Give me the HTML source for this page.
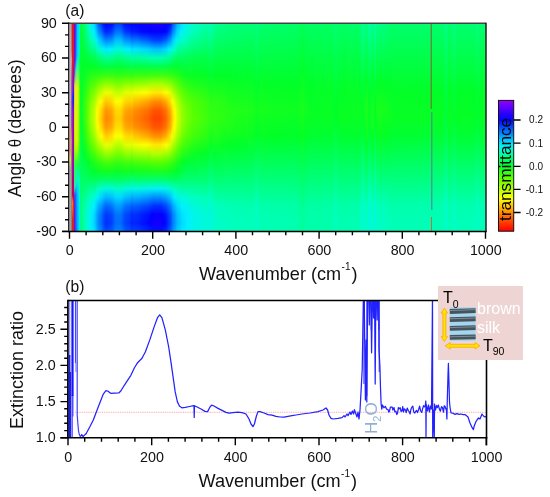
<!DOCTYPE html><html><head><meta charset="utf-8"><title>fig</title><style>
html,body{margin:0;padding:0;background:#fff}
body{width:550px;height:497px;position:relative;overflow:hidden;font-family:"Liberation Sans",sans-serif;color:#111}
.t{position:absolute;white-space:nowrap;line-height:1}
#L{position:absolute;left:0;top:0;width:550px;height:497px;will-change:transform}
.tk{font-size:14.3px}
.r{text-align:right}
.c{text-align:center}
.ax{font-size:18.1px}
.rot{transform-origin:0 0;transform:rotate(-90deg)}
sup,sub{line-height:0}
</style></head><body>
<svg width="550" height="497" viewBox="0 0 550 497" style="position:absolute;left:0;top:0"><defs><linearGradient id="g0" x1="0" y1="0" x2="0" y2="1"><stop offset="0" stop-color="#0eff22"/><stop offset="0.333" stop-color="#00ff30"/><stop offset="0.792" stop-color="#00ff64"/><stop offset="1" stop-color="#00ff69"/></linearGradient><linearGradient id="g1" x1="0" y1="0" x2="0" y2="1"><stop offset="0" stop-color="#0eff22"/><stop offset="0.333" stop-color="#00ff30"/><stop offset="0.792" stop-color="#00ff64"/><stop offset="1" stop-color="#00ff69"/></linearGradient><linearGradient id="g2" x1="0" y1="0" x2="0" y2="1"><stop offset="0" stop-color="#0eff22"/><stop offset="0.333" stop-color="#00ff30"/><stop offset="0.792" stop-color="#00ff64"/><stop offset="1" stop-color="#00ff69"/></linearGradient><linearGradient id="g3" x1="0" y1="0" x2="0" y2="1"><stop offset="0" stop-color="#0eff22"/><stop offset="0.333" stop-color="#00ff30"/><stop offset="0.792" stop-color="#00ff64"/><stop offset="1" stop-color="#00ff69"/></linearGradient><linearGradient id="g4" x1="0" y1="0" x2="0" y2="1"><stop offset="0" stop-color="#0eff22"/><stop offset="0.333" stop-color="#00ff30"/><stop offset="0.792" stop-color="#00ff64"/><stop offset="1" stop-color="#00ff69"/></linearGradient><linearGradient id="g5" x1="0" y1="0" x2="0" y2="1"><stop offset="0" stop-color="#0eff22"/><stop offset="0.333" stop-color="#00ff30"/><stop offset="0.792" stop-color="#00ff64"/><stop offset="1" stop-color="#00ff69"/></linearGradient><linearGradient id="g6" x1="0" y1="0" x2="0" y2="1"><stop offset="0" stop-color="#0eff22"/><stop offset="0.333" stop-color="#00ff30"/><stop offset="0.792" stop-color="#00ff64"/><stop offset="1" stop-color="#00ff69"/></linearGradient><linearGradient id="g7" x1="0" y1="0" x2="0" y2="1"><stop offset="0" stop-color="#0eff22"/><stop offset="0.333" stop-color="#00ff30"/><stop offset="0.792" stop-color="#00ff64"/><stop offset="1" stop-color="#00ff69"/></linearGradient><linearGradient id="g8" x1="0" y1="0" x2="0" y2="1"><stop offset="0" stop-color="#0eff22"/><stop offset="0.333" stop-color="#00ff30"/><stop offset="0.792" stop-color="#00ff64"/><stop offset="1" stop-color="#00ff69"/></linearGradient><linearGradient id="g9" x1="0" y1="0" x2="0" y2="1"><stop offset="0" stop-color="#0eff22"/><stop offset="0.333" stop-color="#00ff30"/><stop offset="0.792" stop-color="#00ff64"/><stop offset="1" stop-color="#00ff69"/></linearGradient><linearGradient id="g10" x1="0" y1="0" x2="0" y2="1"><stop offset="0" stop-color="#06ff25"/><stop offset="0.375" stop-color="#00ff2e"/><stop offset="0.875" stop-color="#00ff6f"/><stop offset="1" stop-color="#00ff70"/></linearGradient><linearGradient id="g11" x1="0" y1="0" x2="0" y2="1"><stop offset="0" stop-color="#00ff3c"/><stop offset="0.208" stop-color="#01ff27"/><stop offset="0.458" stop-color="#07ff25"/><stop offset="0.583" stop-color="#00ff3a"/><stop offset="0.875" stop-color="#00ff81"/><stop offset="1" stop-color="#00ff84"/></linearGradient><linearGradient id="g12" x1="0" y1="0" x2="0" y2="1"><stop offset="0" stop-color="#00ff57"/><stop offset="0.208" stop-color="#00ff29"/><stop offset="0.417" stop-color="#1cff1b"/><stop offset="0.542" stop-color="#0bff23"/><stop offset="0.583" stop-color="#00ff29"/><stop offset="0.875" stop-color="#00ff94"/><stop offset="0.958" stop-color="#00ff9d"/><stop offset="1" stop-color="#00ff98"/></linearGradient><linearGradient id="g13" x1="0" y1="0" x2="0" y2="1"><stop offset="0" stop-color="#0f6"/><stop offset="0.208" stop-color="#00ff29"/><stop offset="0.417" stop-color="#28ff16"/><stop offset="0.542" stop-color="#16ff1e"/><stop offset="0.625" stop-color="#00ff32"/><stop offset="0.875" stop-color="#00ff9d"/><stop offset="0.958" stop-color="#00ffa8"/><stop offset="1" stop-color="#00ffa2"/></linearGradient><linearGradient id="g14" x1="0" y1="0" x2="0" y2="1"><stop offset="0" stop-color="#00ff72"/><stop offset="0.208" stop-color="#00ff29"/><stop offset="0.375" stop-color="#2dff14"/><stop offset="0.458" stop-color="#31ff12"/><stop offset="0.583" stop-color="#0fff21"/><stop offset="0.625" stop-color="#00ff2b"/><stop offset="0.792" stop-color="#00ff7b"/><stop offset="0.875" stop-color="#00ffa4"/><stop offset="0.958" stop-color="#00ffb1"/><stop offset="1" stop-color="#0fa"/></linearGradient><linearGradient id="g15" x1="0" y1="0" x2="0" y2="1"><stop offset="0" stop-color="#00ff84"/><stop offset="0.167" stop-color="#00ff36"/><stop offset="0.208" stop-color="#00ff29"/><stop offset="0.375" stop-color="#38ff0f"/><stop offset="0.458" stop-color="#3eff0c"/><stop offset="0.542" stop-color="#2aff15"/><stop offset="0.625" stop-color="#04ff26"/><stop offset="0.75" stop-color="#00ff62"/><stop offset="0.875" stop-color="#00ffae"/><stop offset="0.958" stop-color="#00ffbd"/><stop offset="1" stop-color="#00ffb5"/></linearGradient><linearGradient id="g16" x1="0" y1="0" x2="0" y2="1"><stop offset="0" stop-color="#0f9"/><stop offset="0.083" stop-color="#00ff6d"/><stop offset="0.167" stop-color="#00ff39"/><stop offset="0.208" stop-color="#00ff29"/><stop offset="0.375" stop-color="#45ff09"/><stop offset="0.458" stop-color="#4eff05"/><stop offset="0.542" stop-color="#38ff0f"/><stop offset="0.625" stop-color="#0cff23"/><stop offset="0.667" stop-color="#00ff35"/><stop offset="0.75" stop-color="#00ff61"/><stop offset="0.875" stop-color="#00ffb9"/><stop offset="0.917" stop-color="#00fdc6"/><stop offset="1" stop-color="#00fec1"/></linearGradient><linearGradient id="g17" x1="0" y1="0" x2="0" y2="1"><stop offset="0" stop-color="#00ffb0"/><stop offset="0.083" stop-color="#00ff7c"/><stop offset="0.167" stop-color="#00ff3c"/><stop offset="0.208" stop-color="#00ff29"/><stop offset="0.375" stop-color="#53ff03"/><stop offset="0.458" stop-color="#5fff00"/><stop offset="0.542" stop-color="#46ff09"/><stop offset="0.667" stop-color="#00ff2e"/><stop offset="0.75" stop-color="#00ff60"/><stop offset="0.833" stop-color="#00ffa9"/><stop offset="0.875" stop-color="#00fec4"/><stop offset="0.917" stop-color="#00fad2"/><stop offset="0.958" stop-color="#00fad5"/><stop offset="1" stop-color="#00fccc"/></linearGradient><linearGradient id="g18" x1="0" y1="0" x2="0" y2="1"><stop offset="0" stop-color="#00fdc6"/><stop offset="0.042" stop-color="#00ffaf"/><stop offset="0.167" stop-color="#00ff40"/><stop offset="0.208" stop-color="#00ff29"/><stop offset="0.375" stop-color="#62ff00"/><stop offset="0.458" stop-color="#70ff00"/><stop offset="0.5" stop-color="#68ff00"/><stop offset="0.583" stop-color="#3bff0e"/><stop offset="0.667" stop-color="#01ff27"/><stop offset="0.75" stop-color="#00ff5f"/><stop offset="0.833" stop-color="#00ffb2"/><stop offset="0.875" stop-color="#00fbcf"/><stop offset="0.917" stop-color="#00f7df"/><stop offset="0.958" stop-color="#00f7e2"/><stop offset="1" stop-color="#00f9d8"/></linearGradient><linearGradient id="g19" x1="0" y1="0" x2="0" y2="1"><stop offset="0" stop-color="#00f9d9"/><stop offset="0.042" stop-color="#00fec2"/><stop offset="0.167" stop-color="#00ff43"/><stop offset="0.208" stop-color="#00ff29"/><stop offset="0.333" stop-color="#58ff01"/><stop offset="0.417" stop-color="#7fff00"/><stop offset="0.458" stop-color="#82ff00"/><stop offset="0.5" stop-color="#79ff00"/><stop offset="0.583" stop-color="#48ff08"/><stop offset="0.667" stop-color="#07ff25"/><stop offset="0.708" stop-color="#00ff3a"/><stop offset="0.75" stop-color="#00ff5e"/><stop offset="0.833" stop-color="#0fb"/><stop offset="0.875" stop-color="#00f9d9"/><stop offset="0.917" stop-color="#00f5eb"/><stop offset="0.958" stop-color="#00f4ee"/><stop offset="1" stop-color="#00f6e3"/></linearGradient><linearGradient id="g20" x1="0" y1="0" x2="0" y2="1"><stop offset="0" stop-color="#00f5eb"/><stop offset="0.042" stop-color="#00fad2"/><stop offset="0.083" stop-color="#00ffa9"/><stop offset="0.167" stop-color="#00ff47"/><stop offset="0.208" stop-color="#00ff29"/><stop offset="0.333" stop-color="#63ff00"/><stop offset="0.375" stop-color="#7eff00"/><stop offset="0.417" stop-color="#8eff00"/><stop offset="0.458" stop-color="#92ff00"/><stop offset="0.5" stop-color="#8f0"/><stop offset="0.583" stop-color="#53ff03"/><stop offset="0.667" stop-color="#0cff23"/><stop offset="0.708" stop-color="#00ff36"/><stop offset="0.75" stop-color="#00ff5d"/><stop offset="0.833" stop-color="#00fec2"/><stop offset="0.875" stop-color="#00f6e3"/><stop offset="0.917" stop-color="#00f2f6"/><stop offset="0.958" stop-color="#00f1fa"/><stop offset="1" stop-color="#00f4ee"/></linearGradient><linearGradient id="g21" x1="0" y1="0" x2="0" y2="1"><stop offset="0" stop-color="#00f1fb"/><stop offset="0.042" stop-color="#00f7df"/><stop offset="0.083" stop-color="#00ffb5"/><stop offset="0.167" stop-color="#00ff49"/><stop offset="0.208" stop-color="#00ff29"/><stop offset="0.333" stop-color="#6cff00"/><stop offset="0.375" stop-color="#8aff00"/><stop offset="0.417" stop-color="#9cff00"/><stop offset="0.458" stop-color="#a1ff00"/><stop offset="0.5" stop-color="#96ff00"/><stop offset="0.542" stop-color="#7fff00"/><stop offset="0.583" stop-color="#5dff00"/><stop offset="0.667" stop-color="#11ff20"/><stop offset="0.708" stop-color="#00ff32"/><stop offset="0.75" stop-color="#00ff5c"/><stop offset="0.833" stop-color="#00fdc8"/><stop offset="0.875" stop-color="#00f5eb"/><stop offset="0.917" stop-color="#00efff"/><stop offset="0.958" stop-color="#00ebff"/><stop offset="1" stop-color="#00f2f7"/></linearGradient><linearGradient id="g22" x1="0" y1="0" x2="0" y2="1"><stop offset="0" stop-color="#00e9ff"/><stop offset="0.042" stop-color="#00f5ea"/><stop offset="0.083" stop-color="#00ffbf"/><stop offset="0.167" stop-color="#00ff4b"/><stop offset="0.208" stop-color="#00ff28"/><stop offset="0.292" stop-color="#4cff06"/><stop offset="0.375" stop-color="#94ff00"/><stop offset="0.417" stop-color="#a7ff00"/><stop offset="0.458" stop-color="#acff00"/><stop offset="0.5" stop-color="#a2ff00"/><stop offset="0.583" stop-color="#6f0"/><stop offset="0.667" stop-color="#15ff1f"/><stop offset="0.708" stop-color="#00ff2e"/><stop offset="0.75" stop-color="#00ff5b"/><stop offset="0.833" stop-color="#00fccd"/><stop offset="0.875" stop-color="#00f3f2"/><stop offset="0.917" stop-color="#00e7ff"/><stop offset="0.958" stop-color="#00e3ff"/><stop offset="1" stop-color="#00f0ff"/></linearGradient><linearGradient id="g23" x1="0" y1="0" x2="0" y2="1"><stop offset="0" stop-color="#00dfff"/><stop offset="0.042" stop-color="#00f3f2"/><stop offset="0.083" stop-color="#00fdc5"/><stop offset="0.167" stop-color="#00ff4d"/><stop offset="0.208" stop-color="#00ff28"/><stop offset="0.292" stop-color="#50ff04"/><stop offset="0.375" stop-color="#9cff00"/><stop offset="0.417" stop-color="#b0ff00"/><stop offset="0.458" stop-color="#b6ff00"/><stop offset="0.5" stop-color="#abff00"/><stop offset="0.542" stop-color="#91ff00"/><stop offset="0.583" stop-color="#6cff00"/><stop offset="0.667" stop-color="#18ff1d"/><stop offset="0.708" stop-color="#00ff2c"/><stop offset="0.75" stop-color="#00ff5b"/><stop offset="0.833" stop-color="#00fbd0"/><stop offset="0.875" stop-color="#00f2f7"/><stop offset="0.917" stop-color="#00e1ff"/><stop offset="0.958" stop-color="#0df"/><stop offset="1" stop-color="#00ebff"/></linearGradient><linearGradient id="g24" x1="0" y1="0" x2="0" y2="1"><stop offset="0" stop-color="#00ceff"/><stop offset="0.042" stop-color="#00edff"/><stop offset="0.083" stop-color="#00fad2"/><stop offset="0.167" stop-color="#00ff51"/><stop offset="0.208" stop-color="#00ff29"/><stop offset="0.292" stop-color="#56ff02"/><stop offset="0.375" stop-color="#a8ff00"/><stop offset="0.417" stop-color="#bfff00"/><stop offset="0.458" stop-color="#c6ff00"/><stop offset="0.5" stop-color="#baff00"/><stop offset="0.542" stop-color="#9eff00"/><stop offset="0.625" stop-color="#49ff08"/><stop offset="0.667" stop-color="#1dff1b"/><stop offset="0.708" stop-color="#00ff28"/><stop offset="0.75" stop-color="#00ff5b"/><stop offset="0.833" stop-color="#00f9d8"/><stop offset="0.875" stop-color="#00edff"/><stop offset="0.917" stop-color="#00d6ff"/><stop offset="0.958" stop-color="#00d1ff"/><stop offset="1" stop-color="#00e0ff"/></linearGradient><linearGradient id="g25" x1="0" y1="0" x2="0" y2="1"><stop offset="0" stop-color="#00b6ff"/><stop offset="0.042" stop-color="#00d8ff"/><stop offset="0.083" stop-color="#00f6e4"/><stop offset="0.167" stop-color="#00ff58"/><stop offset="0.208" stop-color="#00ff2c"/><stop offset="0.25" stop-color="#28ff16"/><stop offset="0.292" stop-color="#5dff00"/><stop offset="0.375" stop-color="#b8ff00"/><stop offset="0.417" stop-color="#d2ff00"/><stop offset="0.458" stop-color="#daff00"/><stop offset="0.5" stop-color="#cdff00"/><stop offset="0.542" stop-color="#aeff00"/><stop offset="0.625" stop-color="#52ff04"/><stop offset="0.667" stop-color="#21ff19"/><stop offset="0.708" stop-color="#02ff27"/><stop offset="0.75" stop-color="#00ff5c"/><stop offset="0.833" stop-color="#00f6e4"/><stop offset="0.875" stop-color="#00dfff"/><stop offset="0.917" stop-color="#00c6ff"/><stop offset="0.958" stop-color="#00c1ff"/><stop offset="1" stop-color="#00d1ff"/></linearGradient><linearGradient id="g26" x1="0" y1="0" x2="0" y2="1"><stop offset="0" stop-color="#0098ff"/><stop offset="0.083" stop-color="#00f2f8"/><stop offset="0.125" stop-color="#00ffb1"/><stop offset="0.167" stop-color="#00ff60"/><stop offset="0.208" stop-color="#00ff2f"/><stop offset="0.25" stop-color="#2aff15"/><stop offset="0.292" stop-color="#64ff00"/><stop offset="0.375" stop-color="#caff00"/><stop offset="0.417" stop-color="#e8ff00"/><stop offset="0.458" stop-color="#f0ff00"/><stop offset="0.5" stop-color="#e2ff00"/><stop offset="0.542" stop-color="#c1ff00"/><stop offset="0.625" stop-color="#5bff00"/><stop offset="0.667" stop-color="#27ff17"/><stop offset="0.708" stop-color="#05ff26"/><stop offset="0.75" stop-color="#00ff5e"/><stop offset="0.792" stop-color="#00ffae"/><stop offset="0.833" stop-color="#00f3f0"/><stop offset="0.875" stop-color="#00cfff"/><stop offset="0.917" stop-color="#00b3ff"/><stop offset="0.958" stop-color="#00adff"/><stop offset="1" stop-color="#00bfff"/></linearGradient><linearGradient id="g27" x1="0" y1="0" x2="0" y2="1"><stop offset="0" stop-color="#007aff"/><stop offset="0.042" stop-color="#00a8ff"/><stop offset="0.083" stop-color="#00e4ff"/><stop offset="0.125" stop-color="#00fec1"/><stop offset="0.167" stop-color="#00ff68"/><stop offset="0.208" stop-color="#0f3"/><stop offset="0.25" stop-color="#2cff14"/><stop offset="0.292" stop-color="#6cff00"/><stop offset="0.375" stop-color="#dcff00"/><stop offset="0.417" stop-color="#fcff00"/><stop offset="0.458" stop-color="#fff900"/><stop offset="0.5" stop-color="#f8ff00"/><stop offset="0.542" stop-color="#d4ff00"/><stop offset="0.625" stop-color="#65ff00"/><stop offset="0.667" stop-color="#2cff14"/><stop offset="0.708" stop-color="#07ff25"/><stop offset="0.75" stop-color="#00ff60"/><stop offset="0.792" stop-color="#00ffb7"/><stop offset="0.833" stop-color="#00f0fd"/><stop offset="0.875" stop-color="#00bfff"/><stop offset="0.917" stop-color="#009fff"/><stop offset="0.958" stop-color="#0098ff"/><stop offset="1" stop-color="#00adff"/></linearGradient><linearGradient id="g28" x1="0" y1="0" x2="0" y2="1"><stop offset="0" stop-color="#0061ff"/><stop offset="0.042" stop-color="#0092ff"/><stop offset="0.083" stop-color="#00d5ff"/><stop offset="0.125" stop-color="#00fccc"/><stop offset="0.167" stop-color="#00ff6f"/><stop offset="0.208" stop-color="#00ff35"/><stop offset="0.25" stop-color="#2eff14"/><stop offset="0.292" stop-color="#72ff00"/><stop offset="0.333" stop-color="#b4ff00"/><stop offset="0.375" stop-color="#ebff00"/><stop offset="0.417" stop-color="#fff100"/><stop offset="0.458" stop-color="#ffe700"/><stop offset="0.5" stop-color="#fff500"/><stop offset="0.542" stop-color="#e3ff00"/><stop offset="0.625" stop-color="#6dff00"/><stop offset="0.667" stop-color="#30ff13"/><stop offset="0.708" stop-color="#09ff24"/><stop offset="0.75" stop-color="#00ff61"/><stop offset="0.792" stop-color="#00ffbe"/><stop offset="0.833" stop-color="#00e8ff"/><stop offset="0.875" stop-color="#00b2ff"/><stop offset="0.917" stop-color="#008dff"/><stop offset="0.958" stop-color="#0086ff"/><stop offset="1" stop-color="#009dff"/></linearGradient><linearGradient id="g29" x1="0" y1="0" x2="0" y2="1"><stop offset="0" stop-color="#0050ff"/><stop offset="0.042" stop-color="#0083ff"/><stop offset="0.083" stop-color="#00caff"/><stop offset="0.125" stop-color="#00fad4"/><stop offset="0.167" stop-color="#00ff74"/><stop offset="0.208" stop-color="#00ff37"/><stop offset="0.25" stop-color="#2fff13"/><stop offset="0.292" stop-color="#76ff00"/><stop offset="0.333" stop-color="#bf0"/><stop offset="0.375" stop-color="#f5ff00"/><stop offset="0.417" stop-color="#ffe600"/><stop offset="0.458" stop-color="#ffdc00"/><stop offset="0.5" stop-color="#ffea00"/><stop offset="0.542" stop-color="#ef0"/><stop offset="0.625" stop-color="#72ff00"/><stop offset="0.667" stop-color="#3f1"/><stop offset="0.708" stop-color="#0bff23"/><stop offset="0.75" stop-color="#00ff62"/><stop offset="0.792" stop-color="#00fec3"/><stop offset="0.833" stop-color="#00e1ff"/><stop offset="0.875" stop-color="#00a8ff"/><stop offset="0.917" stop-color="#0082ff"/><stop offset="0.958" stop-color="#007aff"/><stop offset="1" stop-color="#0092ff"/></linearGradient><linearGradient id="g30" x1="0" y1="0" x2="0" y2="1"><stop offset="0" stop-color="#04f"/><stop offset="0.042" stop-color="#0079ff"/><stop offset="0.083" stop-color="#00c3ff"/><stop offset="0.125" stop-color="#00f9d9"/><stop offset="0.167" stop-color="#00ff78"/><stop offset="0.208" stop-color="#00ff38"/><stop offset="0.25" stop-color="#30ff13"/><stop offset="0.292" stop-color="#79ff00"/><stop offset="0.333" stop-color="#c1ff00"/><stop offset="0.375" stop-color="#fcff00"/><stop offset="0.417" stop-color="#ffde00"/><stop offset="0.458" stop-color="#ffd200"/><stop offset="0.5" stop-color="#ffe200"/><stop offset="0.542" stop-color="#f5ff00"/><stop offset="0.625" stop-color="#76ff00"/><stop offset="0.667" stop-color="#35ff10"/><stop offset="0.708" stop-color="#0cff23"/><stop offset="0.75" stop-color="#00ff63"/><stop offset="0.792" stop-color="#00fdc6"/><stop offset="0.833" stop-color="#00dcff"/><stop offset="0.875" stop-color="#00a1ff"/><stop offset="0.917" stop-color="#007aff"/><stop offset="0.958" stop-color="#0072ff"/><stop offset="1" stop-color="#008bff"/></linearGradient><linearGradient id="g31" x1="0" y1="0" x2="0" y2="1"><stop offset="0" stop-color="#03f"/><stop offset="0.042" stop-color="#006aff"/><stop offset="0.083" stop-color="#00b9ff"/><stop offset="0.125" stop-color="#00f7e1"/><stop offset="0.167" stop-color="#00ff7d"/><stop offset="0.208" stop-color="#00ff3a"/><stop offset="0.25" stop-color="#31ff12"/><stop offset="0.292" stop-color="#7eff00"/><stop offset="0.333" stop-color="#c8ff00"/><stop offset="0.375" stop-color="#fff800"/><stop offset="0.417" stop-color="#ffd200"/><stop offset="0.458" stop-color="#ffc500"/><stop offset="0.5" stop-color="#ffd600"/><stop offset="0.542" stop-color="#fffe00"/><stop offset="0.625" stop-color="#7cff00"/><stop offset="0.667" stop-color="#38ff0f"/><stop offset="0.708" stop-color="#0dff22"/><stop offset="0.75" stop-color="#00ff64"/><stop offset="0.792" stop-color="#00fcca"/><stop offset="0.833" stop-color="#00d6ff"/><stop offset="0.875" stop-color="#0096ff"/><stop offset="0.917" stop-color="#006eff"/><stop offset="0.958" stop-color="#06f"/><stop offset="1" stop-color="#0080ff"/></linearGradient><linearGradient id="g32" x1="0" y1="0" x2="0" y2="1"><stop offset="0" stop-color="#001fff"/><stop offset="0.042" stop-color="#0058ff"/><stop offset="0.083" stop-color="#00acff"/><stop offset="0.125" stop-color="#00f5ea"/><stop offset="0.167" stop-color="#00ff83"/><stop offset="0.208" stop-color="#00ff3c"/><stop offset="0.25" stop-color="#33ff12"/><stop offset="0.292" stop-color="#83ff00"/><stop offset="0.333" stop-color="#d1ff00"/><stop offset="0.375" stop-color="#ffed00"/><stop offset="0.417" stop-color="#ffc300"/><stop offset="0.458" stop-color="#ffb500"/><stop offset="0.5" stop-color="#ffc700"/><stop offset="0.542" stop-color="#fff300"/><stop offset="0.583" stop-color="#cf0"/><stop offset="0.625" stop-color="#82ff00"/><stop offset="0.667" stop-color="#3cff0d"/><stop offset="0.708" stop-color="#0fff21"/><stop offset="0.75" stop-color="#00ff65"/><stop offset="0.792" stop-color="#00fbcf"/><stop offset="0.833" stop-color="#00ceff"/><stop offset="0.875" stop-color="#008bff"/><stop offset="0.917" stop-color="#0060ff"/><stop offset="0.958" stop-color="#0058ff"/><stop offset="1" stop-color="#0073ff"/></linearGradient><linearGradient id="g33" x1="0" y1="0" x2="0" y2="1"><stop offset="0" stop-color="#000bff"/><stop offset="0.042" stop-color="#0047ff"/><stop offset="0.083" stop-color="#009eff"/><stop offset="0.125" stop-color="#00f3f3"/><stop offset="0.167" stop-color="#00ff89"/><stop offset="0.208" stop-color="#00ff3f"/><stop offset="0.25" stop-color="#34ff11"/><stop offset="0.292" stop-color="#8f0"/><stop offset="0.333" stop-color="#daff00"/><stop offset="0.375" stop-color="#ffe200"/><stop offset="0.417" stop-color="#ffb400"/><stop offset="0.458" stop-color="#ffa500"/><stop offset="0.5" stop-color="#ffb800"/><stop offset="0.542" stop-color="#ffe700"/><stop offset="0.583" stop-color="#d6ff00"/><stop offset="0.625" stop-color="#89ff00"/><stop offset="0.667" stop-color="#3fff0c"/><stop offset="0.708" stop-color="#10ff21"/><stop offset="0.75" stop-color="#0f6"/><stop offset="0.792" stop-color="#00fad4"/><stop offset="0.833" stop-color="#00c6ff"/><stop offset="0.875" stop-color="#007fff"/><stop offset="0.917" stop-color="#0052ff"/><stop offset="0.958" stop-color="#004aff"/><stop offset="1" stop-color="#06f"/></linearGradient><linearGradient id="g34" x1="0" y1="0" x2="0" y2="1"><stop offset="0" stop-color="#0005ff"/><stop offset="0.042" stop-color="#0036ff"/><stop offset="0.125" stop-color="#00f1fc"/><stop offset="0.167" stop-color="#00ff8f"/><stop offset="0.208" stop-color="#00ff41"/><stop offset="0.25" stop-color="#35ff10"/><stop offset="0.292" stop-color="#8dff00"/><stop offset="0.333" stop-color="#e3ff00"/><stop offset="0.375" stop-color="#ffd600"/><stop offset="0.417" stop-color="#ffa600"/><stop offset="0.458" stop-color="#ff9600"/><stop offset="0.5" stop-color="#ffa900"/><stop offset="0.542" stop-color="#ffdc00"/><stop offset="0.583" stop-color="#dfff00"/><stop offset="0.667" stop-color="#43ff0a"/><stop offset="0.708" stop-color="#12ff20"/><stop offset="0.75" stop-color="#00ff67"/><stop offset="0.792" stop-color="#00f9d8"/><stop offset="0.833" stop-color="#00beff"/><stop offset="0.875" stop-color="#0073ff"/><stop offset="0.917" stop-color="#0046ff"/><stop offset="0.958" stop-color="#003cff"/><stop offset="1" stop-color="#0059ff"/></linearGradient><linearGradient id="g35" x1="0" y1="0" x2="0" y2="1"><stop offset="0" stop-color="#0001ff"/><stop offset="0.042" stop-color="#0029ff"/><stop offset="0.125" stop-color="#00ecff"/><stop offset="0.167" stop-color="#00ff93"/><stop offset="0.208" stop-color="#00ff42"/><stop offset="0.25" stop-color="#36ff10"/><stop offset="0.292" stop-color="#90ff00"/><stop offset="0.333" stop-color="#e9ff00"/><stop offset="0.375" stop-color="#ffcd00"/><stop offset="0.417" stop-color="#ff9b00"/><stop offset="0.458" stop-color="#ff8b00"/><stop offset="0.5" stop-color="#ff9e00"/><stop offset="0.542" stop-color="#ffd200"/><stop offset="0.583" stop-color="#e6ff00"/><stop offset="0.667" stop-color="#45ff09"/><stop offset="0.708" stop-color="#13ff1f"/><stop offset="0.75" stop-color="#00ff68"/><stop offset="0.792" stop-color="#00f8dc"/><stop offset="0.833" stop-color="#00b8ff"/><stop offset="0.875" stop-color="#006aff"/><stop offset="0.917" stop-color="#003bff"/><stop offset="0.958" stop-color="#0032ff"/><stop offset="1" stop-color="#0050ff"/></linearGradient><linearGradient id="g36" x1="0" y1="0" x2="0" y2="1"><stop offset="0" stop-color="#0100ff"/><stop offset="0.042" stop-color="#0024ff"/><stop offset="0.125" stop-color="#00eaff"/><stop offset="0.167" stop-color="#00ff95"/><stop offset="0.208" stop-color="#00ff43"/><stop offset="0.25" stop-color="#37ff10"/><stop offset="0.292" stop-color="#92ff00"/><stop offset="0.333" stop-color="#ecff00"/><stop offset="0.375" stop-color="#ffc900"/><stop offset="0.417" stop-color="#ff9700"/><stop offset="0.458" stop-color="#ff8700"/><stop offset="0.5" stop-color="#ff9a00"/><stop offset="0.542" stop-color="#ffce00"/><stop offset="0.583" stop-color="#e9ff00"/><stop offset="0.667" stop-color="#46ff09"/><stop offset="0.708" stop-color="#14ff1f"/><stop offset="0.75" stop-color="#00ff69"/><stop offset="0.792" stop-color="#00f8dd"/><stop offset="0.833" stop-color="#00b6ff"/><stop offset="0.875" stop-color="#0067ff"/><stop offset="0.917" stop-color="#0038ff"/><stop offset="0.958" stop-color="#002eff"/><stop offset="1" stop-color="#004cff"/></linearGradient><linearGradient id="g37" x1="0" y1="0" x2="0" y2="1"><stop offset="0" stop-color="#00f"/><stop offset="0.042" stop-color="#0028ff"/><stop offset="0.125" stop-color="#00ecff"/><stop offset="0.167" stop-color="#00ff94"/><stop offset="0.208" stop-color="#00ff42"/><stop offset="0.25" stop-color="#36ff10"/><stop offset="0.292" stop-color="#91ff00"/><stop offset="0.333" stop-color="#eaff00"/><stop offset="0.375" stop-color="#fc0"/><stop offset="0.417" stop-color="#f90"/><stop offset="0.458" stop-color="#ff8a00"/><stop offset="0.5" stop-color="#ff9d00"/><stop offset="0.542" stop-color="#ffd100"/><stop offset="0.583" stop-color="#e7ff00"/><stop offset="0.667" stop-color="#46ff09"/><stop offset="0.708" stop-color="#13ff1f"/><stop offset="0.75" stop-color="#00ff68"/><stop offset="0.792" stop-color="#00f8dc"/><stop offset="0.833" stop-color="#00b8ff"/><stop offset="0.875" stop-color="#0069ff"/><stop offset="0.917" stop-color="#003aff"/><stop offset="0.958" stop-color="#0031ff"/><stop offset="1" stop-color="#004fff"/></linearGradient><linearGradient id="g38" x1="0" y1="0" x2="0" y2="1"><stop offset="0" stop-color="#0002ff"/><stop offset="0.042" stop-color="#002cff"/><stop offset="0.125" stop-color="#0ef"/><stop offset="0.167" stop-color="#00ff92"/><stop offset="0.208" stop-color="#00ff42"/><stop offset="0.25" stop-color="#36ff10"/><stop offset="0.292" stop-color="#90ff00"/><stop offset="0.333" stop-color="#e8ff00"/><stop offset="0.375" stop-color="#ffcf00"/><stop offset="0.417" stop-color="#ff9d00"/><stop offset="0.458" stop-color="#ff8d00"/><stop offset="0.5" stop-color="#ffa100"/><stop offset="0.542" stop-color="#ffd400"/><stop offset="0.583" stop-color="#e5ff00"/><stop offset="0.667" stop-color="#45ff09"/><stop offset="0.708" stop-color="#13ff20"/><stop offset="0.75" stop-color="#00ff68"/><stop offset="0.792" stop-color="#00f8db"/><stop offset="0.833" stop-color="#00baff"/><stop offset="0.875" stop-color="#006cff"/><stop offset="0.917" stop-color="#003eff"/><stop offset="0.958" stop-color="#0034ff"/><stop offset="1" stop-color="#0052ff"/></linearGradient><linearGradient id="g39" x1="0" y1="0" x2="0" y2="1"><stop offset="0" stop-color="#0003ff"/><stop offset="0.042" stop-color="#0030ff"/><stop offset="0.125" stop-color="#00f0ff"/><stop offset="0.167" stop-color="#00ff91"/><stop offset="0.208" stop-color="#00ff41"/><stop offset="0.25" stop-color="#36ff10"/><stop offset="0.292" stop-color="#8eff00"/><stop offset="0.333" stop-color="#e6ff00"/><stop offset="0.375" stop-color="#ffd200"/><stop offset="0.417" stop-color="#ffa100"/><stop offset="0.458" stop-color="#ff9100"/><stop offset="0.5" stop-color="#ffa400"/><stop offset="0.542" stop-color="#ffd700"/><stop offset="0.583" stop-color="#e2ff00"/><stop offset="0.667" stop-color="#44ff0a"/><stop offset="0.708" stop-color="#12ff20"/><stop offset="0.75" stop-color="#00ff68"/><stop offset="0.792" stop-color="#00f9da"/><stop offset="0.833" stop-color="#00bcff"/><stop offset="0.875" stop-color="#006fff"/><stop offset="0.917" stop-color="#0041ff"/><stop offset="0.958" stop-color="#0038ff"/><stop offset="1" stop-color="#05f"/></linearGradient><linearGradient id="g40" x1="0" y1="0" x2="0" y2="1"><stop offset="0" stop-color="#0005ff"/><stop offset="0.042" stop-color="#0034ff"/><stop offset="0.125" stop-color="#00f0fd"/><stop offset="0.167" stop-color="#00ff8f"/><stop offset="0.208" stop-color="#00ff41"/><stop offset="0.25" stop-color="#35ff10"/><stop offset="0.292" stop-color="#8dff00"/><stop offset="0.333" stop-color="#e4ff00"/><stop offset="0.375" stop-color="#ffd500"/><stop offset="0.417" stop-color="#ffa400"/><stop offset="0.458" stop-color="#ff9400"/><stop offset="0.5" stop-color="#ffa700"/><stop offset="0.542" stop-color="#ffda00"/><stop offset="0.583" stop-color="#e0ff00"/><stop offset="0.667" stop-color="#43ff0a"/><stop offset="0.708" stop-color="#12ff20"/><stop offset="0.75" stop-color="#00ff68"/><stop offset="0.792" stop-color="#00f9d9"/><stop offset="0.833" stop-color="#00bdff"/><stop offset="0.875" stop-color="#0072ff"/><stop offset="0.917" stop-color="#04f"/><stop offset="0.958" stop-color="#003bff"/><stop offset="1" stop-color="#0058ff"/></linearGradient><linearGradient id="g41" x1="0" y1="0" x2="0" y2="1"><stop offset="0" stop-color="#0006ff"/><stop offset="0.042" stop-color="#0038ff"/><stop offset="0.125" stop-color="#00f1fb"/><stop offset="0.167" stop-color="#00ff8e"/><stop offset="0.208" stop-color="#00ff40"/><stop offset="0.25" stop-color="#35ff10"/><stop offset="0.292" stop-color="#8cff00"/><stop offset="0.333" stop-color="#e1ff00"/><stop offset="0.375" stop-color="#ffd800"/><stop offset="0.417" stop-color="#ffa800"/><stop offset="0.458" stop-color="#ff9800"/><stop offset="0.5" stop-color="#ffab00"/><stop offset="0.542" stop-color="#fd0"/><stop offset="0.583" stop-color="#deff00"/><stop offset="0.625" stop-color="#8eff00"/><stop offset="0.667" stop-color="#42ff0b"/><stop offset="0.708" stop-color="#12ff20"/><stop offset="0.75" stop-color="#00ff67"/><stop offset="0.792" stop-color="#00f9d8"/><stop offset="0.833" stop-color="#00bfff"/><stop offset="0.875" stop-color="#0075ff"/><stop offset="0.917" stop-color="#0047ff"/><stop offset="0.958" stop-color="#003eff"/><stop offset="1" stop-color="#005bff"/></linearGradient><linearGradient id="g42" x1="0" y1="0" x2="0" y2="1"><stop offset="0" stop-color="#000aff"/><stop offset="0.042" stop-color="#04f"/><stop offset="0.125" stop-color="#00f2f5"/><stop offset="0.167" stop-color="#00ff8a"/><stop offset="0.208" stop-color="#00ff3f"/><stop offset="0.25" stop-color="#34ff11"/><stop offset="0.292" stop-color="#89ff00"/><stop offset="0.333" stop-color="#dcff00"/><stop offset="0.375" stop-color="#ffe000"/><stop offset="0.417" stop-color="#ffb100"/><stop offset="0.458" stop-color="#ffa200"/><stop offset="0.5" stop-color="#ffb500"/><stop offset="0.542" stop-color="#ffe500"/><stop offset="0.583" stop-color="#d7ff00"/><stop offset="0.625" stop-color="#8aff00"/><stop offset="0.667" stop-color="#40ff0c"/><stop offset="0.708" stop-color="#11ff21"/><stop offset="0.75" stop-color="#00ff67"/><stop offset="0.792" stop-color="#00fad4"/><stop offset="0.833" stop-color="#00c4ff"/><stop offset="0.875" stop-color="#007cff"/><stop offset="0.917" stop-color="#0050ff"/><stop offset="0.958" stop-color="#0047ff"/><stop offset="1" stop-color="#0063ff"/></linearGradient><linearGradient id="g43" x1="0" y1="0" x2="0" y2="1"><stop offset="0" stop-color="#0018ff"/><stop offset="0.042" stop-color="#0052ff"/><stop offset="0.083" stop-color="#00a7ff"/><stop offset="0.125" stop-color="#00f4ee"/><stop offset="0.167" stop-color="#00ff85"/><stop offset="0.208" stop-color="#00ff3d"/><stop offset="0.25" stop-color="#3f1"/><stop offset="0.292" stop-color="#85ff00"/><stop offset="0.333" stop-color="#d4ff00"/><stop offset="0.375" stop-color="#ffe900"/><stop offset="0.417" stop-color="#ffbe00"/><stop offset="0.458" stop-color="#ffaf00"/><stop offset="0.5" stop-color="#ffc200"/><stop offset="0.542" stop-color="#fe0"/><stop offset="0.583" stop-color="#cfff00"/><stop offset="0.625" stop-color="#85ff00"/><stop offset="0.667" stop-color="#3dff0d"/><stop offset="0.708" stop-color="#0fff21"/><stop offset="0.75" stop-color="#0f6"/><stop offset="0.792" stop-color="#00fbd0"/><stop offset="0.833" stop-color="#00cbff"/><stop offset="0.875" stop-color="#0086ff"/><stop offset="0.917" stop-color="#005bff"/><stop offset="0.958" stop-color="#0053ff"/><stop offset="1" stop-color="#006eff"/></linearGradient><linearGradient id="g44" x1="0" y1="0" x2="0" y2="1"><stop offset="0" stop-color="#0029ff"/><stop offset="0.042" stop-color="#0061ff"/><stop offset="0.083" stop-color="#00b2ff"/><stop offset="0.125" stop-color="#00f6e6"/><stop offset="0.167" stop-color="#00ff80"/><stop offset="0.208" stop-color="#00ff3b"/><stop offset="0.25" stop-color="#32ff12"/><stop offset="0.292" stop-color="#80ff00"/><stop offset="0.333" stop-color="#cdff00"/><stop offset="0.375" stop-color="#fff200"/><stop offset="0.417" stop-color="#ffca00"/><stop offset="0.458" stop-color="#ffbd00"/><stop offset="0.5" stop-color="#ffce00"/><stop offset="0.542" stop-color="#fff800"/><stop offset="0.583" stop-color="#c7ff00"/><stop offset="0.625" stop-color="#7fff00"/><stop offset="0.667" stop-color="#3aff0e"/><stop offset="0.708" stop-color="#0eff22"/><stop offset="0.75" stop-color="#00ff65"/><stop offset="0.792" stop-color="#00fccc"/><stop offset="0.833" stop-color="#00d2ff"/><stop offset="0.875" stop-color="#0090ff"/><stop offset="0.917" stop-color="#0067ff"/><stop offset="0.958" stop-color="#005fff"/><stop offset="1" stop-color="#0079ff"/></linearGradient><linearGradient id="g45" x1="0" y1="0" x2="0" y2="1"><stop offset="0" stop-color="#0036ff"/><stop offset="0.042" stop-color="#006dff"/><stop offset="0.083" stop-color="#0bf"/><stop offset="0.125" stop-color="#00f7e0"/><stop offset="0.167" stop-color="#00ff7c"/><stop offset="0.208" stop-color="#00ff3a"/><stop offset="0.25" stop-color="#31ff12"/><stop offset="0.292" stop-color="#7dff00"/><stop offset="0.333" stop-color="#c7ff00"/><stop offset="0.375" stop-color="#fffa00"/><stop offset="0.417" stop-color="#ffd400"/><stop offset="0.458" stop-color="#ffc800"/><stop offset="0.5" stop-color="#ffd900"/><stop offset="0.542" stop-color="#feff00"/><stop offset="0.625" stop-color="#7bff00"/><stop offset="0.667" stop-color="#38ff0f"/><stop offset="0.708" stop-color="#0dff22"/><stop offset="0.75" stop-color="#00ff64"/><stop offset="0.792" stop-color="#00fcc9"/><stop offset="0.833" stop-color="#00d7ff"/><stop offset="0.875" stop-color="#0098ff"/><stop offset="0.917" stop-color="#0070ff"/><stop offset="0.958" stop-color="#0068ff"/><stop offset="1" stop-color="#0082ff"/></linearGradient><linearGradient id="g46" x1="0" y1="0" x2="0" y2="1"><stop offset="0" stop-color="#003cff"/><stop offset="0.042" stop-color="#0072ff"/><stop offset="0.083" stop-color="#00beff"/><stop offset="0.125" stop-color="#00f8dd"/><stop offset="0.167" stop-color="#00ff7a"/><stop offset="0.208" stop-color="#00ff39"/><stop offset="0.25" stop-color="#31ff12"/><stop offset="0.292" stop-color="#7cff00"/><stop offset="0.333" stop-color="#c4ff00"/><stop offset="0.375" stop-color="#fffd00"/><stop offset="0.417" stop-color="#ffd900"/><stop offset="0.458" stop-color="#fc0"/><stop offset="0.5" stop-color="#fd0"/><stop offset="0.542" stop-color="#faff00"/><stop offset="0.625" stop-color="#79ff00"/><stop offset="0.667" stop-color="#37ff10"/><stop offset="0.708" stop-color="#0cff23"/><stop offset="0.75" stop-color="#00ff63"/><stop offset="0.792" stop-color="#00fdc8"/><stop offset="0.833" stop-color="#00d9ff"/><stop offset="0.875" stop-color="#009cff"/><stop offset="0.917" stop-color="#0074ff"/><stop offset="0.958" stop-color="#006cff"/><stop offset="1" stop-color="#0085ff"/></linearGradient><linearGradient id="g47" x1="0" y1="0" x2="0" y2="1"><stop offset="0" stop-color="#003cff"/><stop offset="0.042" stop-color="#0072ff"/><stop offset="0.083" stop-color="#00beff"/><stop offset="0.125" stop-color="#00f8dd"/><stop offset="0.167" stop-color="#00ff7a"/><stop offset="0.208" stop-color="#00ff39"/><stop offset="0.25" stop-color="#31ff12"/><stop offset="0.292" stop-color="#7cff00"/><stop offset="0.333" stop-color="#c4ff00"/><stop offset="0.375" stop-color="#fffd00"/><stop offset="0.417" stop-color="#ffd900"/><stop offset="0.458" stop-color="#fc0"/><stop offset="0.5" stop-color="#fd0"/><stop offset="0.542" stop-color="#faff00"/><stop offset="0.625" stop-color="#79ff00"/><stop offset="0.667" stop-color="#37ff10"/><stop offset="0.708" stop-color="#0cff23"/><stop offset="0.75" stop-color="#00ff63"/><stop offset="0.792" stop-color="#00fdc8"/><stop offset="0.833" stop-color="#00d9ff"/><stop offset="0.875" stop-color="#009cff"/><stop offset="0.917" stop-color="#0074ff"/><stop offset="0.958" stop-color="#006cff"/><stop offset="1" stop-color="#0085ff"/></linearGradient><linearGradient id="g48" x1="0" y1="0" x2="0" y2="1"><stop offset="0" stop-color="#003cff"/><stop offset="0.042" stop-color="#0072ff"/><stop offset="0.083" stop-color="#00beff"/><stop offset="0.125" stop-color="#00f8dd"/><stop offset="0.167" stop-color="#00ff7a"/><stop offset="0.208" stop-color="#00ff39"/><stop offset="0.25" stop-color="#31ff12"/><stop offset="0.292" stop-color="#7cff00"/><stop offset="0.333" stop-color="#c4ff00"/><stop offset="0.375" stop-color="#fffd00"/><stop offset="0.417" stop-color="#ffd900"/><stop offset="0.458" stop-color="#fc0"/><stop offset="0.5" stop-color="#fd0"/><stop offset="0.542" stop-color="#faff00"/><stop offset="0.625" stop-color="#79ff00"/><stop offset="0.667" stop-color="#37ff10"/><stop offset="0.708" stop-color="#0cff23"/><stop offset="0.75" stop-color="#00ff63"/><stop offset="0.792" stop-color="#00fdc8"/><stop offset="0.833" stop-color="#00d9ff"/><stop offset="0.875" stop-color="#009cff"/><stop offset="0.917" stop-color="#0074ff"/><stop offset="0.958" stop-color="#006cff"/><stop offset="1" stop-color="#0085ff"/></linearGradient><linearGradient id="g49" x1="0" y1="0" x2="0" y2="1"><stop offset="0" stop-color="#003cff"/><stop offset="0.042" stop-color="#0072ff"/><stop offset="0.083" stop-color="#00beff"/><stop offset="0.125" stop-color="#00f8dd"/><stop offset="0.167" stop-color="#00ff7a"/><stop offset="0.208" stop-color="#00ff39"/><stop offset="0.25" stop-color="#31ff12"/><stop offset="0.292" stop-color="#7cff00"/><stop offset="0.333" stop-color="#c4ff00"/><stop offset="0.375" stop-color="#fffd00"/><stop offset="0.417" stop-color="#ffd900"/><stop offset="0.458" stop-color="#fc0"/><stop offset="0.5" stop-color="#fd0"/><stop offset="0.542" stop-color="#faff00"/><stop offset="0.625" stop-color="#79ff00"/><stop offset="0.667" stop-color="#37ff10"/><stop offset="0.708" stop-color="#0cff23"/><stop offset="0.75" stop-color="#00ff63"/><stop offset="0.792" stop-color="#00fdc8"/><stop offset="0.833" stop-color="#00d9ff"/><stop offset="0.875" stop-color="#009cff"/><stop offset="0.917" stop-color="#0074ff"/><stop offset="0.958" stop-color="#006cff"/><stop offset="1" stop-color="#0085ff"/></linearGradient><linearGradient id="g50" x1="0" y1="0" x2="0" y2="1"><stop offset="0" stop-color="#003aff"/><stop offset="0.042" stop-color="#0070ff"/><stop offset="0.083" stop-color="#00bdff"/><stop offset="0.125" stop-color="#00f8de"/><stop offset="0.167" stop-color="#00ff7b"/><stop offset="0.208" stop-color="#00ff3a"/><stop offset="0.25" stop-color="#31ff12"/><stop offset="0.292" stop-color="#7cff00"/><stop offset="0.333" stop-color="#c5ff00"/><stop offset="0.375" stop-color="#fffc00"/><stop offset="0.417" stop-color="#ffd700"/><stop offset="0.458" stop-color="#ffcb00"/><stop offset="0.5" stop-color="#ffdc00"/><stop offset="0.542" stop-color="#fbff00"/><stop offset="0.625" stop-color="#79ff00"/><stop offset="0.667" stop-color="#37ff0f"/><stop offset="0.708" stop-color="#0cff22"/><stop offset="0.75" stop-color="#00ff64"/><stop offset="0.792" stop-color="#00fdc8"/><stop offset="0.833" stop-color="#00d9ff"/><stop offset="0.875" stop-color="#009bff"/><stop offset="0.917" stop-color="#0073ff"/><stop offset="0.958" stop-color="#006bff"/><stop offset="1" stop-color="#0084ff"/></linearGradient><linearGradient id="g51" x1="0" y1="0" x2="0" y2="1"><stop offset="0" stop-color="#0030ff"/><stop offset="0.042" stop-color="#0068ff"/><stop offset="0.083" stop-color="#00b7ff"/><stop offset="0.125" stop-color="#00f7e2"/><stop offset="0.167" stop-color="#00ff7e"/><stop offset="0.208" stop-color="#00ff3b"/><stop offset="0.25" stop-color="#31ff12"/><stop offset="0.292" stop-color="#7eff00"/><stop offset="0.333" stop-color="#c9ff00"/><stop offset="0.375" stop-color="#fff700"/><stop offset="0.417" stop-color="#ffd000"/><stop offset="0.458" stop-color="#ffc300"/><stop offset="0.5" stop-color="#ffd400"/><stop offset="0.542" stop-color="#fffd00"/><stop offset="0.625" stop-color="#7dff00"/><stop offset="0.667" stop-color="#39ff0f"/><stop offset="0.708" stop-color="#0dff22"/><stop offset="0.75" stop-color="#00ff64"/><stop offset="0.792" stop-color="#00fcca"/><stop offset="0.833" stop-color="#00d5ff"/><stop offset="0.875" stop-color="#0095ff"/><stop offset="0.917" stop-color="#006cff"/><stop offset="0.958" stop-color="#0064ff"/><stop offset="1" stop-color="#007eff"/></linearGradient><linearGradient id="g52" x1="0" y1="0" x2="0" y2="1"><stop offset="0" stop-color="#0023ff"/><stop offset="0.042" stop-color="#005cff"/><stop offset="0.083" stop-color="#00aeff"/><stop offset="0.125" stop-color="#00f5e8"/><stop offset="0.167" stop-color="#00ff82"/><stop offset="0.208" stop-color="#00ff3c"/><stop offset="0.25" stop-color="#32ff12"/><stop offset="0.292" stop-color="#82ff00"/><stop offset="0.333" stop-color="#cfff00"/><stop offset="0.375" stop-color="#ffef00"/><stop offset="0.417" stop-color="#ffc600"/><stop offset="0.458" stop-color="#ffb800"/><stop offset="0.5" stop-color="#ffca00"/><stop offset="0.542" stop-color="#fff500"/><stop offset="0.583" stop-color="#caff00"/><stop offset="0.625" stop-color="#81ff00"/><stop offset="0.667" stop-color="#3bff0e"/><stop offset="0.708" stop-color="#0eff22"/><stop offset="0.75" stop-color="#00ff65"/><stop offset="0.792" stop-color="#00fbce"/><stop offset="0.833" stop-color="#00cfff"/><stop offset="0.875" stop-color="#008dff"/><stop offset="0.917" stop-color="#0063ff"/><stop offset="0.958" stop-color="#005bff"/><stop offset="1" stop-color="#0075ff"/></linearGradient><linearGradient id="g53" x1="0" y1="0" x2="0" y2="1"><stop offset="0" stop-color="#0014ff"/><stop offset="0.042" stop-color="#004fff"/><stop offset="0.083" stop-color="#00a4ff"/><stop offset="0.125" stop-color="#00f4ef"/><stop offset="0.167" stop-color="#00ff86"/><stop offset="0.208" stop-color="#00ff3e"/><stop offset="0.25" stop-color="#3f1"/><stop offset="0.292" stop-color="#85ff00"/><stop offset="0.333" stop-color="#d6ff00"/><stop offset="0.375" stop-color="#ffe700"/><stop offset="0.417" stop-color="#fb0"/><stop offset="0.458" stop-color="#ffad00"/><stop offset="0.5" stop-color="#ffbf00"/><stop offset="0.542" stop-color="#ffec00"/><stop offset="0.583" stop-color="#d1ff00"/><stop offset="0.625" stop-color="#86ff00"/><stop offset="0.667" stop-color="#3eff0d"/><stop offset="0.708" stop-color="#10ff21"/><stop offset="0.75" stop-color="#0f6"/><stop offset="0.792" stop-color="#00fbd1"/><stop offset="0.833" stop-color="#00caff"/><stop offset="0.875" stop-color="#0084ff"/><stop offset="0.917" stop-color="#0059ff"/><stop offset="0.958" stop-color="#0051ff"/><stop offset="1" stop-color="#006cff"/></linearGradient><linearGradient id="g54" x1="0" y1="0" x2="0" y2="1"><stop offset="0" stop-color="#000aff"/><stop offset="0.042" stop-color="#0043ff"/><stop offset="0.125" stop-color="#00f2f5"/><stop offset="0.167" stop-color="#00ff8a"/><stop offset="0.208" stop-color="#00ff3f"/><stop offset="0.25" stop-color="#34ff11"/><stop offset="0.292" stop-color="#89ff00"/><stop offset="0.333" stop-color="#dcff00"/><stop offset="0.375" stop-color="#ffdf00"/><stop offset="0.417" stop-color="#ffb100"/><stop offset="0.458" stop-color="#ffa200"/><stop offset="0.5" stop-color="#ffb400"/><stop offset="0.542" stop-color="#ffe400"/><stop offset="0.583" stop-color="#d8ff00"/><stop offset="0.625" stop-color="#8aff00"/><stop offset="0.667" stop-color="#40ff0b"/><stop offset="0.708" stop-color="#11ff21"/><stop offset="0.75" stop-color="#00ff67"/><stop offset="0.792" stop-color="#00fad5"/><stop offset="0.833" stop-color="#00c4ff"/><stop offset="0.875" stop-color="#007cff"/><stop offset="0.917" stop-color="#0050ff"/><stop offset="0.958" stop-color="#0047ff"/><stop offset="1" stop-color="#0063ff"/></linearGradient><linearGradient id="g55" x1="0" y1="0" x2="0" y2="1"><stop offset="0" stop-color="#0006ff"/><stop offset="0.042" stop-color="#0039ff"/><stop offset="0.125" stop-color="#00f1fa"/><stop offset="0.167" stop-color="#00ff8e"/><stop offset="0.208" stop-color="#00ff40"/><stop offset="0.25" stop-color="#35ff10"/><stop offset="0.292" stop-color="#8cff00"/><stop offset="0.333" stop-color="#e1ff00"/><stop offset="0.375" stop-color="#ffd900"/><stop offset="0.417" stop-color="#ffa800"/><stop offset="0.458" stop-color="#f90"/><stop offset="0.5" stop-color="#ffac00"/><stop offset="0.542" stop-color="#ffde00"/><stop offset="0.583" stop-color="#df0"/><stop offset="0.625" stop-color="#8eff00"/><stop offset="0.667" stop-color="#42ff0b"/><stop offset="0.708" stop-color="#12ff20"/><stop offset="0.75" stop-color="#00ff67"/><stop offset="0.792" stop-color="#00f9d7"/><stop offset="0.833" stop-color="#00c0ff"/><stop offset="0.875" stop-color="#0075ff"/><stop offset="0.917" stop-color="#0048ff"/><stop offset="0.958" stop-color="#003fff"/><stop offset="1" stop-color="#005cff"/></linearGradient><linearGradient id="g56" x1="0" y1="0" x2="0" y2="1"><stop offset="0" stop-color="#0005ff"/><stop offset="0.042" stop-color="#0035ff"/><stop offset="0.125" stop-color="#00f1fd"/><stop offset="0.167" stop-color="#00ff8f"/><stop offset="0.208" stop-color="#00ff41"/><stop offset="0.25" stop-color="#35ff10"/><stop offset="0.292" stop-color="#8dff00"/><stop offset="0.333" stop-color="#e3ff00"/><stop offset="0.375" stop-color="#ffd500"/><stop offset="0.417" stop-color="#ffa500"/><stop offset="0.458" stop-color="#ff9500"/><stop offset="0.5" stop-color="#ffa800"/><stop offset="0.542" stop-color="#ffdb00"/><stop offset="0.583" stop-color="#e0ff00"/><stop offset="0.667" stop-color="#43ff0a"/><stop offset="0.708" stop-color="#12ff20"/><stop offset="0.75" stop-color="#00ff68"/><stop offset="0.792" stop-color="#00f9d9"/><stop offset="0.833" stop-color="#00beff"/><stop offset="0.875" stop-color="#0072ff"/><stop offset="0.917" stop-color="#04f"/><stop offset="0.958" stop-color="#003bff"/><stop offset="1" stop-color="#0058ff"/></linearGradient><linearGradient id="g57" x1="0" y1="0" x2="0" y2="1"><stop offset="0" stop-color="#0004ff"/><stop offset="0.042" stop-color="#0032ff"/><stop offset="0.125" stop-color="#00f0fe"/><stop offset="0.167" stop-color="#00ff90"/><stop offset="0.208" stop-color="#00ff41"/><stop offset="0.25" stop-color="#36ff10"/><stop offset="0.292" stop-color="#8eff00"/><stop offset="0.333" stop-color="#e4ff00"/><stop offset="0.375" stop-color="#ffd400"/><stop offset="0.417" stop-color="#ffa300"/><stop offset="0.458" stop-color="#ff9300"/><stop offset="0.5" stop-color="#ffa600"/><stop offset="0.542" stop-color="#ffd900"/><stop offset="0.583" stop-color="#e1ff00"/><stop offset="0.667" stop-color="#44ff0a"/><stop offset="0.708" stop-color="#12ff20"/><stop offset="0.75" stop-color="#00ff68"/><stop offset="0.792" stop-color="#00f9d9"/><stop offset="0.833" stop-color="#00bdff"/><stop offset="0.875" stop-color="#0071ff"/><stop offset="0.917" stop-color="#0043ff"/><stop offset="0.958" stop-color="#003aff"/><stop offset="1" stop-color="#0057ff"/></linearGradient><linearGradient id="g58" x1="0" y1="0" x2="0" y2="1"><stop offset="0" stop-color="#0003ff"/><stop offset="0.042" stop-color="#0030ff"/><stop offset="0.125" stop-color="#00f0ff"/><stop offset="0.167" stop-color="#00ff91"/><stop offset="0.208" stop-color="#00ff41"/><stop offset="0.25" stop-color="#36ff10"/><stop offset="0.292" stop-color="#8fff00"/><stop offset="0.333" stop-color="#e6ff00"/><stop offset="0.375" stop-color="#ffd200"/><stop offset="0.417" stop-color="#ffa000"/><stop offset="0.458" stop-color="#ff9100"/><stop offset="0.5" stop-color="#ffa400"/><stop offset="0.542" stop-color="#ffd700"/><stop offset="0.583" stop-color="#e3ff00"/><stop offset="0.667" stop-color="#44ff0a"/><stop offset="0.708" stop-color="#13ff20"/><stop offset="0.75" stop-color="#00ff68"/><stop offset="0.792" stop-color="#00f9da"/><stop offset="0.833" stop-color="#0bf"/><stop offset="0.875" stop-color="#006fff"/><stop offset="0.917" stop-color="#0040ff"/><stop offset="0.958" stop-color="#0037ff"/><stop offset="1" stop-color="#05f"/></linearGradient><linearGradient id="g59" x1="0" y1="0" x2="0" y2="1"><stop offset="0" stop-color="#0002ff"/><stop offset="0.042" stop-color="#002cff"/><stop offset="0.125" stop-color="#0ef"/><stop offset="0.167" stop-color="#00ff92"/><stop offset="0.208" stop-color="#00ff42"/><stop offset="0.25" stop-color="#36ff10"/><stop offset="0.292" stop-color="#8fff00"/><stop offset="0.333" stop-color="#e7ff00"/><stop offset="0.375" stop-color="#ffd000"/><stop offset="0.417" stop-color="#ff9e00"/><stop offset="0.458" stop-color="#ff8e00"/><stop offset="0.5" stop-color="#ffa100"/><stop offset="0.542" stop-color="#ffd500"/><stop offset="0.583" stop-color="#e4ff00"/><stop offset="0.667" stop-color="#44ff0a"/><stop offset="0.708" stop-color="#13ff20"/><stop offset="0.75" stop-color="#00ff68"/><stop offset="0.792" stop-color="#00f8db"/><stop offset="0.833" stop-color="#00baff"/><stop offset="0.875" stop-color="#006cff"/><stop offset="0.917" stop-color="#003eff"/><stop offset="0.958" stop-color="#0034ff"/><stop offset="1" stop-color="#0052ff"/></linearGradient><linearGradient id="g60" x1="0" y1="0" x2="0" y2="1"><stop offset="0" stop-color="#00f"/><stop offset="0.042" stop-color="#0025ff"/><stop offset="0.125" stop-color="#00e9ff"/><stop offset="0.167" stop-color="#00ff98"/><stop offset="0.208" stop-color="#00ff46"/><stop offset="0.25" stop-color="#3f1"/><stop offset="0.292" stop-color="#8dff00"/><stop offset="0.333" stop-color="#e6ff00"/><stop offset="0.375" stop-color="#ffd000"/><stop offset="0.417" stop-color="#ff9e00"/><stop offset="0.458" stop-color="#ff8e00"/><stop offset="0.5" stop-color="#ffa100"/><stop offset="0.542" stop-color="#ffd500"/><stop offset="0.583" stop-color="#e3ff00"/><stop offset="0.667" stop-color="#42ff0a"/><stop offset="0.708" stop-color="#10ff21"/><stop offset="0.75" stop-color="#00ff6c"/><stop offset="0.792" stop-color="#00f7e0"/><stop offset="0.833" stop-color="#00b5ff"/><stop offset="0.875" stop-color="#06f"/><stop offset="0.917" stop-color="#0037ff"/><stop offset="0.958" stop-color="#002eff"/><stop offset="1" stop-color="#004cff"/></linearGradient><linearGradient id="g61" x1="0" y1="0" x2="0" y2="1"><stop offset="0" stop-color="#0300ff"/><stop offset="0.042" stop-color="#0019ff"/><stop offset="0.083" stop-color="#07f"/><stop offset="0.125" stop-color="#00e0ff"/><stop offset="0.167" stop-color="#00ffa3"/><stop offset="0.208" stop-color="#00ff4f"/><stop offset="0.25" stop-color="#2dff14"/><stop offset="0.292" stop-color="#8f0"/><stop offset="0.333" stop-color="#e1ff00"/><stop offset="0.375" stop-color="#ffd500"/><stop offset="0.417" stop-color="#ffa200"/><stop offset="0.458" stop-color="#ff9200"/><stop offset="0.5" stop-color="#ffa600"/><stop offset="0.542" stop-color="#ffda00"/><stop offset="0.583" stop-color="#deff00"/><stop offset="0.625" stop-color="#8bff00"/><stop offset="0.667" stop-color="#3cff0d"/><stop offset="0.708" stop-color="#0aff24"/><stop offset="0.75" stop-color="#00ff76"/><stop offset="0.792" stop-color="#00f5e9"/><stop offset="0.833" stop-color="#00abff"/><stop offset="0.875" stop-color="#005cff"/><stop offset="0.917" stop-color="#002cff"/><stop offset="0.958" stop-color="#0023ff"/><stop offset="1" stop-color="#0041ff"/></linearGradient><linearGradient id="g62" x1="0" y1="0" x2="0" y2="1"><stop offset="0" stop-color="#0400ff"/><stop offset="0.042" stop-color="#0017ff"/><stop offset="0.125" stop-color="#00dfff"/><stop offset="0.167" stop-color="#00ffa2"/><stop offset="0.208" stop-color="#00ff4e"/><stop offset="0.25" stop-color="#2eff13"/><stop offset="0.292" stop-color="#8aff00"/><stop offset="0.333" stop-color="#e4ff00"/><stop offset="0.375" stop-color="#ffd100"/><stop offset="0.417" stop-color="#ff9e00"/><stop offset="0.458" stop-color="#ff8d00"/><stop offset="0.5" stop-color="#ffa100"/><stop offset="0.542" stop-color="#ffd600"/><stop offset="0.583" stop-color="#e1ff00"/><stop offset="0.625" stop-color="#8eff00"/><stop offset="0.667" stop-color="#3eff0c"/><stop offset="0.708" stop-color="#0bff23"/><stop offset="0.75" stop-color="#00ff75"/><stop offset="0.792" stop-color="#00f5e8"/><stop offset="0.833" stop-color="#00abff"/><stop offset="0.875" stop-color="#005bff"/><stop offset="0.917" stop-color="#002bff"/><stop offset="0.958" stop-color="#0021ff"/><stop offset="1" stop-color="#0040ff"/></linearGradient><linearGradient id="g63" x1="0" y1="0" x2="0" y2="1"><stop offset="0" stop-color="#0300ff"/><stop offset="0.042" stop-color="#001cff"/><stop offset="0.083" stop-color="#007bff"/><stop offset="0.125" stop-color="#00e5ff"/><stop offset="0.167" stop-color="#00ff9a"/><stop offset="0.208" stop-color="#00ff46"/><stop offset="0.25" stop-color="#35ff10"/><stop offset="0.292" stop-color="#91ff00"/><stop offset="0.333" stop-color="#ecff00"/><stop offset="0.375" stop-color="#ffc700"/><stop offset="0.417" stop-color="#ff9400"/><stop offset="0.458" stop-color="#ff8400"/><stop offset="0.5" stop-color="#ff9700"/><stop offset="0.542" stop-color="#fc0"/><stop offset="0.583" stop-color="#eaff00"/><stop offset="0.667" stop-color="#45ff09"/><stop offset="0.708" stop-color="#12ff20"/><stop offset="0.75" stop-color="#00ff6c"/><stop offset="0.792" stop-color="#00f7e1"/><stop offset="0.833" stop-color="#00b1ff"/><stop offset="0.875" stop-color="#0061ff"/><stop offset="0.917" stop-color="#0030ff"/><stop offset="0.958" stop-color="#0027ff"/><stop offset="1" stop-color="#0045ff"/></linearGradient><linearGradient id="g64" x1="0" y1="0" x2="0" y2="1"><stop offset="0" stop-color="#0300ff"/><stop offset="0.042" stop-color="#001bff"/><stop offset="0.083" stop-color="#007bff"/><stop offset="0.125" stop-color="#00e6ff"/><stop offset="0.167" stop-color="#00ff98"/><stop offset="0.208" stop-color="#0f4"/><stop offset="0.25" stop-color="#37ff0f"/><stop offset="0.292" stop-color="#94ff00"/><stop offset="0.333" stop-color="#f0ff00"/><stop offset="0.375" stop-color="#ffc300"/><stop offset="0.417" stop-color="#ff8f00"/><stop offset="0.458" stop-color="#ff8000"/><stop offset="0.5" stop-color="#ff9200"/><stop offset="0.542" stop-color="#ffc800"/><stop offset="0.583" stop-color="#ef0"/><stop offset="0.667" stop-color="#48ff08"/><stop offset="0.708" stop-color="#14ff1f"/><stop offset="0.75" stop-color="#00ff69"/><stop offset="0.792" stop-color="#00f7e0"/><stop offset="0.833" stop-color="#00b2ff"/><stop offset="0.875" stop-color="#0061ff"/><stop offset="0.917" stop-color="#0031ff"/><stop offset="0.958" stop-color="#0027ff"/><stop offset="1" stop-color="#0046ff"/></linearGradient><linearGradient id="g65" x1="0" y1="0" x2="0" y2="1"><stop offset="0" stop-color="#0400ff"/><stop offset="0.042" stop-color="#0019ff"/><stop offset="0.125" stop-color="#00e5ff"/><stop offset="0.167" stop-color="#0f9"/><stop offset="0.208" stop-color="#0f4"/><stop offset="0.25" stop-color="#38ff0f"/><stop offset="0.292" stop-color="#95ff00"/><stop offset="0.333" stop-color="#f1ff00"/><stop offset="0.375" stop-color="#ffc100"/><stop offset="0.417" stop-color="#ff8d00"/><stop offset="0.458" stop-color="#ff7d00"/><stop offset="0.5" stop-color="#ff9000"/><stop offset="0.542" stop-color="#ffc600"/><stop offset="0.583" stop-color="#efff00"/><stop offset="0.667" stop-color="#49ff08"/><stop offset="0.708" stop-color="#15ff1f"/><stop offset="0.75" stop-color="#00ff69"/><stop offset="0.792" stop-color="#00f7e0"/><stop offset="0.833" stop-color="#00b1ff"/><stop offset="0.875" stop-color="#0060ff"/><stop offset="0.917" stop-color="#002fff"/><stop offset="0.958" stop-color="#0025ff"/><stop offset="1" stop-color="#04f"/></linearGradient><linearGradient id="g66" x1="0" y1="0" x2="0" y2="1"><stop offset="0" stop-color="#0400ff"/><stop offset="0.042" stop-color="#0017ff"/><stop offset="0.125" stop-color="#00e4ff"/><stop offset="0.167" stop-color="#0f9"/><stop offset="0.208" stop-color="#0f4"/><stop offset="0.25" stop-color="#38ff0f"/><stop offset="0.292" stop-color="#95ff00"/><stop offset="0.333" stop-color="#f2ff00"/><stop offset="0.375" stop-color="#ffc000"/><stop offset="0.417" stop-color="#ff8c00"/><stop offset="0.458" stop-color="#ff7c00"/><stop offset="0.5" stop-color="#ff8f00"/><stop offset="0.542" stop-color="#ffc500"/><stop offset="0.583" stop-color="#f0ff00"/><stop offset="0.667" stop-color="#49ff08"/><stop offset="0.708" stop-color="#15ff1f"/><stop offset="0.75" stop-color="#00ff6a"/><stop offset="0.792" stop-color="#00f7e1"/><stop offset="0.833" stop-color="#00b0ff"/><stop offset="0.875" stop-color="#005fff"/><stop offset="0.917" stop-color="#002eff"/><stop offset="0.958" stop-color="#0024ff"/><stop offset="1" stop-color="#0043ff"/></linearGradient><linearGradient id="g67" x1="0" y1="0" x2="0" y2="1"><stop offset="0" stop-color="#0500ff"/><stop offset="0.042" stop-color="#0015ff"/><stop offset="0.125" stop-color="#00e3ff"/><stop offset="0.167" stop-color="#00ff9a"/><stop offset="0.208" stop-color="#00ff45"/><stop offset="0.25" stop-color="#38ff0f"/><stop offset="0.292" stop-color="#96ff00"/><stop offset="0.333" stop-color="#f3ff00"/><stop offset="0.375" stop-color="#ffbf00"/><stop offset="0.417" stop-color="#ff8a00"/><stop offset="0.458" stop-color="#ff7a00"/><stop offset="0.5" stop-color="#ff8d00"/><stop offset="0.542" stop-color="#ffc300"/><stop offset="0.583" stop-color="#f1ff00"/><stop offset="0.667" stop-color="#49ff07"/><stop offset="0.708" stop-color="#15ff1f"/><stop offset="0.75" stop-color="#00ff6a"/><stop offset="0.792" stop-color="#00f7e1"/><stop offset="0.833" stop-color="#00afff"/><stop offset="0.875" stop-color="#005dff"/><stop offset="0.917" stop-color="#002cff"/><stop offset="0.958" stop-color="#02f"/><stop offset="1" stop-color="#0041ff"/></linearGradient><linearGradient id="g68" x1="0" y1="0" x2="0" y2="1"><stop offset="0" stop-color="#0500ff"/><stop offset="0.042" stop-color="#0012ff"/><stop offset="0.125" stop-color="#00e2ff"/><stop offset="0.167" stop-color="#00ff9b"/><stop offset="0.208" stop-color="#00ff45"/><stop offset="0.25" stop-color="#38ff0f"/><stop offset="0.292" stop-color="#97ff00"/><stop offset="0.333" stop-color="#f5ff00"/><stop offset="0.375" stop-color="#ffbc00"/><stop offset="0.417" stop-color="#f80"/><stop offset="0.458" stop-color="#ff7800"/><stop offset="0.5" stop-color="#ff8b00"/><stop offset="0.542" stop-color="#ffc100"/><stop offset="0.583" stop-color="#f3ff00"/><stop offset="0.667" stop-color="#4aff07"/><stop offset="0.708" stop-color="#15ff1f"/><stop offset="0.75" stop-color="#00ff6a"/><stop offset="0.792" stop-color="#00f7e2"/><stop offset="0.833" stop-color="#00aeff"/><stop offset="0.875" stop-color="#005bff"/><stop offset="0.917" stop-color="#002aff"/><stop offset="0.958" stop-color="#0020ff"/><stop offset="1" stop-color="#003fff"/></linearGradient><linearGradient id="g69" x1="0" y1="0" x2="0" y2="1"><stop offset="0" stop-color="#0600ff"/><stop offset="0.042" stop-color="#000fff"/><stop offset="0.083" stop-color="#0072ff"/><stop offset="0.125" stop-color="#00e0ff"/><stop offset="0.167" stop-color="#00ff9c"/><stop offset="0.208" stop-color="#00ff45"/><stop offset="0.25" stop-color="#38ff0f"/><stop offset="0.292" stop-color="#98ff00"/><stop offset="0.333" stop-color="#f6ff00"/><stop offset="0.375" stop-color="#ffba00"/><stop offset="0.417" stop-color="#ff8500"/><stop offset="0.458" stop-color="#ff7500"/><stop offset="0.5" stop-color="#f80"/><stop offset="0.542" stop-color="#ffbe00"/><stop offset="0.583" stop-color="#f5ff00"/><stop offset="0.667" stop-color="#4bff07"/><stop offset="0.708" stop-color="#16ff1e"/><stop offset="0.75" stop-color="#00ff6a"/><stop offset="0.792" stop-color="#00f6e3"/><stop offset="0.833" stop-color="#00acff"/><stop offset="0.875" stop-color="#0059ff"/><stop offset="0.917" stop-color="#0027ff"/><stop offset="0.958" stop-color="#001dff"/><stop offset="1" stop-color="#003dff"/></linearGradient><linearGradient id="g70" x1="0" y1="0" x2="0" y2="1"><stop offset="0" stop-color="#0700ff"/><stop offset="0.042" stop-color="#000bff"/><stop offset="0.083" stop-color="#006fff"/><stop offset="0.125" stop-color="#00deff"/><stop offset="0.167" stop-color="#00ff9d"/><stop offset="0.208" stop-color="#00ff46"/><stop offset="0.25" stop-color="#39ff0f"/><stop offset="0.292" stop-color="#9f0"/><stop offset="0.333" stop-color="#f8ff00"/><stop offset="0.375" stop-color="#ffb700"/><stop offset="0.417" stop-color="#ff8200"/><stop offset="0.458" stop-color="#ff7200"/><stop offset="0.5" stop-color="#ff8500"/><stop offset="0.542" stop-color="#fb0"/><stop offset="0.583" stop-color="#f7ff00"/><stop offset="0.667" stop-color="#4bff07"/><stop offset="0.708" stop-color="#16ff1e"/><stop offset="0.75" stop-color="#00ff6a"/><stop offset="0.792" stop-color="#00f6e4"/><stop offset="0.833" stop-color="#0af"/><stop offset="0.875" stop-color="#0056ff"/><stop offset="0.917" stop-color="#0024ff"/><stop offset="0.958" stop-color="#001aff"/><stop offset="1" stop-color="#003aff"/></linearGradient><linearGradient id="g71" x1="0" y1="0" x2="0" y2="1"><stop offset="0" stop-color="#0800ff"/><stop offset="0.042" stop-color="#000aff"/><stop offset="0.083" stop-color="#006cff"/><stop offset="0.125" stop-color="#0df"/><stop offset="0.167" stop-color="#00ff9f"/><stop offset="0.208" stop-color="#00ff46"/><stop offset="0.25" stop-color="#39ff0f"/><stop offset="0.292" stop-color="#9aff00"/><stop offset="0.333" stop-color="#faff00"/><stop offset="0.375" stop-color="#ffb500"/><stop offset="0.417" stop-color="#ff7f00"/><stop offset="0.458" stop-color="#ff6f00"/><stop offset="0.5" stop-color="#ff8200"/><stop offset="0.542" stop-color="#ffb900"/><stop offset="0.583" stop-color="#f9ff00"/><stop offset="0.667" stop-color="#4cff06"/><stop offset="0.708" stop-color="#16ff1e"/><stop offset="0.75" stop-color="#00ff6b"/><stop offset="0.792" stop-color="#00f6e5"/><stop offset="0.833" stop-color="#00a8ff"/><stop offset="0.875" stop-color="#0054ff"/><stop offset="0.917" stop-color="#0021ff"/><stop offset="0.958" stop-color="#0017ff"/><stop offset="1" stop-color="#0037ff"/></linearGradient><linearGradient id="g72" x1="0" y1="0" x2="0" y2="1"><stop offset="0" stop-color="#0900ff"/><stop offset="0.042" stop-color="#0009ff"/><stop offset="0.083" stop-color="#0069ff"/><stop offset="0.125" stop-color="#00dbff"/><stop offset="0.167" stop-color="#00ffa0"/><stop offset="0.208" stop-color="#00ff47"/><stop offset="0.25" stop-color="#39ff0f"/><stop offset="0.292" stop-color="#9bff00"/><stop offset="0.333" stop-color="#fcff00"/><stop offset="0.375" stop-color="#ffb200"/><stop offset="0.417" stop-color="#ff7c00"/><stop offset="0.458" stop-color="#ff6c00"/><stop offset="0.5" stop-color="#ff7f00"/><stop offset="0.542" stop-color="#ffb600"/><stop offset="0.583" stop-color="#fbff00"/><stop offset="0.667" stop-color="#4dff06"/><stop offset="0.708" stop-color="#17ff1e"/><stop offset="0.75" stop-color="#00ff6b"/><stop offset="0.792" stop-color="#00f6e6"/><stop offset="0.833" stop-color="#00a6ff"/><stop offset="0.875" stop-color="#0051ff"/><stop offset="0.917" stop-color="#001eff"/><stop offset="0.958" stop-color="#0014ff"/><stop offset="1" stop-color="#0034ff"/></linearGradient><linearGradient id="g73" x1="0" y1="0" x2="0" y2="1"><stop offset="0" stop-color="#0a00ff"/><stop offset="0.042" stop-color="#0008ff"/><stop offset="0.083" stop-color="#06f"/><stop offset="0.125" stop-color="#00d9ff"/><stop offset="0.167" stop-color="#00ffa1"/><stop offset="0.208" stop-color="#00ff47"/><stop offset="0.25" stop-color="#39ff0e"/><stop offset="0.292" stop-color="#9cff00"/><stop offset="0.333" stop-color="#feff00"/><stop offset="0.375" stop-color="#ffaf00"/><stop offset="0.417" stop-color="#ff7a00"/><stop offset="0.458" stop-color="#ff6900"/><stop offset="0.5" stop-color="#ff7c00"/><stop offset="0.542" stop-color="#ffb300"/><stop offset="0.583" stop-color="#fdff00"/><stop offset="0.667" stop-color="#4eff06"/><stop offset="0.708" stop-color="#17ff1e"/><stop offset="0.75" stop-color="#00ff6b"/><stop offset="0.792" stop-color="#00f5e7"/><stop offset="0.833" stop-color="#00a4ff"/><stop offset="0.875" stop-color="#004fff"/><stop offset="0.917" stop-color="#001cff"/><stop offset="0.958" stop-color="#01f"/><stop offset="1" stop-color="#0032ff"/></linearGradient><linearGradient id="g74" x1="0" y1="0" x2="0" y2="1"><stop offset="0" stop-color="#0b00ff"/><stop offset="0.042" stop-color="#0007ff"/><stop offset="0.083" stop-color="#0064ff"/><stop offset="0.125" stop-color="#00d8ff"/><stop offset="0.167" stop-color="#00ffa2"/><stop offset="0.208" stop-color="#00ff48"/><stop offset="0.25" stop-color="#3aff0e"/><stop offset="0.292" stop-color="#9dff00"/><stop offset="0.333" stop-color="#ff0"/><stop offset="0.375" stop-color="#ffad00"/><stop offset="0.417" stop-color="#f70"/><stop offset="0.458" stop-color="#f60"/><stop offset="0.5" stop-color="#ff7a00"/><stop offset="0.542" stop-color="#ffb100"/><stop offset="0.583" stop-color="#ff0"/><stop offset="0.667" stop-color="#4eff05"/><stop offset="0.708" stop-color="#17ff1e"/><stop offset="0.75" stop-color="#00ff6b"/><stop offset="0.792" stop-color="#00f5e8"/><stop offset="0.833" stop-color="#00a3ff"/><stop offset="0.875" stop-color="#004dff"/><stop offset="0.917" stop-color="#0019ff"/><stop offset="0.958" stop-color="#000fff"/><stop offset="1" stop-color="#0030ff"/></linearGradient><linearGradient id="g75" x1="0" y1="0" x2="0" y2="1"><stop offset="0" stop-color="#0c00ff"/><stop offset="0.042" stop-color="#0006ff"/><stop offset="0.083" stop-color="#0062ff"/><stop offset="0.125" stop-color="#00d6ff"/><stop offset="0.167" stop-color="#00ffa3"/><stop offset="0.208" stop-color="#00ff48"/><stop offset="0.25" stop-color="#3aff0e"/><stop offset="0.292" stop-color="#9eff00"/><stop offset="0.333" stop-color="#fffd00"/><stop offset="0.375" stop-color="#ffab00"/><stop offset="0.417" stop-color="#ff7500"/><stop offset="0.458" stop-color="#ff6400"/><stop offset="0.5" stop-color="#ff7800"/><stop offset="0.542" stop-color="#ffaf00"/><stop offset="0.583" stop-color="#fffe00"/><stop offset="0.667" stop-color="#4fff05"/><stop offset="0.708" stop-color="#18ff1e"/><stop offset="0.75" stop-color="#00ff6b"/><stop offset="0.792" stop-color="#00f5e9"/><stop offset="0.833" stop-color="#00a2ff"/><stop offset="0.875" stop-color="#004bff"/><stop offset="0.917" stop-color="#0017ff"/><stop offset="0.958" stop-color="#000dff"/><stop offset="1" stop-color="#002eff"/></linearGradient><linearGradient id="g76" x1="0" y1="0" x2="0" y2="1"><stop offset="0" stop-color="#0c00ff"/><stop offset="0.042" stop-color="#0006ff"/><stop offset="0.083" stop-color="#0060ff"/><stop offset="0.125" stop-color="#00d6ff"/><stop offset="0.167" stop-color="#00ffa4"/><stop offset="0.208" stop-color="#00ff48"/><stop offset="0.25" stop-color="#3aff0e"/><stop offset="0.292" stop-color="#9eff00"/><stop offset="0.333" stop-color="#fffc00"/><stop offset="0.375" stop-color="#fa0"/><stop offset="0.417" stop-color="#ff7400"/><stop offset="0.458" stop-color="#ff6300"/><stop offset="0.5" stop-color="#ff7600"/><stop offset="0.542" stop-color="#ffad00"/><stop offset="0.583" stop-color="#fffd00"/><stop offset="0.667" stop-color="#4fff05"/><stop offset="0.708" stop-color="#18ff1d"/><stop offset="0.75" stop-color="#00ff6c"/><stop offset="0.792" stop-color="#00f5e9"/><stop offset="0.833" stop-color="#00a1ff"/><stop offset="0.875" stop-color="#004aff"/><stop offset="0.917" stop-color="#0016ff"/><stop offset="0.958" stop-color="#000bff"/><stop offset="1" stop-color="#002cff"/></linearGradient><linearGradient id="g77" x1="0" y1="0" x2="0" y2="1"><stop offset="0" stop-color="#0d00ff"/><stop offset="0.042" stop-color="#0005ff"/><stop offset="0.083" stop-color="#005eff"/><stop offset="0.125" stop-color="#00d4ff"/><stop offset="0.167" stop-color="#00ffa5"/><stop offset="0.208" stop-color="#00ff49"/><stop offset="0.25" stop-color="#3aff0e"/><stop offset="0.292" stop-color="#9fff00"/><stop offset="0.333" stop-color="#fffb00"/><stop offset="0.375" stop-color="#ffa700"/><stop offset="0.417" stop-color="#ff7100"/><stop offset="0.458" stop-color="#ff6000"/><stop offset="0.5" stop-color="#ff7300"/><stop offset="0.542" stop-color="#ffab00"/><stop offset="0.583" stop-color="#fffb00"/><stop offset="0.667" stop-color="#50ff05"/><stop offset="0.708" stop-color="#18ff1d"/><stop offset="0.75" stop-color="#00ff6c"/><stop offset="0.792" stop-color="#00f5ea"/><stop offset="0.833" stop-color="#009fff"/><stop offset="0.875" stop-color="#0048ff"/><stop offset="0.917" stop-color="#0013ff"/><stop offset="0.958" stop-color="#0009ff"/><stop offset="1" stop-color="#002aff"/></linearGradient><linearGradient id="g78" x1="0" y1="0" x2="0" y2="1"><stop offset="0" stop-color="#0e00ff"/><stop offset="0.042" stop-color="#0003ff"/><stop offset="0.083" stop-color="#005aff"/><stop offset="0.125" stop-color="#00d2ff"/><stop offset="0.167" stop-color="#00ffa7"/><stop offset="0.208" stop-color="#00ff49"/><stop offset="0.25" stop-color="#3bff0e"/><stop offset="0.292" stop-color="#a1ff00"/><stop offset="0.333" stop-color="#fff900"/><stop offset="0.375" stop-color="#ffa400"/><stop offset="0.417" stop-color="#ff6d00"/><stop offset="0.458" stop-color="#ff5c00"/><stop offset="0.5" stop-color="#ff7000"/><stop offset="0.542" stop-color="#ffa700"/><stop offset="0.583" stop-color="#fff900"/><stop offset="0.667" stop-color="#51ff04"/><stop offset="0.708" stop-color="#19ff1d"/><stop offset="0.75" stop-color="#00ff6c"/><stop offset="0.792" stop-color="#00f4ec"/><stop offset="0.833" stop-color="#009dff"/><stop offset="0.875" stop-color="#04f"/><stop offset="0.917" stop-color="#000fff"/><stop offset="0.958" stop-color="#0005ff"/><stop offset="1" stop-color="#0026ff"/></linearGradient><linearGradient id="g79" x1="0" y1="0" x2="0" y2="1"><stop offset="0" stop-color="#1000ff"/><stop offset="0.042" stop-color="#0002ff"/><stop offset="0.083" stop-color="#0056ff"/><stop offset="0.125" stop-color="#00cfff"/><stop offset="0.167" stop-color="#00ffa8"/><stop offset="0.208" stop-color="#00ff4a"/><stop offset="0.25" stop-color="#3bff0e"/><stop offset="0.292" stop-color="#a2ff00"/><stop offset="0.333" stop-color="#fff600"/><stop offset="0.375" stop-color="#ffa000"/><stop offset="0.417" stop-color="#ff6900"/><stop offset="0.458" stop-color="#ff5700"/><stop offset="0.5" stop-color="#ff6b00"/><stop offset="0.542" stop-color="#ffa300"/><stop offset="0.583" stop-color="#fff600"/><stop offset="0.667" stop-color="#52ff04"/><stop offset="0.708" stop-color="#19ff1d"/><stop offset="0.75" stop-color="#00ff6d"/><stop offset="0.792" stop-color="#00f4ed"/><stop offset="0.833" stop-color="#009aff"/><stop offset="0.875" stop-color="#0041ff"/><stop offset="0.917" stop-color="#000bff"/><stop offset="0.958" stop-color="#0001ff"/><stop offset="1" stop-color="#02f"/></linearGradient><linearGradient id="g80" x1="0" y1="0" x2="0" y2="1"><stop offset="0" stop-color="#10f"/><stop offset="0.042" stop-color="#00f"/><stop offset="0.083" stop-color="#0051ff"/><stop offset="0.125" stop-color="#0cf"/><stop offset="0.167" stop-color="#0fa"/><stop offset="0.208" stop-color="#00ff4b"/><stop offset="0.25" stop-color="#3cff0e"/><stop offset="0.292" stop-color="#a4ff00"/><stop offset="0.333" stop-color="#fff300"/><stop offset="0.375" stop-color="#ff9c00"/><stop offset="0.417" stop-color="#ff6400"/><stop offset="0.458" stop-color="#ff5200"/><stop offset="0.5" stop-color="#ff6700"/><stop offset="0.542" stop-color="#ff9f00"/><stop offset="0.583" stop-color="#fff300"/><stop offset="0.625" stop-color="#acff00"/><stop offset="0.667" stop-color="#53ff03"/><stop offset="0.708" stop-color="#1aff1d"/><stop offset="0.75" stop-color="#00ff6d"/><stop offset="0.792" stop-color="#00f4ef"/><stop offset="0.833" stop-color="#0097ff"/><stop offset="0.875" stop-color="#003dff"/><stop offset="0.917" stop-color="#0007ff"/><stop offset="0.958" stop-color="#0300ff"/><stop offset="1" stop-color="#001eff"/></linearGradient><linearGradient id="g81" x1="0" y1="0" x2="0" y2="1"><stop offset="0" stop-color="#1300ff"/><stop offset="0.042" stop-color="#0100ff"/><stop offset="0.083" stop-color="#004cff"/><stop offset="0.125" stop-color="#00c9ff"/><stop offset="0.167" stop-color="#00ffad"/><stop offset="0.208" stop-color="#00ff4b"/><stop offset="0.25" stop-color="#3cff0d"/><stop offset="0.292" stop-color="#a6ff00"/><stop offset="0.333" stop-color="#fff000"/><stop offset="0.375" stop-color="#ff9700"/><stop offset="0.417" stop-color="#ff6000"/><stop offset="0.458" stop-color="#ff4d00"/><stop offset="0.5" stop-color="#ff6200"/><stop offset="0.542" stop-color="#ff9a00"/><stop offset="0.583" stop-color="#fff000"/><stop offset="0.625" stop-color="#afff00"/><stop offset="0.667" stop-color="#54ff03"/><stop offset="0.708" stop-color="#1aff1c"/><stop offset="0.75" stop-color="#00ff6d"/><stop offset="0.792" stop-color="#00f3f0"/><stop offset="0.833" stop-color="#0094ff"/><stop offset="0.875" stop-color="#0039ff"/><stop offset="0.917" stop-color="#0002ff"/><stop offset="0.958" stop-color="#0700ff"/><stop offset="1" stop-color="#001aff"/></linearGradient><linearGradient id="g82" x1="0" y1="0" x2="0" y2="1"><stop offset="0" stop-color="#1400ff"/><stop offset="0.042" stop-color="#0300ff"/><stop offset="0.083" stop-color="#0048ff"/><stop offset="0.125" stop-color="#00c7ff"/><stop offset="0.167" stop-color="#00ffae"/><stop offset="0.208" stop-color="#00ff4c"/><stop offset="0.25" stop-color="#3cff0d"/><stop offset="0.292" stop-color="#a7ff00"/><stop offset="0.333" stop-color="#fe0"/><stop offset="0.375" stop-color="#ff9300"/><stop offset="0.417" stop-color="#ff5b00"/><stop offset="0.458" stop-color="#ff4900"/><stop offset="0.5" stop-color="#ff5d00"/><stop offset="0.542" stop-color="#ff9600"/><stop offset="0.583" stop-color="#ffed00"/><stop offset="0.625" stop-color="#b1ff00"/><stop offset="0.667" stop-color="#55ff02"/><stop offset="0.708" stop-color="#1bff1c"/><stop offset="0.75" stop-color="#00ff6e"/><stop offset="0.792" stop-color="#00f3f2"/><stop offset="0.833" stop-color="#0091ff"/><stop offset="0.875" stop-color="#0035ff"/><stop offset="0.917" stop-color="#0200ff"/><stop offset="0.958" stop-color="#0a00ff"/><stop offset="1" stop-color="#0015ff"/></linearGradient><linearGradient id="g83" x1="0" y1="0" x2="0" y2="1"><stop offset="0" stop-color="#1600ff"/><stop offset="0.042" stop-color="#0400ff"/><stop offset="0.083" stop-color="#04f"/><stop offset="0.125" stop-color="#00c4ff"/><stop offset="0.167" stop-color="#00ffb0"/><stop offset="0.208" stop-color="#00ff4d"/><stop offset="0.25" stop-color="#3dff0d"/><stop offset="0.292" stop-color="#a9ff00"/><stop offset="0.333" stop-color="#ffeb00"/><stop offset="0.375" stop-color="#ff9000"/><stop offset="0.417" stop-color="#ff5700"/><stop offset="0.458" stop-color="#ff4500"/><stop offset="0.5" stop-color="#ff5900"/><stop offset="0.542" stop-color="#ff9200"/><stop offset="0.583" stop-color="#ffea00"/><stop offset="0.625" stop-color="#b2ff00"/><stop offset="0.667" stop-color="#56ff02"/><stop offset="0.708" stop-color="#1bff1c"/><stop offset="0.75" stop-color="#00ff6e"/><stop offset="0.792" stop-color="#00f3f3"/><stop offset="0.833" stop-color="#008eff"/><stop offset="0.875" stop-color="#0031ff"/><stop offset="0.917" stop-color="#0500ff"/><stop offset="0.958" stop-color="#0d00ff"/><stop offset="1" stop-color="#0012ff"/></linearGradient><linearGradient id="g84" x1="0" y1="0" x2="0" y2="1"><stop offset="0" stop-color="#1700ff"/><stop offset="0.042" stop-color="#0500ff"/><stop offset="0.083" stop-color="#0041ff"/><stop offset="0.125" stop-color="#00c3ff"/><stop offset="0.167" stop-color="#00ffb1"/><stop offset="0.208" stop-color="#00ff4d"/><stop offset="0.25" stop-color="#3dff0d"/><stop offset="0.292" stop-color="#af0"/><stop offset="0.333" stop-color="#ffea00"/><stop offset="0.375" stop-color="#ff8d00"/><stop offset="0.417" stop-color="#ff5400"/><stop offset="0.458" stop-color="#ff4300"/><stop offset="0.5" stop-color="#ff5600"/><stop offset="0.542" stop-color="#ff8f00"/><stop offset="0.583" stop-color="#ffe800"/><stop offset="0.625" stop-color="#b4ff00"/><stop offset="0.667" stop-color="#57ff01"/><stop offset="0.708" stop-color="#1cff1c"/><stop offset="0.75" stop-color="#00ff6e"/><stop offset="0.792" stop-color="#00f2f4"/><stop offset="0.833" stop-color="#008dff"/><stop offset="0.875" stop-color="#002fff"/><stop offset="0.917" stop-color="#0700ff"/><stop offset="0.958" stop-color="#1000ff"/><stop offset="1" stop-color="#000fff"/></linearGradient><linearGradient id="g85" x1="0" y1="0" x2="0" y2="1"><stop offset="0" stop-color="#1700ff"/><stop offset="0.042" stop-color="#0500ff"/><stop offset="0.083" stop-color="#0041ff"/><stop offset="0.125" stop-color="#00c2ff"/><stop offset="0.167" stop-color="#00ffb2"/><stop offset="0.208" stop-color="#00ff4d"/><stop offset="0.25" stop-color="#3dff0d"/><stop offset="0.292" stop-color="#af0"/><stop offset="0.333" stop-color="#ffe900"/><stop offset="0.375" stop-color="#ff8d00"/><stop offset="0.417" stop-color="#ff5400"/><stop offset="0.458" stop-color="#ff4200"/><stop offset="0.5" stop-color="#ff5600"/><stop offset="0.542" stop-color="#ff8f00"/><stop offset="0.583" stop-color="#ffe800"/><stop offset="0.625" stop-color="#b4ff00"/><stop offset="0.667" stop-color="#57ff01"/><stop offset="0.708" stop-color="#1cff1c"/><stop offset="0.75" stop-color="#00ff6e"/><stop offset="0.792" stop-color="#00f2f5"/><stop offset="0.875" stop-color="#002fff"/><stop offset="0.917" stop-color="#0800ff"/><stop offset="0.958" stop-color="#1000ff"/><stop offset="1" stop-color="#000fff"/></linearGradient><linearGradient id="g86" x1="0" y1="0" x2="0" y2="1"><stop offset="0" stop-color="#1700ff"/><stop offset="0.042" stop-color="#0500ff"/><stop offset="0.083" stop-color="#0041ff"/><stop offset="0.125" stop-color="#00c2ff"/><stop offset="0.167" stop-color="#00ffb2"/><stop offset="0.208" stop-color="#00ff4d"/><stop offset="0.25" stop-color="#3dff0d"/><stop offset="0.292" stop-color="#af0"/><stop offset="0.333" stop-color="#ffe900"/><stop offset="0.375" stop-color="#ff8d00"/><stop offset="0.417" stop-color="#ff5400"/><stop offset="0.458" stop-color="#ff4200"/><stop offset="0.5" stop-color="#ff5600"/><stop offset="0.542" stop-color="#ff8f00"/><stop offset="0.583" stop-color="#ffe800"/><stop offset="0.625" stop-color="#b4ff00"/><stop offset="0.667" stop-color="#57ff01"/><stop offset="0.708" stop-color="#1cff1c"/><stop offset="0.75" stop-color="#00ff6e"/><stop offset="0.792" stop-color="#00f2f5"/><stop offset="0.875" stop-color="#002fff"/><stop offset="0.917" stop-color="#0800ff"/><stop offset="0.958" stop-color="#1000ff"/><stop offset="1" stop-color="#000fff"/></linearGradient><linearGradient id="g87" x1="0" y1="0" x2="0" y2="1"><stop offset="0" stop-color="#1700ff"/><stop offset="0.042" stop-color="#0500ff"/><stop offset="0.083" stop-color="#0041ff"/><stop offset="0.125" stop-color="#00c2ff"/><stop offset="0.167" stop-color="#00ffb2"/><stop offset="0.208" stop-color="#00ff4d"/><stop offset="0.25" stop-color="#3dff0d"/><stop offset="0.292" stop-color="#af0"/><stop offset="0.333" stop-color="#ffe900"/><stop offset="0.375" stop-color="#ff8d00"/><stop offset="0.417" stop-color="#ff5400"/><stop offset="0.458" stop-color="#ff4200"/><stop offset="0.5" stop-color="#ff5600"/><stop offset="0.542" stop-color="#ff8f00"/><stop offset="0.583" stop-color="#ffe800"/><stop offset="0.625" stop-color="#b4ff00"/><stop offset="0.667" stop-color="#57ff01"/><stop offset="0.708" stop-color="#1cff1c"/><stop offset="0.75" stop-color="#00ff6e"/><stop offset="0.792" stop-color="#00f2f5"/><stop offset="0.875" stop-color="#002fff"/><stop offset="0.917" stop-color="#0800ff"/><stop offset="0.958" stop-color="#1000ff"/><stop offset="1" stop-color="#000fff"/></linearGradient><linearGradient id="g88" x1="0" y1="0" x2="0" y2="1"><stop offset="0" stop-color="#1700ff"/><stop offset="0.042" stop-color="#0500ff"/><stop offset="0.083" stop-color="#0041ff"/><stop offset="0.125" stop-color="#00c2ff"/><stop offset="0.167" stop-color="#00ffb2"/><stop offset="0.208" stop-color="#00ff4d"/><stop offset="0.25" stop-color="#3dff0d"/><stop offset="0.292" stop-color="#af0"/><stop offset="0.333" stop-color="#ffe900"/><stop offset="0.375" stop-color="#ff8d00"/><stop offset="0.417" stop-color="#ff5400"/><stop offset="0.458" stop-color="#ff4200"/><stop offset="0.5" stop-color="#ff5600"/><stop offset="0.542" stop-color="#ff8f00"/><stop offset="0.583" stop-color="#ffe800"/><stop offset="0.625" stop-color="#b4ff00"/><stop offset="0.667" stop-color="#57ff01"/><stop offset="0.708" stop-color="#1cff1c"/><stop offset="0.75" stop-color="#00ff6e"/><stop offset="0.792" stop-color="#00f2f5"/><stop offset="0.875" stop-color="#002fff"/><stop offset="0.917" stop-color="#0800ff"/><stop offset="0.958" stop-color="#1000ff"/><stop offset="1" stop-color="#000fff"/></linearGradient><linearGradient id="g89" x1="0" y1="0" x2="0" y2="1"><stop offset="0" stop-color="#1700ff"/><stop offset="0.042" stop-color="#0500ff"/><stop offset="0.083" stop-color="#0041ff"/><stop offset="0.125" stop-color="#00c2ff"/><stop offset="0.167" stop-color="#00ffb2"/><stop offset="0.208" stop-color="#00ff4d"/><stop offset="0.25" stop-color="#3dff0d"/><stop offset="0.292" stop-color="#af0"/><stop offset="0.333" stop-color="#ffe900"/><stop offset="0.375" stop-color="#ff8d00"/><stop offset="0.417" stop-color="#ff5400"/><stop offset="0.458" stop-color="#ff4200"/><stop offset="0.5" stop-color="#ff5600"/><stop offset="0.542" stop-color="#ff8f00"/><stop offset="0.583" stop-color="#ffe800"/><stop offset="0.625" stop-color="#b4ff00"/><stop offset="0.667" stop-color="#57ff01"/><stop offset="0.708" stop-color="#1cff1c"/><stop offset="0.75" stop-color="#00ff6e"/><stop offset="0.792" stop-color="#00f2f5"/><stop offset="0.875" stop-color="#002fff"/><stop offset="0.917" stop-color="#0800ff"/><stop offset="0.958" stop-color="#1000ff"/><stop offset="1" stop-color="#000fff"/></linearGradient><linearGradient id="g90" x1="0" y1="0" x2="0" y2="1"><stop offset="0" stop-color="#1700ff"/><stop offset="0.042" stop-color="#0500ff"/><stop offset="0.083" stop-color="#0042ff"/><stop offset="0.125" stop-color="#00c3ff"/><stop offset="0.167" stop-color="#00ffb1"/><stop offset="0.208" stop-color="#00ff4d"/><stop offset="0.25" stop-color="#3dff0d"/><stop offset="0.292" stop-color="#a9ff00"/><stop offset="0.333" stop-color="#ffea00"/><stop offset="0.375" stop-color="#ff8d00"/><stop offset="0.417" stop-color="#f50"/><stop offset="0.458" stop-color="#ff4300"/><stop offset="0.5" stop-color="#ff5700"/><stop offset="0.542" stop-color="#ff9000"/><stop offset="0.583" stop-color="#ffe800"/><stop offset="0.625" stop-color="#b4ff00"/><stop offset="0.667" stop-color="#57ff01"/><stop offset="0.708" stop-color="#1bff1c"/><stop offset="0.75" stop-color="#00ff6e"/><stop offset="0.792" stop-color="#00f2f4"/><stop offset="0.833" stop-color="#008dff"/><stop offset="0.875" stop-color="#002fff"/><stop offset="0.917" stop-color="#0700ff"/><stop offset="0.958" stop-color="#0f00ff"/><stop offset="1" stop-color="#0010ff"/></linearGradient><linearGradient id="g91" x1="0" y1="0" x2="0" y2="1"><stop offset="0" stop-color="#1500ff"/><stop offset="0.042" stop-color="#0300ff"/><stop offset="0.083" stop-color="#0047ff"/><stop offset="0.125" stop-color="#00c6ff"/><stop offset="0.167" stop-color="#00ffaf"/><stop offset="0.208" stop-color="#00ff4c"/><stop offset="0.25" stop-color="#3dff0d"/><stop offset="0.292" stop-color="#a8ff00"/><stop offset="0.333" stop-color="#ffed00"/><stop offset="0.375" stop-color="#ff9200"/><stop offset="0.417" stop-color="#ff5a00"/><stop offset="0.458" stop-color="#ff4800"/><stop offset="0.5" stop-color="#ff5c00"/><stop offset="0.542" stop-color="#ff9400"/><stop offset="0.583" stop-color="#ffec00"/><stop offset="0.625" stop-color="#b1ff00"/><stop offset="0.667" stop-color="#56ff02"/><stop offset="0.708" stop-color="#1bff1c"/><stop offset="0.75" stop-color="#00ff6e"/><stop offset="0.792" stop-color="#00f3f3"/><stop offset="0.833" stop-color="#0090ff"/><stop offset="0.875" stop-color="#03f"/><stop offset="0.917" stop-color="#0300ff"/><stop offset="0.958" stop-color="#0c00ff"/><stop offset="1" stop-color="#0014ff"/></linearGradient><linearGradient id="g92" x1="0" y1="0" x2="0" y2="1"><stop offset="0" stop-color="#1300ff"/><stop offset="0.042" stop-color="#0100ff"/><stop offset="0.083" stop-color="#004dff"/><stop offset="0.125" stop-color="#00caff"/><stop offset="0.167" stop-color="#00ffac"/><stop offset="0.208" stop-color="#00ff4b"/><stop offset="0.25" stop-color="#3cff0d"/><stop offset="0.292" stop-color="#a5ff00"/><stop offset="0.333" stop-color="#fff100"/><stop offset="0.375" stop-color="#ff9800"/><stop offset="0.417" stop-color="#ff6000"/><stop offset="0.458" stop-color="#ff4e00"/><stop offset="0.5" stop-color="#ff6200"/><stop offset="0.542" stop-color="#ff9a00"/><stop offset="0.583" stop-color="#fff000"/><stop offset="0.625" stop-color="#aeff00"/><stop offset="0.667" stop-color="#54ff03"/><stop offset="0.708" stop-color="#1aff1c"/><stop offset="0.75" stop-color="#00ff6d"/><stop offset="0.792" stop-color="#00f3f0"/><stop offset="0.833" stop-color="#0094ff"/><stop offset="0.875" stop-color="#0039ff"/><stop offset="0.917" stop-color="#0002ff"/><stop offset="0.958" stop-color="#0700ff"/><stop offset="1" stop-color="#001aff"/></linearGradient><linearGradient id="g93" x1="0" y1="0" x2="0" y2="1"><stop offset="0" stop-color="#10f"/><stop offset="0.042" stop-color="#0001ff"/><stop offset="0.083" stop-color="#0053ff"/><stop offset="0.125" stop-color="#00ceff"/><stop offset="0.167" stop-color="#0fa"/><stop offset="0.208" stop-color="#00ff4a"/><stop offset="0.25" stop-color="#3bff0e"/><stop offset="0.292" stop-color="#a3ff00"/><stop offset="0.333" stop-color="#fff400"/><stop offset="0.375" stop-color="#ff9e00"/><stop offset="0.417" stop-color="#f60"/><stop offset="0.458" stop-color="#f50"/><stop offset="0.5" stop-color="#ff6900"/><stop offset="0.542" stop-color="#ffa100"/><stop offset="0.583" stop-color="#fff400"/><stop offset="0.625" stop-color="#abff00"/><stop offset="0.667" stop-color="#52ff03"/><stop offset="0.708" stop-color="#19ff1d"/><stop offset="0.75" stop-color="#00ff6d"/><stop offset="0.792" stop-color="#00f4ee"/><stop offset="0.833" stop-color="#0098ff"/><stop offset="0.875" stop-color="#003eff"/><stop offset="0.917" stop-color="#0009ff"/><stop offset="0.958" stop-color="#0200ff"/><stop offset="1" stop-color="#0020ff"/></linearGradient><linearGradient id="g94" x1="0" y1="0" x2="0" y2="1"><stop offset="0" stop-color="#0f00ff"/><stop offset="0.042" stop-color="#0003ff"/><stop offset="0.083" stop-color="#0059ff"/><stop offset="0.125" stop-color="#00d1ff"/><stop offset="0.167" stop-color="#00ffa7"/><stop offset="0.208" stop-color="#00ff49"/><stop offset="0.25" stop-color="#3bff0e"/><stop offset="0.292" stop-color="#a1ff00"/><stop offset="0.333" stop-color="#fff800"/><stop offset="0.375" stop-color="#ffa300"/><stop offset="0.417" stop-color="#ff6c00"/><stop offset="0.458" stop-color="#ff5a00"/><stop offset="0.5" stop-color="#ff6e00"/><stop offset="0.542" stop-color="#ffa600"/><stop offset="0.583" stop-color="#fff800"/><stop offset="0.667" stop-color="#51ff04"/><stop offset="0.708" stop-color="#19ff1d"/><stop offset="0.75" stop-color="#00ff6c"/><stop offset="0.792" stop-color="#00f4ec"/><stop offset="0.833" stop-color="#009cff"/><stop offset="0.875" stop-color="#0043ff"/><stop offset="0.917" stop-color="#000eff"/><stop offset="0.958" stop-color="#0004ff"/><stop offset="1" stop-color="#0025ff"/></linearGradient><linearGradient id="g95" x1="0" y1="0" x2="0" y2="1"><stop offset="0" stop-color="#0d00ff"/><stop offset="0.042" stop-color="#0005ff"/><stop offset="0.083" stop-color="#005dff"/><stop offset="0.125" stop-color="#00d4ff"/><stop offset="0.167" stop-color="#00ffa5"/><stop offset="0.208" stop-color="#00ff49"/><stop offset="0.25" stop-color="#3aff0e"/><stop offset="0.292" stop-color="#9fff00"/><stop offset="0.333" stop-color="#fffb00"/><stop offset="0.375" stop-color="#ffa700"/><stop offset="0.417" stop-color="#ff7100"/><stop offset="0.458" stop-color="#ff5f00"/><stop offset="0.5" stop-color="#ff7300"/><stop offset="0.542" stop-color="#fa0"/><stop offset="0.583" stop-color="#fffb00"/><stop offset="0.667" stop-color="#50ff05"/><stop offset="0.708" stop-color="#18ff1d"/><stop offset="0.75" stop-color="#00ff6c"/><stop offset="0.792" stop-color="#00f5ea"/><stop offset="0.833" stop-color="#009fff"/><stop offset="0.875" stop-color="#0047ff"/><stop offset="0.917" stop-color="#0013ff"/><stop offset="0.958" stop-color="#0008ff"/><stop offset="1" stop-color="#0029ff"/></linearGradient><linearGradient id="g96" x1="0" y1="0" x2="0" y2="1"><stop offset="0" stop-color="#0a00ff"/><stop offset="0.042" stop-color="#0009ff"/><stop offset="0.083" stop-color="#0068ff"/><stop offset="0.125" stop-color="#00daff"/><stop offset="0.167" stop-color="#00ffa0"/><stop offset="0.208" stop-color="#00ff47"/><stop offset="0.25" stop-color="#39ff0f"/><stop offset="0.292" stop-color="#9bff00"/><stop offset="0.333" stop-color="#fdff00"/><stop offset="0.375" stop-color="#ffb100"/><stop offset="0.417" stop-color="#ff7b00"/><stop offset="0.458" stop-color="#ff6b00"/><stop offset="0.5" stop-color="#ff7e00"/><stop offset="0.542" stop-color="#ffb500"/><stop offset="0.583" stop-color="#fcff00"/><stop offset="0.667" stop-color="#4dff06"/><stop offset="0.708" stop-color="#17ff1e"/><stop offset="0.75" stop-color="#00ff6b"/><stop offset="0.792" stop-color="#00f6e7"/><stop offset="0.833" stop-color="#00a6ff"/><stop offset="0.875" stop-color="#0050ff"/><stop offset="0.917" stop-color="#001dff"/><stop offset="0.958" stop-color="#0013ff"/><stop offset="1" stop-color="#03f"/></linearGradient><linearGradient id="g97" x1="0" y1="0" x2="0" y2="1"><stop offset="0" stop-color="#0500ff"/><stop offset="0.042" stop-color="#0014ff"/><stop offset="0.083" stop-color="#0076ff"/><stop offset="0.125" stop-color="#00e3ff"/><stop offset="0.167" stop-color="#00ff9a"/><stop offset="0.208" stop-color="#00ff45"/><stop offset="0.25" stop-color="#38ff0f"/><stop offset="0.292" stop-color="#96ff00"/><stop offset="0.333" stop-color="#f4ff00"/><stop offset="0.375" stop-color="#ffbe00"/><stop offset="0.417" stop-color="#ff8900"/><stop offset="0.458" stop-color="#ff7900"/><stop offset="0.5" stop-color="#ff8c00"/><stop offset="0.542" stop-color="#ffc200"/><stop offset="0.583" stop-color="#f2ff00"/><stop offset="0.667" stop-color="#4aff07"/><stop offset="0.708" stop-color="#15ff1f"/><stop offset="0.75" stop-color="#00ff6a"/><stop offset="0.792" stop-color="#00f7e2"/><stop offset="0.833" stop-color="#00afff"/><stop offset="0.875" stop-color="#005cff"/><stop offset="0.917" stop-color="#002bff"/><stop offset="0.958" stop-color="#0021ff"/><stop offset="1" stop-color="#0041ff"/></linearGradient><linearGradient id="g98" x1="0" y1="0" x2="0" y2="1"><stop offset="0" stop-color="#00f"/><stop offset="0.042" stop-color="#0026ff"/><stop offset="0.125" stop-color="#00ebff"/><stop offset="0.167" stop-color="#00ff94"/><stop offset="0.208" stop-color="#00ff43"/><stop offset="0.25" stop-color="#37ff10"/><stop offset="0.292" stop-color="#91ff00"/><stop offset="0.333" stop-color="#ebff00"/><stop offset="0.375" stop-color="#ffcb00"/><stop offset="0.417" stop-color="#ff9800"/><stop offset="0.458" stop-color="#f80"/><stop offset="0.5" stop-color="#ff9b00"/><stop offset="0.542" stop-color="#ffcf00"/><stop offset="0.583" stop-color="#e8ff00"/><stop offset="0.667" stop-color="#46ff09"/><stop offset="0.708" stop-color="#13ff1f"/><stop offset="0.75" stop-color="#00ff69"/><stop offset="0.792" stop-color="#00f8dd"/><stop offset="0.833" stop-color="#00b7ff"/><stop offset="0.875" stop-color="#0068ff"/><stop offset="0.917" stop-color="#0039ff"/><stop offset="0.958" stop-color="#002fff"/><stop offset="1" stop-color="#004dff"/></linearGradient><linearGradient id="g99" x1="0" y1="0" x2="0" y2="1"><stop offset="0" stop-color="#0004ff"/><stop offset="0.042" stop-color="#03f"/><stop offset="0.125" stop-color="#00f0fe"/><stop offset="0.167" stop-color="#00ff90"/><stop offset="0.208" stop-color="#00ff41"/><stop offset="0.25" stop-color="#35ff10"/><stop offset="0.292" stop-color="#8eff00"/><stop offset="0.333" stop-color="#e4ff00"/><stop offset="0.375" stop-color="#ffd400"/><stop offset="0.417" stop-color="#ffa300"/><stop offset="0.458" stop-color="#ff9400"/><stop offset="0.5" stop-color="#ffa700"/><stop offset="0.542" stop-color="#ffda00"/><stop offset="0.583" stop-color="#e1ff00"/><stop offset="0.667" stop-color="#43ff0a"/><stop offset="0.708" stop-color="#12ff20"/><stop offset="0.75" stop-color="#00ff68"/><stop offset="0.792" stop-color="#00f9d9"/><stop offset="0.833" stop-color="#00bdff"/><stop offset="0.875" stop-color="#0071ff"/><stop offset="0.917" stop-color="#0043ff"/><stop offset="0.958" stop-color="#003aff"/><stop offset="1" stop-color="#0057ff"/></linearGradient><linearGradient id="g100" x1="0" y1="0" x2="0" y2="1"><stop offset="0" stop-color="#0009ff"/><stop offset="0.042" stop-color="#0042ff"/><stop offset="0.125" stop-color="#00f2f6"/><stop offset="0.167" stop-color="#00ff8b"/><stop offset="0.208" stop-color="#00ff3f"/><stop offset="0.25" stop-color="#34ff11"/><stop offset="0.292" stop-color="#89ff00"/><stop offset="0.333" stop-color="#dcff00"/><stop offset="0.375" stop-color="#ffdf00"/><stop offset="0.417" stop-color="#ffb000"/><stop offset="0.458" stop-color="#ffa100"/><stop offset="0.5" stop-color="#ffb400"/><stop offset="0.542" stop-color="#ffe400"/><stop offset="0.583" stop-color="#d8ff00"/><stop offset="0.625" stop-color="#8aff00"/><stop offset="0.667" stop-color="#40ff0b"/><stop offset="0.708" stop-color="#11ff21"/><stop offset="0.75" stop-color="#00ff67"/><stop offset="0.792" stop-color="#00fad5"/><stop offset="0.833" stop-color="#00c4ff"/><stop offset="0.875" stop-color="#007bff"/><stop offset="0.917" stop-color="#004fff"/><stop offset="0.958" stop-color="#0046ff"/><stop offset="1" stop-color="#0062ff"/></linearGradient><linearGradient id="g101" x1="0" y1="0" x2="0" y2="1"><stop offset="0" stop-color="#0023ff"/><stop offset="0.042" stop-color="#005cff"/><stop offset="0.083" stop-color="#00aeff"/><stop offset="0.125" stop-color="#00f5e9"/><stop offset="0.167" stop-color="#00ff82"/><stop offset="0.208" stop-color="#00ff3c"/><stop offset="0.25" stop-color="#32ff12"/><stop offset="0.292" stop-color="#82ff00"/><stop offset="0.333" stop-color="#cfff00"/><stop offset="0.375" stop-color="#ffef00"/><stop offset="0.417" stop-color="#ffc600"/><stop offset="0.458" stop-color="#ffb800"/><stop offset="0.5" stop-color="#ffca00"/><stop offset="0.542" stop-color="#fff500"/><stop offset="0.583" stop-color="#caff00"/><stop offset="0.625" stop-color="#81ff00"/><stop offset="0.667" stop-color="#3bff0e"/><stop offset="0.708" stop-color="#0eff22"/><stop offset="0.75" stop-color="#00ff65"/><stop offset="0.792" stop-color="#00fbce"/><stop offset="0.833" stop-color="#00cfff"/><stop offset="0.875" stop-color="#008dff"/><stop offset="0.917" stop-color="#0063ff"/><stop offset="0.958" stop-color="#005bff"/><stop offset="1" stop-color="#0075ff"/></linearGradient><linearGradient id="g102" x1="0" y1="0" x2="0" y2="1"><stop offset="0" stop-color="#0043ff"/><stop offset="0.042" stop-color="#0078ff"/><stop offset="0.083" stop-color="#00c3ff"/><stop offset="0.125" stop-color="#00f9da"/><stop offset="0.167" stop-color="#00ff78"/><stop offset="0.208" stop-color="#00ff39"/><stop offset="0.25" stop-color="#30ff13"/><stop offset="0.292" stop-color="#7aff00"/><stop offset="0.333" stop-color="#c1ff00"/><stop offset="0.375" stop-color="#fdff00"/><stop offset="0.417" stop-color="#ffde00"/><stop offset="0.458" stop-color="#ffd200"/><stop offset="0.5" stop-color="#ffe200"/><stop offset="0.542" stop-color="#f6ff00"/><stop offset="0.625" stop-color="#7f0"/><stop offset="0.667" stop-color="#36ff10"/><stop offset="0.708" stop-color="#0cff23"/><stop offset="0.75" stop-color="#00ff63"/><stop offset="0.792" stop-color="#00fdc6"/><stop offset="0.833" stop-color="#00dcff"/><stop offset="0.875" stop-color="#00a0ff"/><stop offset="0.917" stop-color="#0079ff"/><stop offset="0.958" stop-color="#0071ff"/><stop offset="1" stop-color="#008aff"/></linearGradient><linearGradient id="g103" x1="0" y1="0" x2="0" y2="1"><stop offset="0" stop-color="#005eff"/><stop offset="0.042" stop-color="#008fff"/><stop offset="0.083" stop-color="#00d3ff"/><stop offset="0.125" stop-color="#00fbce"/><stop offset="0.167" stop-color="#00ff70"/><stop offset="0.208" stop-color="#00ff36"/><stop offset="0.25" stop-color="#2eff13"/><stop offset="0.292" stop-color="#73ff00"/><stop offset="0.375" stop-color="#edff00"/><stop offset="0.417" stop-color="#ffef00"/><stop offset="0.458" stop-color="#ffe500"/><stop offset="0.5" stop-color="#fff300"/><stop offset="0.542" stop-color="#e5ff00"/><stop offset="0.625" stop-color="#6eff00"/><stop offset="0.667" stop-color="#31ff12"/><stop offset="0.708" stop-color="#09ff24"/><stop offset="0.75" stop-color="#00ff61"/><stop offset="0.792" stop-color="#00ffbf"/><stop offset="0.833" stop-color="#00e7ff"/><stop offset="0.875" stop-color="#00b0ff"/><stop offset="0.917" stop-color="#008bff"/><stop offset="0.958" stop-color="#0084ff"/><stop offset="1" stop-color="#009bff"/></linearGradient><linearGradient id="g104" x1="0" y1="0" x2="0" y2="1"><stop offset="0" stop-color="#006dff"/><stop offset="0.042" stop-color="#009cff"/><stop offset="0.083" stop-color="#00dcff"/><stop offset="0.125" stop-color="#00fdc8"/><stop offset="0.167" stop-color="#00ff6d"/><stop offset="0.208" stop-color="#00ff35"/><stop offset="0.25" stop-color="#2cff14"/><stop offset="0.292" stop-color="#6eff00"/><stop offset="0.375" stop-color="#e2ff00"/><stop offset="0.417" stop-color="#fffb00"/><stop offset="0.458" stop-color="#fff100"/><stop offset="0.5" stop-color="#ff0"/><stop offset="0.542" stop-color="#daff00"/><stop offset="0.625" stop-color="#68ff00"/><stop offset="0.667" stop-color="#2dff14"/><stop offset="0.708" stop-color="#07ff25"/><stop offset="0.75" stop-color="#00ff62"/><stop offset="0.792" stop-color="#00ffbc"/><stop offset="0.833" stop-color="#00ecff"/><stop offset="0.875" stop-color="#00b8ff"/><stop offset="0.917" stop-color="#0095ff"/><stop offset="0.958" stop-color="#008eff"/><stop offset="1" stop-color="#00a4ff"/></linearGradient><linearGradient id="g105" x1="0" y1="0" x2="0" y2="1"><stop offset="0" stop-color="#0083ff"/><stop offset="0.042" stop-color="#00afff"/><stop offset="0.083" stop-color="#00e9ff"/><stop offset="0.125" stop-color="#00ffbf"/><stop offset="0.167" stop-color="#00ff68"/><stop offset="0.208" stop-color="#00ff35"/><stop offset="0.25" stop-color="#29ff16"/><stop offset="0.292" stop-color="#6f0"/><stop offset="0.375" stop-color="#d2ff00"/><stop offset="0.417" stop-color="#f1ff00"/><stop offset="0.458" stop-color="#faff00"/><stop offset="0.5" stop-color="#ecff00"/><stop offset="0.542" stop-color="#c9ff00"/><stop offset="0.625" stop-color="#5fff00"/><stop offset="0.667" stop-color="#27ff17"/><stop offset="0.708" stop-color="#04ff26"/><stop offset="0.75" stop-color="#00ff62"/><stop offset="0.792" stop-color="#00ffb7"/><stop offset="0.833" stop-color="#00f1fb"/><stop offset="0.875" stop-color="#00c3ff"/><stop offset="0.917" stop-color="#00a4ff"/><stop offset="0.958" stop-color="#009dff"/><stop offset="1" stop-color="#00b2ff"/></linearGradient><linearGradient id="g106" x1="0" y1="0" x2="0" y2="1"><stop offset="0" stop-color="#009dff"/><stop offset="0.083" stop-color="#00f2f6"/><stop offset="0.125" stop-color="#00ffb1"/><stop offset="0.167" stop-color="#00ff63"/><stop offset="0.208" stop-color="#00ff34"/><stop offset="0.25" stop-color="#25ff17"/><stop offset="0.292" stop-color="#5eff00"/><stop offset="0.375" stop-color="#c0ff00"/><stop offset="0.417" stop-color="#dcff00"/><stop offset="0.458" stop-color="#e4ff00"/><stop offset="0.5" stop-color="#d7ff00"/><stop offset="0.542" stop-color="#b6ff00"/><stop offset="0.625" stop-color="#54ff03"/><stop offset="0.667" stop-color="#21ff19"/><stop offset="0.708" stop-color="#00ff29"/><stop offset="0.75" stop-color="#00ff63"/><stop offset="0.792" stop-color="#00ffb1"/><stop offset="0.833" stop-color="#00f3f1"/><stop offset="0.875" stop-color="#00d0ff"/><stop offset="0.917" stop-color="#00b5ff"/><stop offset="0.958" stop-color="#00afff"/><stop offset="1" stop-color="#00c0ff"/></linearGradient><linearGradient id="g107" x1="0" y1="0" x2="0" y2="1"><stop offset="0" stop-color="#00b3ff"/><stop offset="0.042" stop-color="#00d4ff"/><stop offset="0.083" stop-color="#00f5e8"/><stop offset="0.167" stop-color="#00ff5f"/><stop offset="0.208" stop-color="#00ff34"/><stop offset="0.25" stop-color="#22ff19"/><stop offset="0.292" stop-color="#56ff02"/><stop offset="0.375" stop-color="#afff00"/><stop offset="0.417" stop-color="#c9ff00"/><stop offset="0.458" stop-color="#d0ff00"/><stop offset="0.5" stop-color="#c4ff00"/><stop offset="0.542" stop-color="#a6ff00"/><stop offset="0.625" stop-color="#4aff07"/><stop offset="0.667" stop-color="#1bff1c"/><stop offset="0.708" stop-color="#00ff2e"/><stop offset="0.75" stop-color="#00ff64"/><stop offset="0.792" stop-color="#00ffad"/><stop offset="0.833" stop-color="#00f5e9"/><stop offset="0.875" stop-color="#00daff"/><stop offset="0.917" stop-color="#00c1ff"/><stop offset="0.958" stop-color="#00bcff"/><stop offset="1" stop-color="#0cf"/></linearGradient><linearGradient id="g108" x1="0" y1="0" x2="0" y2="1"><stop offset="0" stop-color="#00bcff"/><stop offset="0.042" stop-color="#00dcff"/><stop offset="0.083" stop-color="#00f7e2"/><stop offset="0.167" stop-color="#00ff5e"/><stop offset="0.208" stop-color="#00ff35"/><stop offset="0.25" stop-color="#1fff1a"/><stop offset="0.292" stop-color="#50ff04"/><stop offset="0.375" stop-color="#a6ff00"/><stop offset="0.417" stop-color="#beff00"/><stop offset="0.458" stop-color="#c5ff00"/><stop offset="0.5" stop-color="#b8ff00"/><stop offset="0.542" stop-color="#9cff00"/><stop offset="0.625" stop-color="#44ff0a"/><stop offset="0.667" stop-color="#16ff1e"/><stop offset="0.708" stop-color="#00ff32"/><stop offset="0.75" stop-color="#0f6"/><stop offset="0.792" stop-color="#00ffac"/><stop offset="0.833" stop-color="#00f6e6"/><stop offset="0.875" stop-color="#00dfff"/><stop offset="0.917" stop-color="#00c7ff"/><stop offset="0.958" stop-color="#00c2ff"/><stop offset="1" stop-color="#00d1ff"/></linearGradient><linearGradient id="g109" x1="0" y1="0" x2="0" y2="1"><stop offset="0" stop-color="#00c6ff"/><stop offset="0.042" stop-color="#00e4ff"/><stop offset="0.083" stop-color="#00f8dc"/><stop offset="0.167" stop-color="#00ff5e"/><stop offset="0.208" stop-color="#00ff36"/><stop offset="0.25" stop-color="#1cff1c"/><stop offset="0.292" stop-color="#4bff07"/><stop offset="0.375" stop-color="#9cff00"/><stop offset="0.417" stop-color="#b2ff00"/><stop offset="0.458" stop-color="#b9ff00"/><stop offset="0.5" stop-color="#adff00"/><stop offset="0.542" stop-color="#92ff00"/><stop offset="0.583" stop-color="#6bff00"/><stop offset="0.667" stop-color="#12ff20"/><stop offset="0.708" stop-color="#00ff36"/><stop offset="0.75" stop-color="#00ff68"/><stop offset="0.792" stop-color="#00ffab"/><stop offset="0.833" stop-color="#00f6e3"/><stop offset="0.875" stop-color="#00e4ff"/><stop offset="0.917" stop-color="#00cdff"/><stop offset="0.958" stop-color="#00c8ff"/><stop offset="1" stop-color="#00d7ff"/></linearGradient><linearGradient id="g110" x1="0" y1="0" x2="0" y2="1"><stop offset="0" stop-color="#00d3ff"/><stop offset="0.042" stop-color="#00efff"/><stop offset="0.083" stop-color="#00fad3"/><stop offset="0.167" stop-color="#00ff5c"/><stop offset="0.208" stop-color="#00ff37"/><stop offset="0.25" stop-color="#18ff1d"/><stop offset="0.333" stop-color="#6eff00"/><stop offset="0.375" stop-color="#90ff00"/><stop offset="0.417" stop-color="#a5ff00"/><stop offset="0.458" stop-color="#af0"/><stop offset="0.5" stop-color="#9fff00"/><stop offset="0.542" stop-color="#86ff00"/><stop offset="0.583" stop-color="#61ff00"/><stop offset="0.667" stop-color="#0dff22"/><stop offset="0.708" stop-color="#00ff3b"/><stop offset="0.75" stop-color="#00ff6a"/><stop offset="0.833" stop-color="#00f8de"/><stop offset="0.875" stop-color="#00eaff"/><stop offset="0.917" stop-color="#00d5ff"/><stop offset="0.958" stop-color="#00d0ff"/><stop offset="1" stop-color="#00deff"/></linearGradient><linearGradient id="g111" x1="0" y1="0" x2="0" y2="1"><stop offset="0" stop-color="#00dfff"/><stop offset="0.042" stop-color="#00f2f5"/><stop offset="0.083" stop-color="#00fccb"/><stop offset="0.167" stop-color="#00ff5a"/><stop offset="0.208" stop-color="#00ff38"/><stop offset="0.25" stop-color="#15ff1f"/><stop offset="0.333" stop-color="#65ff00"/><stop offset="0.375" stop-color="#85ff00"/><stop offset="0.417" stop-color="#98ff00"/><stop offset="0.458" stop-color="#9cff00"/><stop offset="0.5" stop-color="#92ff00"/><stop offset="0.542" stop-color="#7aff00"/><stop offset="0.583" stop-color="#57ff01"/><stop offset="0.667" stop-color="#08ff25"/><stop offset="0.708" stop-color="#00ff3f"/><stop offset="0.75" stop-color="#00ff6b"/><stop offset="0.833" stop-color="#00f9da"/><stop offset="0.875" stop-color="#00f0fe"/><stop offset="0.917" stop-color="#00dcff"/><stop offset="0.958" stop-color="#00d8ff"/><stop offset="1" stop-color="#00e5ff"/></linearGradient><linearGradient id="g112" x1="0" y1="0" x2="0" y2="1"><stop offset="0" stop-color="#00e7ff"/><stop offset="0.042" stop-color="#00f4ed"/><stop offset="0.083" stop-color="#00fdc5"/><stop offset="0.167" stop-color="#00ff5a"/><stop offset="0.208" stop-color="#00ff39"/><stop offset="0.25" stop-color="#12ff20"/><stop offset="0.333" stop-color="#5eff00"/><stop offset="0.375" stop-color="#7cff00"/><stop offset="0.417" stop-color="#8eff00"/><stop offset="0.458" stop-color="#92ff00"/><stop offset="0.5" stop-color="#8f0"/><stop offset="0.583" stop-color="#4fff05"/><stop offset="0.667" stop-color="#04ff26"/><stop offset="0.708" stop-color="#00ff43"/><stop offset="0.75" stop-color="#00ff6d"/><stop offset="0.833" stop-color="#00f9d7"/><stop offset="0.875" stop-color="#00f1fa"/><stop offset="0.917" stop-color="#00e1ff"/><stop offset="0.958" stop-color="#0df"/><stop offset="1" stop-color="#00eaff"/></linearGradient><linearGradient id="g113" x1="0" y1="0" x2="0" y2="1"><stop offset="0" stop-color="#00eaff"/><stop offset="0.042" stop-color="#00f5eb"/><stop offset="0.083" stop-color="#00fec4"/><stop offset="0.167" stop-color="#00ff5b"/><stop offset="0.208" stop-color="#00ff3b"/><stop offset="0.25" stop-color="#10ff21"/><stop offset="0.333" stop-color="#5aff00"/><stop offset="0.375" stop-color="#7f0"/><stop offset="0.417" stop-color="#8f0"/><stop offset="0.458" stop-color="#8cff00"/><stop offset="0.5" stop-color="#82ff00"/><stop offset="0.583" stop-color="#4bff07"/><stop offset="0.667" stop-color="#01ff28"/><stop offset="0.708" stop-color="#00ff46"/><stop offset="0.75" stop-color="#00ff6f"/><stop offset="0.833" stop-color="#00f9d7"/><stop offset="0.875" stop-color="#00f1f9"/><stop offset="0.958" stop-color="#00dfff"/><stop offset="1" stop-color="#00ebff"/></linearGradient><linearGradient id="g114" x1="0" y1="0" x2="0" y2="1"><stop offset="0" stop-color="#00efff"/><stop offset="0.042" stop-color="#00f6e6"/><stop offset="0.083" stop-color="#00fec1"/><stop offset="0.167" stop-color="#00ff5b"/><stop offset="0.208" stop-color="#00ff3c"/><stop offset="0.25" stop-color="#0eff22"/><stop offset="0.333" stop-color="#55ff02"/><stop offset="0.375" stop-color="#71ff00"/><stop offset="0.417" stop-color="#82ff00"/><stop offset="0.458" stop-color="#85ff00"/><stop offset="0.5" stop-color="#7cff00"/><stop offset="0.583" stop-color="#46ff09"/><stop offset="0.667" stop-color="#00ff2b"/><stop offset="0.75" stop-color="#00ff71"/><stop offset="0.833" stop-color="#00fad6"/><stop offset="0.875" stop-color="#00f2f7"/><stop offset="0.958" stop-color="#00e2ff"/><stop offset="1" stop-color="#00edff"/></linearGradient><linearGradient id="g115" x1="0" y1="0" x2="0" y2="1"><stop offset="0" stop-color="#00f1f9"/><stop offset="0.042" stop-color="#00f7e0"/><stop offset="0.083" stop-color="#00ffbc"/><stop offset="0.167" stop-color="#00ff5a"/><stop offset="0.208" stop-color="#00ff3d"/><stop offset="0.25" stop-color="#0cff23"/><stop offset="0.333" stop-color="#50ff04"/><stop offset="0.375" stop-color="#6bff00"/><stop offset="0.417" stop-color="#7bff00"/><stop offset="0.458" stop-color="#7eff00"/><stop offset="0.5" stop-color="#74ff00"/><stop offset="0.542" stop-color="#5fff00"/><stop offset="0.667" stop-color="#00ff2e"/><stop offset="0.75" stop-color="#00ff72"/><stop offset="0.833" stop-color="#00fad3"/><stop offset="0.875" stop-color="#00f3f3"/><stop offset="0.917" stop-color="#00e9ff"/><stop offset="0.958" stop-color="#00e6ff"/><stop offset="1" stop-color="#00f0fe"/></linearGradient><linearGradient id="g116" x1="0" y1="0" x2="0" y2="1"><stop offset="0" stop-color="#00f3f2"/><stop offset="0.042" stop-color="#00f9da"/><stop offset="0.083" stop-color="#00ffb6"/><stop offset="0.167" stop-color="#00ff58"/><stop offset="0.208" stop-color="#00ff3d"/><stop offset="0.25" stop-color="#0bff23"/><stop offset="0.333" stop-color="#4cff06"/><stop offset="0.417" stop-color="#74ff00"/><stop offset="0.458" stop-color="#78ff00"/><stop offset="0.5" stop-color="#6eff00"/><stop offset="0.542" stop-color="#59ff00"/><stop offset="0.667" stop-color="#00ff31"/><stop offset="0.75" stop-color="#00ff73"/><stop offset="0.833" stop-color="#00fbd0"/><stop offset="0.875" stop-color="#00f4ef"/><stop offset="0.917" stop-color="#0ef"/><stop offset="1" stop-color="#00f1f9"/></linearGradient><linearGradient id="g117" x1="0" y1="0" x2="0" y2="1"><stop offset="0" stop-color="#00f5eb"/><stop offset="0.042" stop-color="#00fad4"/><stop offset="0.083" stop-color="#00ffb1"/><stop offset="0.167" stop-color="#00ff57"/><stop offset="0.208" stop-color="#00ff3c"/><stop offset="0.25" stop-color="#0bff23"/><stop offset="0.375" stop-color="#61ff00"/><stop offset="0.417" stop-color="#70ff00"/><stop offset="0.458" stop-color="#73ff00"/><stop offset="0.542" stop-color="#55ff02"/><stop offset="0.667" stop-color="#0f3"/><stop offset="0.75" stop-color="#00ff72"/><stop offset="0.833" stop-color="#00fbce"/><stop offset="0.875" stop-color="#00f5eb"/><stop offset="0.917" stop-color="#00f0fd"/><stop offset="0.958" stop-color="#00efff"/><stop offset="1" stop-color="#00f2f5"/></linearGradient><linearGradient id="g118" x1="0" y1="0" x2="0" y2="1"><stop offset="0" stop-color="#00f5e7"/><stop offset="0.042" stop-color="#00fbd1"/><stop offset="0.083" stop-color="#00ffae"/><stop offset="0.167" stop-color="#00ff56"/><stop offset="0.25" stop-color="#0aff23"/><stop offset="0.375" stop-color="#5fff00"/><stop offset="0.417" stop-color="#6dff00"/><stop offset="0.458" stop-color="#70ff00"/><stop offset="0.5" stop-color="#67ff00"/><stop offset="0.583" stop-color="#37ff10"/><stop offset="0.625" stop-color="#16ff1e"/><stop offset="0.667" stop-color="#00ff34"/><stop offset="0.75" stop-color="#00ff72"/><stop offset="0.833" stop-color="#00fccc"/><stop offset="0.875" stop-color="#00f5e9"/><stop offset="0.917" stop-color="#00f1fa"/><stop offset="0.958" stop-color="#00f0fe"/><stop offset="1" stop-color="#00f3f3"/></linearGradient><linearGradient id="g119" x1="0" y1="0" x2="0" y2="1"><stop offset="0" stop-color="#00f6e3"/><stop offset="0.042" stop-color="#00fbcd"/><stop offset="0.167" stop-color="#0f5"/><stop offset="0.25" stop-color="#0aff24"/><stop offset="0.375" stop-color="#5cff00"/><stop offset="0.417" stop-color="#6aff00"/><stop offset="0.458" stop-color="#6cff00"/><stop offset="0.542" stop-color="#50ff05"/><stop offset="0.625" stop-color="#15ff1f"/><stop offset="0.667" stop-color="#00ff35"/><stop offset="0.75" stop-color="#00ff72"/><stop offset="0.833" stop-color="#00fcca"/><stop offset="0.875" stop-color="#00f6e7"/><stop offset="0.917" stop-color="#00f2f8"/><stop offset="0.958" stop-color="#00f1fb"/><stop offset="1" stop-color="#00f3f0"/></linearGradient><linearGradient id="g120" x1="0" y1="0" x2="0" y2="1"><stop offset="0" stop-color="#00f8dd"/><stop offset="0.042" stop-color="#00fdc8"/><stop offset="0.167" stop-color="#00ff53"/><stop offset="0.25" stop-color="#09ff24"/><stop offset="0.375" stop-color="#58ff01"/><stop offset="0.458" stop-color="#68ff00"/><stop offset="0.542" stop-color="#4cff06"/><stop offset="0.625" stop-color="#12ff20"/><stop offset="0.667" stop-color="#00ff37"/><stop offset="0.75" stop-color="#00ff72"/><stop offset="0.833" stop-color="#00fdc8"/><stop offset="0.917" stop-color="#00f3f4"/><stop offset="0.958" stop-color="#00f2f7"/><stop offset="1" stop-color="#00f4ed"/></linearGradient><linearGradient id="g121" x1="0" y1="0" x2="0" y2="1"><stop offset="0" stop-color="#00f9d7"/><stop offset="0.042" stop-color="#00fec3"/><stop offset="0.167" stop-color="#00ff52"/><stop offset="0.25" stop-color="#09ff24"/><stop offset="0.375" stop-color="#54ff02"/><stop offset="0.417" stop-color="#61ff00"/><stop offset="0.458" stop-color="#63ff00"/><stop offset="0.542" stop-color="#48ff08"/><stop offset="0.625" stop-color="#10ff21"/><stop offset="0.667" stop-color="#00ff38"/><stop offset="0.75" stop-color="#00ff72"/><stop offset="0.833" stop-color="#00fdc5"/><stop offset="0.875" stop-color="#00f7e0"/><stop offset="0.917" stop-color="#00f4f0"/><stop offset="0.958" stop-color="#00f3f3"/><stop offset="1" stop-color="#00f5e9"/></linearGradient><linearGradient id="g122" x1="0" y1="0" x2="0" y2="1"><stop offset="0" stop-color="#00fbd1"/><stop offset="0.042" stop-color="#00ffbe"/><stop offset="0.167" stop-color="#00ff51"/><stop offset="0.25" stop-color="#08ff24"/><stop offset="0.375" stop-color="#51ff04"/><stop offset="0.458" stop-color="#5eff00"/><stop offset="0.542" stop-color="#44ff0a"/><stop offset="0.625" stop-color="#0eff22"/><stop offset="0.667" stop-color="#00ff3a"/><stop offset="0.75" stop-color="#00ff72"/><stop offset="0.833" stop-color="#00fec3"/><stop offset="0.917" stop-color="#00f4ec"/><stop offset="0.958" stop-color="#00f4ef"/><stop offset="1" stop-color="#00f6e5"/></linearGradient><linearGradient id="g123" x1="0" y1="0" x2="0" y2="1"><stop offset="0" stop-color="#00fccd"/><stop offset="0.042" stop-color="#00ffb9"/><stop offset="0.167" stop-color="#00ff4f"/><stop offset="0.25" stop-color="#07ff25"/><stop offset="0.375" stop-color="#4dff06"/><stop offset="0.417" stop-color="#59ff01"/><stop offset="0.5" stop-color="#52ff04"/><stop offset="0.583" stop-color="#28ff16"/><stop offset="0.625" stop-color="#0cff23"/><stop offset="0.667" stop-color="#00ff3b"/><stop offset="0.75" stop-color="#00ff72"/><stop offset="0.833" stop-color="#00fec1"/><stop offset="0.875" stop-color="#00f9da"/><stop offset="0.917" stop-color="#00f5e8"/><stop offset="0.958" stop-color="#00f5eb"/><stop offset="1" stop-color="#00f7e2"/></linearGradient><linearGradient id="g124" x1="0" y1="0" x2="0" y2="1"><stop offset="0" stop-color="#00fcca"/><stop offset="0.042" stop-color="#00ffb6"/><stop offset="0.167" stop-color="#00ff4f"/><stop offset="0.25" stop-color="#07ff25"/><stop offset="0.375" stop-color="#4bff07"/><stop offset="0.458" stop-color="#58ff01"/><stop offset="0.542" stop-color="#3eff0c"/><stop offset="0.625" stop-color="#0bff23"/><stop offset="0.667" stop-color="#00ff3c"/><stop offset="0.75" stop-color="#00ff72"/><stop offset="0.833" stop-color="#00ffc0"/><stop offset="0.917" stop-color="#00f6e7"/><stop offset="0.958" stop-color="#00f5ea"/><stop offset="1" stop-color="#00f7e0"/></linearGradient><linearGradient id="g125" x1="0" y1="0" x2="0" y2="1"><stop offset="0" stop-color="#00fdc8"/><stop offset="0.042" stop-color="#00ffb5"/><stop offset="0.167" stop-color="#00ff4f"/><stop offset="0.25" stop-color="#07ff25"/><stop offset="0.375" stop-color="#4aff07"/><stop offset="0.458" stop-color="#57ff02"/><stop offset="0.542" stop-color="#3dff0d"/><stop offset="0.625" stop-color="#0aff24"/><stop offset="0.708" stop-color="#00ff54"/><stop offset="0.792" stop-color="#00ff9a"/><stop offset="0.833" stop-color="#00ffbf"/><stop offset="0.917" stop-color="#00f6e6"/><stop offset="0.958" stop-color="#00f5e9"/><stop offset="1" stop-color="#00f7e0"/></linearGradient><linearGradient id="g126" x1="0" y1="0" x2="0" y2="1"><stop offset="0" stop-color="#00fdc7"/><stop offset="0.042" stop-color="#00ffb3"/><stop offset="0.167" stop-color="#00ff4e"/><stop offset="0.25" stop-color="#06ff25"/><stop offset="0.375" stop-color="#49ff08"/><stop offset="0.458" stop-color="#55ff02"/><stop offset="0.542" stop-color="#3cff0d"/><stop offset="0.625" stop-color="#09ff24"/><stop offset="0.708" stop-color="#00ff54"/><stop offset="0.792" stop-color="#00ff9a"/><stop offset="0.833" stop-color="#00ffbf"/><stop offset="0.917" stop-color="#00f6e5"/><stop offset="0.958" stop-color="#00f5e8"/><stop offset="1" stop-color="#00f7df"/></linearGradient><linearGradient id="g127" x1="0" y1="0" x2="0" y2="1"><stop offset="0" stop-color="#00fdc5"/><stop offset="0.083" stop-color="#00ff91"/><stop offset="0.167" stop-color="#00ff4e"/><stop offset="0.25" stop-color="#06ff25"/><stop offset="0.375" stop-color="#47ff08"/><stop offset="0.458" stop-color="#53ff03"/><stop offset="0.542" stop-color="#3aff0e"/><stop offset="0.625" stop-color="#08ff24"/><stop offset="0.708" stop-color="#0f5"/><stop offset="0.792" stop-color="#0f9"/><stop offset="0.833" stop-color="#00ffbe"/><stop offset="0.917" stop-color="#00f6e3"/><stop offset="0.958" stop-color="#00f6e6"/><stop offset="1" stop-color="#00f8dd"/></linearGradient><linearGradient id="g128" x1="0" y1="0" x2="0" y2="1"><stop offset="0" stop-color="#00fec2"/><stop offset="0.042" stop-color="#00ffae"/><stop offset="0.167" stop-color="#00ff4e"/><stop offset="0.25" stop-color="#05ff26"/><stop offset="0.375" stop-color="#45ff09"/><stop offset="0.458" stop-color="#51ff04"/><stop offset="0.542" stop-color="#38ff0f"/><stop offset="0.625" stop-color="#07ff25"/><stop offset="0.75" stop-color="#00ff72"/><stop offset="0.833" stop-color="#00ffbd"/><stop offset="0.917" stop-color="#00f7e2"/><stop offset="0.958" stop-color="#00f6e5"/><stop offset="1" stop-color="#00f8dc"/></linearGradient><linearGradient id="g129" x1="0" y1="0" x2="0" y2="1"><stop offset="0" stop-color="#00ffc0"/><stop offset="0.083" stop-color="#00ff8d"/><stop offset="0.167" stop-color="#00ff4d"/><stop offset="0.25" stop-color="#05ff26"/><stop offset="0.375" stop-color="#43ff0a"/><stop offset="0.458" stop-color="#4eff05"/><stop offset="0.542" stop-color="#36ff10"/><stop offset="0.625" stop-color="#06ff25"/><stop offset="0.75" stop-color="#00ff73"/><stop offset="0.833" stop-color="#0fb"/><stop offset="0.875" stop-color="#00fad3"/><stop offset="0.958" stop-color="#00f7e3"/><stop offset="1" stop-color="#00f8da"/></linearGradient><linearGradient id="g130" x1="0" y1="0" x2="0" y2="1"><stop offset="0" stop-color="#0fb"/><stop offset="0.083" stop-color="#00ff8a"/><stop offset="0.167" stop-color="#00ff4c"/><stop offset="0.25" stop-color="#04ff26"/><stop offset="0.375" stop-color="#41ff0b"/><stop offset="0.458" stop-color="#4bff07"/><stop offset="0.542" stop-color="#3f1"/><stop offset="0.625" stop-color="#04ff26"/><stop offset="0.75" stop-color="#00ff73"/><stop offset="0.833" stop-color="#00ffb9"/><stop offset="0.917" stop-color="#00f8dd"/><stop offset="0.958" stop-color="#00f7e0"/><stop offset="1" stop-color="#00f9d8"/></linearGradient><linearGradient id="g131" x1="0" y1="0" x2="0" y2="1"><stop offset="0" stop-color="#00ffb4"/><stop offset="0.083" stop-color="#00ff85"/><stop offset="0.167" stop-color="#00ff4b"/><stop offset="0.25" stop-color="#04ff26"/><stop offset="0.375" stop-color="#3dff0d"/><stop offset="0.458" stop-color="#46ff09"/><stop offset="0.542" stop-color="#2fff13"/><stop offset="0.625" stop-color="#02ff27"/><stop offset="0.75" stop-color="#00ff73"/><stop offset="0.833" stop-color="#00ffb7"/><stop offset="0.917" stop-color="#00f9da"/><stop offset="1" stop-color="#00fad5"/></linearGradient><linearGradient id="g132" x1="0" y1="0" x2="0" y2="1"><stop offset="0" stop-color="#00ffaf"/><stop offset="0.083" stop-color="#00ff82"/><stop offset="0.167" stop-color="#00ff4a"/><stop offset="0.25" stop-color="#03ff27"/><stop offset="0.375" stop-color="#3aff0e"/><stop offset="0.458" stop-color="#43ff0a"/><stop offset="0.542" stop-color="#2cff14"/><stop offset="0.625" stop-color="#00ff28"/><stop offset="0.75" stop-color="#00ff73"/><stop offset="0.833" stop-color="#00ffb5"/><stop offset="0.917" stop-color="#00f9d7"/><stop offset="0.958" stop-color="#00f9da"/><stop offset="1" stop-color="#00fad2"/></linearGradient><linearGradient id="g133" x1="0" y1="0" x2="0" y2="1"><stop offset="0" stop-color="#00ffad"/><stop offset="0.083" stop-color="#00ff81"/><stop offset="0.167" stop-color="#00ff4b"/><stop offset="0.25" stop-color="#02ff27"/><stop offset="0.375" stop-color="#37ff10"/><stop offset="0.458" stop-color="#3fff0c"/><stop offset="0.542" stop-color="#29ff16"/><stop offset="0.625" stop-color="#00ff2b"/><stop offset="0.75" stop-color="#00ff74"/><stop offset="0.833" stop-color="#00ffb5"/><stop offset="0.917" stop-color="#00f9d6"/><stop offset="0.958" stop-color="#00f9d9"/><stop offset="1" stop-color="#00fbd1"/></linearGradient><linearGradient id="g134" x1="0" y1="0" x2="0" y2="1"><stop offset="0" stop-color="#00ffb1"/><stop offset="0.083" stop-color="#00ff86"/><stop offset="0.167" stop-color="#00ff51"/><stop offset="0.25" stop-color="#00ff2d"/><stop offset="0.375" stop-color="#30ff13"/><stop offset="0.458" stop-color="#38ff0f"/><stop offset="0.542" stop-color="#22ff19"/><stop offset="0.625" stop-color="#0f3"/><stop offset="0.75" stop-color="#00ff7c"/><stop offset="0.833" stop-color="#0fb"/><stop offset="0.917" stop-color="#00f8da"/><stop offset="0.958" stop-color="#00f8dd"/><stop offset="1" stop-color="#00fad5"/></linearGradient><linearGradient id="g135" x1="0" y1="0" x2="0" y2="1"><stop offset="0" stop-color="#00ffb3"/><stop offset="0.083" stop-color="#00ff8a"/><stop offset="0.167" stop-color="#00ff56"/><stop offset="0.25" stop-color="#0f3"/><stop offset="0.333" stop-color="#1bff1c"/><stop offset="0.417" stop-color="#30ff13"/><stop offset="0.5" stop-color="#28ff16"/><stop offset="0.583" stop-color="#07ff25"/><stop offset="0.708" stop-color="#00ff69"/><stop offset="0.833" stop-color="#00ffbf"/><stop offset="0.917" stop-color="#00f8dd"/><stop offset="1" stop-color="#00f9d9"/></linearGradient><linearGradient id="g136" x1="0" y1="0" x2="0" y2="1"><stop offset="0" stop-color="#00ffa5"/><stop offset="0.083" stop-color="#00ff7e"/><stop offset="0.167" stop-color="#00ff4e"/><stop offset="0.25" stop-color="#00ff2d"/><stop offset="0.375" stop-color="#2bff15"/><stop offset="0.458" stop-color="#31ff12"/><stop offset="0.542" stop-color="#1dff1b"/><stop offset="0.625" stop-color="#00ff36"/><stop offset="0.75" stop-color="#00ff7b"/><stop offset="0.833" stop-color="#00ffb5"/><stop offset="0.917" stop-color="#00fad4"/><stop offset="1" stop-color="#00fbcf"/></linearGradient><linearGradient id="g137" x1="0" y1="0" x2="0" y2="1"><stop offset="0" stop-color="#00ff98"/><stop offset="0.125" stop-color="#00ff5c"/><stop offset="0.25" stop-color="#00ff28"/><stop offset="0.375" stop-color="#2cff14"/><stop offset="0.458" stop-color="#32ff12"/><stop offset="0.542" stop-color="#1eff1b"/><stop offset="0.625" stop-color="#00ff32"/><stop offset="0.75" stop-color="#00ff73"/><stop offset="0.875" stop-color="#00fec1"/><stop offset="0.958" stop-color="#00fccd"/><stop offset="1" stop-color="#00fdc7"/></linearGradient><linearGradient id="g138" x1="0" y1="0" x2="0" y2="1"><stop offset="0" stop-color="#00ff92"/><stop offset="0.125" stop-color="#00ff59"/><stop offset="0.25" stop-color="#01ff28"/><stop offset="0.375" stop-color="#2aff15"/><stop offset="0.458" stop-color="#30ff13"/><stop offset="0.542" stop-color="#1cff1c"/><stop offset="0.625" stop-color="#0f3"/><stop offset="0.75" stop-color="#00ff72"/><stop offset="0.875" stop-color="#00ffbd"/><stop offset="0.958" stop-color="#00fcc9"/><stop offset="1" stop-color="#00fec3"/></linearGradient><linearGradient id="g139" x1="0" y1="0" x2="0" y2="1"><stop offset="0" stop-color="#00ff8f"/><stop offset="0.167" stop-color="#0f4"/><stop offset="0.25" stop-color="#00ff28"/><stop offset="0.375" stop-color="#28ff16"/><stop offset="0.458" stop-color="#2eff14"/><stop offset="0.542" stop-color="#1aff1c"/><stop offset="0.625" stop-color="#00ff35"/><stop offset="0.75" stop-color="#00ff72"/><stop offset="0.875" stop-color="#0fb"/><stop offset="0.958" stop-color="#00fdc7"/><stop offset="1" stop-color="#00fec1"/></linearGradient><linearGradient id="g140" x1="0" y1="0" x2="0" y2="1"><stop offset="0" stop-color="#00ff8d"/><stop offset="0.208" stop-color="#00ff38"/><stop offset="0.25" stop-color="#00ff28"/><stop offset="0.375" stop-color="#27ff16"/><stop offset="0.458" stop-color="#2cff14"/><stop offset="0.542" stop-color="#19ff1d"/><stop offset="0.583" stop-color="#08ff24"/><stop offset="0.667" stop-color="#00ff4d"/><stop offset="0.75" stop-color="#00ff72"/><stop offset="0.875" stop-color="#00ffba"/><stop offset="0.958" stop-color="#00fdc7"/><stop offset="1" stop-color="#00fec1"/></linearGradient><linearGradient id="g141" x1="0" y1="0" x2="0" y2="1"><stop offset="0" stop-color="#00ff8b"/><stop offset="0.167" stop-color="#00ff43"/><stop offset="0.25" stop-color="#00ff28"/><stop offset="0.375" stop-color="#26ff17"/><stop offset="0.458" stop-color="#2bff15"/><stop offset="0.583" stop-color="#07ff25"/><stop offset="0.708" stop-color="#00ff5e"/><stop offset="0.875" stop-color="#00ffb9"/><stop offset="0.958" stop-color="#00fdc5"/><stop offset="1" stop-color="#00ffbf"/></linearGradient><linearGradient id="g142" x1="0" y1="0" x2="0" y2="1"><stop offset="0" stop-color="#0f8"/><stop offset="0.208" stop-color="#00ff38"/><stop offset="0.25" stop-color="#00ff29"/><stop offset="0.375" stop-color="#25ff18"/><stop offset="0.458" stop-color="#29ff16"/><stop offset="0.583" stop-color="#06ff25"/><stop offset="0.792" stop-color="#00ff8c"/><stop offset="0.875" stop-color="#00ffb8"/><stop offset="0.958" stop-color="#00fec4"/><stop offset="1" stop-color="#00ffbe"/></linearGradient><linearGradient id="g143" x1="0" y1="0" x2="0" y2="1"><stop offset="0" stop-color="#00ff86"/><stop offset="0.167" stop-color="#00ff42"/><stop offset="0.25" stop-color="#00ff29"/><stop offset="0.417" stop-color="#28ff16"/><stop offset="0.5" stop-color="#20ff1a"/><stop offset="0.583" stop-color="#05ff26"/><stop offset="0.792" stop-color="#00ff8c"/><stop offset="0.875" stop-color="#00ffb6"/><stop offset="0.958" stop-color="#00fec2"/><stop offset="1" stop-color="#00ffbc"/></linearGradient><linearGradient id="g144" x1="0" y1="0" x2="0" y2="1"><stop offset="0" stop-color="#00ff83"/><stop offset="0.208" stop-color="#00ff37"/><stop offset="0.25" stop-color="#00ff2a"/><stop offset="0.417" stop-color="#26ff17"/><stop offset="0.5" stop-color="#1eff1a"/><stop offset="0.583" stop-color="#03ff27"/><stop offset="0.792" stop-color="#00ff8b"/><stop offset="0.875" stop-color="#00ffb5"/><stop offset="0.958" stop-color="#00fec1"/><stop offset="1" stop-color="#0fb"/></linearGradient><linearGradient id="g145" x1="0" y1="0" x2="0" y2="1"><stop offset="0" stop-color="#00ff80"/><stop offset="0.25" stop-color="#00ff2a"/><stop offset="0.417" stop-color="#24ff18"/><stop offset="0.5" stop-color="#1cff1b"/><stop offset="0.583" stop-color="#02ff27"/><stop offset="0.792" stop-color="#00ff8b"/><stop offset="0.875" stop-color="#00ffb3"/><stop offset="0.958" stop-color="#00ffbf"/><stop offset="1" stop-color="#00ffb9"/></linearGradient><linearGradient id="g146" x1="0" y1="0" x2="0" y2="1"><stop offset="0" stop-color="#00ff7d"/><stop offset="0.208" stop-color="#00ff37"/><stop offset="0.292" stop-color="#0aff23"/><stop offset="0.417" stop-color="#22ff19"/><stop offset="0.5" stop-color="#1bff1c"/><stop offset="0.583" stop-color="#01ff28"/><stop offset="0.875" stop-color="#00ffb2"/><stop offset="0.958" stop-color="#00ffbe"/><stop offset="1" stop-color="#00ffb8"/></linearGradient><linearGradient id="g147" x1="0" y1="0" x2="0" y2="1"><stop offset="0" stop-color="#00ff7c"/><stop offset="0.25" stop-color="#00ff2b"/><stop offset="0.417" stop-color="#21ff19"/><stop offset="0.5" stop-color="#19ff1d"/><stop offset="0.583" stop-color="#00ff29"/><stop offset="0.792" stop-color="#00ff8a"/><stop offset="0.875" stop-color="#00ffb1"/><stop offset="0.958" stop-color="#00ffbd"/><stop offset="1" stop-color="#00ffb7"/></linearGradient><linearGradient id="g148" x1="0" y1="0" x2="0" y2="1"><stop offset="0" stop-color="#00ff7b"/><stop offset="0.25" stop-color="#00ff2b"/><stop offset="0.417" stop-color="#20ff1a"/><stop offset="0.542" stop-color="#0eff22"/><stop offset="0.583" stop-color="#00ff29"/><stop offset="0.792" stop-color="#00ff8a"/><stop offset="0.875" stop-color="#00ffb1"/><stop offset="0.958" stop-color="#00ffbd"/><stop offset="1" stop-color="#00ffb6"/></linearGradient><linearGradient id="g149" x1="0" y1="0" x2="0" y2="1"><stop offset="0" stop-color="#00ff7b"/><stop offset="0.208" stop-color="#00ff38"/><stop offset="0.292" stop-color="#09ff24"/><stop offset="0.417" stop-color="#20ff1a"/><stop offset="0.5" stop-color="#18ff1d"/><stop offset="0.583" stop-color="#00ff2a"/><stop offset="0.875" stop-color="#00ffb0"/><stop offset="0.958" stop-color="#00ffbc"/><stop offset="1" stop-color="#00ffb6"/></linearGradient><linearGradient id="g150" x1="0" y1="0" x2="0" y2="1"><stop offset="0" stop-color="#00ff7a"/><stop offset="0.25" stop-color="#00ff2c"/><stop offset="0.417" stop-color="#1fff1a"/><stop offset="0.5" stop-color="#17ff1e"/><stop offset="0.583" stop-color="#00ff2b"/><stop offset="0.875" stop-color="#00ffb0"/><stop offset="0.958" stop-color="#00ffbc"/><stop offset="1" stop-color="#00ffb6"/></linearGradient><linearGradient id="g151" x1="0" y1="0" x2="0" y2="1"><stop offset="0" stop-color="#00ff7a"/><stop offset="0.25" stop-color="#00ff2c"/><stop offset="0.417" stop-color="#1eff1a"/><stop offset="0.542" stop-color="#0cff23"/><stop offset="0.583" stop-color="#00ff2b"/><stop offset="0.875" stop-color="#00ffb0"/><stop offset="0.958" stop-color="#00ffbc"/><stop offset="1" stop-color="#00ffb6"/></linearGradient><linearGradient id="g152" x1="0" y1="0" x2="0" y2="1"><stop offset="0" stop-color="#00ff79"/><stop offset="0.208" stop-color="#00ff38"/><stop offset="0.292" stop-color="#08ff25"/><stop offset="0.417" stop-color="#1eff1b"/><stop offset="0.542" stop-color="#0bff23"/><stop offset="0.583" stop-color="#00ff2c"/><stop offset="0.875" stop-color="#00ffb0"/><stop offset="0.958" stop-color="#0fb"/><stop offset="1" stop-color="#00ffb5"/></linearGradient><linearGradient id="g153" x1="0" y1="0" x2="0" y2="1"><stop offset="0" stop-color="#00ff78"/><stop offset="0.25" stop-color="#00ff2d"/><stop offset="0.417" stop-color="#1dff1b"/><stop offset="0.5" stop-color="#15ff1f"/><stop offset="0.583" stop-color="#00ff2d"/><stop offset="0.875" stop-color="#00ffaf"/><stop offset="0.958" stop-color="#0fb"/><stop offset="1" stop-color="#00ffb5"/></linearGradient><linearGradient id="g154" x1="0" y1="0" x2="0" y2="1"><stop offset="0" stop-color="#0f7"/><stop offset="0.25" stop-color="#00ff2d"/><stop offset="0.417" stop-color="#1cff1c"/><stop offset="0.542" stop-color="#0aff24"/><stop offset="0.625" stop-color="#00ff42"/><stop offset="0.875" stop-color="#00ffaf"/><stop offset="0.958" stop-color="#00ffba"/><stop offset="1" stop-color="#00ffb4"/></linearGradient><linearGradient id="g155" x1="0" y1="0" x2="0" y2="1"><stop offset="0" stop-color="#00ff76"/><stop offset="0.25" stop-color="#00ff2e"/><stop offset="0.417" stop-color="#1bff1c"/><stop offset="0.542" stop-color="#09ff24"/><stop offset="0.625" stop-color="#00ff43"/><stop offset="0.792" stop-color="#00ff8b"/><stop offset="0.917" stop-color="#00ffb8"/><stop offset="1" stop-color="#00ffb4"/></linearGradient><linearGradient id="g156" x1="0" y1="0" x2="0" y2="1"><stop offset="0" stop-color="#00ff76"/><stop offset="0.25" stop-color="#00ff2e"/><stop offset="0.417" stop-color="#1aff1d"/><stop offset="0.542" stop-color="#08ff25"/><stop offset="0.625" stop-color="#0f4"/><stop offset="0.875" stop-color="#00ffaf"/><stop offset="0.958" stop-color="#00ffba"/><stop offset="1" stop-color="#00ffb4"/></linearGradient><linearGradient id="g157" x1="0" y1="0" x2="0" y2="1"><stop offset="0" stop-color="#00ff7c"/><stop offset="0.292" stop-color="#00ff28"/><stop offset="0.417" stop-color="#14ff1f"/><stop offset="0.542" stop-color="#02ff27"/><stop offset="0.875" stop-color="#00ffb6"/><stop offset="0.958" stop-color="#00fec0"/><stop offset="1" stop-color="#0fb"/></linearGradient><linearGradient id="g158" x1="0" y1="0" x2="0" y2="1"><stop offset="0" stop-color="#00ff83"/><stop offset="0.292" stop-color="#00ff2f"/><stop offset="0.417" stop-color="#0eff22"/><stop offset="0.542" stop-color="#00ff2d"/><stop offset="0.875" stop-color="#00ffbd"/><stop offset="0.958" stop-color="#00fdc6"/><stop offset="1" stop-color="#00fec1"/></linearGradient><linearGradient id="g159" x1="0" y1="0" x2="0" y2="1"><stop offset="0" stop-color="#0f7"/><stop offset="0.292" stop-color="#02ff27"/><stop offset="0.417" stop-color="#14ff1f"/><stop offset="0.542" stop-color="#02ff27"/><stop offset="0.875" stop-color="#00ffb1"/><stop offset="0.958" stop-color="#00ffbc"/><stop offset="1" stop-color="#00ffb6"/></linearGradient><linearGradient id="g160" x1="0" y1="0" x2="0" y2="1"><stop offset="0" stop-color="#00ff71"/><stop offset="0.25" stop-color="#00ff2f"/><stop offset="0.417" stop-color="#17ff1e"/><stop offset="0.542" stop-color="#05ff26"/><stop offset="0.875" stop-color="#00ffac"/><stop offset="0.958" stop-color="#00ffb7"/><stop offset="1" stop-color="#00ffb1"/></linearGradient><linearGradient id="g161" x1="0" y1="0" x2="0" y2="1"><stop offset="0" stop-color="#00ff70"/><stop offset="0.292" stop-color="#04ff26"/><stop offset="0.417" stop-color="#16ff1e"/><stop offset="0.542" stop-color="#04ff26"/><stop offset="0.875" stop-color="#00ffac"/><stop offset="0.958" stop-color="#00ffb6"/><stop offset="1" stop-color="#00ffb0"/></linearGradient><linearGradient id="g162" x1="0" y1="0" x2="0" y2="1"><stop offset="0" stop-color="#00ff6f"/><stop offset="0.292" stop-color="#03ff26"/><stop offset="0.417" stop-color="#15ff1f"/><stop offset="0.542" stop-color="#03ff27"/><stop offset="0.792" stop-color="#00ff8a"/><stop offset="0.917" stop-color="#00ffb4"/><stop offset="1" stop-color="#00ffb0"/></linearGradient><linearGradient id="g163" x1="0" y1="0" x2="0" y2="1"><stop offset="0" stop-color="#00ff6e"/><stop offset="0.292" stop-color="#03ff27"/><stop offset="0.417" stop-color="#14ff1f"/><stop offset="0.542" stop-color="#03ff27"/><stop offset="0.875" stop-color="#00ffab"/><stop offset="0.958" stop-color="#00ffb5"/><stop offset="1" stop-color="#00ffaf"/></linearGradient><linearGradient id="g164" x1="0" y1="0" x2="0" y2="1"><stop offset="0" stop-color="#00ff6e"/><stop offset="0.292" stop-color="#03ff27"/><stop offset="0.417" stop-color="#14ff1f"/><stop offset="0.542" stop-color="#02ff27"/><stop offset="0.875" stop-color="#0fa"/><stop offset="0.958" stop-color="#00ffb4"/><stop offset="1" stop-color="#00ffaf"/></linearGradient><linearGradient id="g165" x1="0" y1="0" x2="0" y2="1"><stop offset="0" stop-color="#00ff6d"/><stop offset="0.292" stop-color="#02ff27"/><stop offset="0.417" stop-color="#13ff20"/><stop offset="0.542" stop-color="#01ff27"/><stop offset="0.875" stop-color="#0fa"/><stop offset="0.958" stop-color="#00ffb4"/><stop offset="1" stop-color="#00ffae"/></linearGradient><linearGradient id="g166" x1="0" y1="0" x2="0" y2="1"><stop offset="0" stop-color="#00ff6c"/><stop offset="0.292" stop-color="#02ff27"/><stop offset="0.417" stop-color="#12ff20"/><stop offset="0.542" stop-color="#01ff28"/><stop offset="0.875" stop-color="#00ffa9"/><stop offset="0.958" stop-color="#00ffb3"/><stop offset="1" stop-color="#00ffae"/></linearGradient><linearGradient id="g167" x1="0" y1="0" x2="0" y2="1"><stop offset="0" stop-color="#00ff6c"/><stop offset="0.292" stop-color="#02ff27"/><stop offset="0.417" stop-color="#12ff20"/><stop offset="0.542" stop-color="#00ff28"/><stop offset="0.875" stop-color="#00ffa9"/><stop offset="0.958" stop-color="#00ffb3"/><stop offset="1" stop-color="#00ffae"/></linearGradient><linearGradient id="g168" x1="0" y1="0" x2="0" y2="1"><stop offset="0" stop-color="#00ff6b"/><stop offset="0.292" stop-color="#02ff27"/><stop offset="0.417" stop-color="#11ff20"/><stop offset="0.542" stop-color="#00ff28"/><stop offset="0.875" stop-color="#00ffa9"/><stop offset="0.958" stop-color="#00ffb3"/><stop offset="1" stop-color="#00ffad"/></linearGradient><linearGradient id="g169" x1="0" y1="0" x2="0" y2="1"><stop offset="0" stop-color="#00ff6b"/><stop offset="0.292" stop-color="#02ff27"/><stop offset="0.417" stop-color="#11ff20"/><stop offset="0.542" stop-color="#00ff28"/><stop offset="0.875" stop-color="#00ffa9"/><stop offset="0.958" stop-color="#00ffb2"/><stop offset="1" stop-color="#00ffad"/></linearGradient><linearGradient id="g170" x1="0" y1="0" x2="0" y2="1"><stop offset="0" stop-color="#00ff6b"/><stop offset="0.292" stop-color="#01ff27"/><stop offset="0.417" stop-color="#11ff21"/><stop offset="0.542" stop-color="#00ff29"/><stop offset="0.875" stop-color="#00ffa9"/><stop offset="0.958" stop-color="#00ffb2"/><stop offset="1" stop-color="#00ffad"/></linearGradient><linearGradient id="g171" x1="0" y1="0" x2="0" y2="1"><stop offset="0" stop-color="#00ff6a"/><stop offset="0.292" stop-color="#01ff27"/><stop offset="0.417" stop-color="#11ff21"/><stop offset="0.542" stop-color="#00ff29"/><stop offset="0.875" stop-color="#00ffa8"/><stop offset="0.958" stop-color="#00ffb2"/><stop offset="1" stop-color="#00ffad"/></linearGradient><linearGradient id="g172" x1="0" y1="0" x2="0" y2="1"><stop offset="0" stop-color="#00ff6a"/><stop offset="0.292" stop-color="#01ff28"/><stop offset="0.417" stop-color="#10ff21"/><stop offset="0.542" stop-color="#00ff29"/><stop offset="0.875" stop-color="#00ffa8"/><stop offset="0.958" stop-color="#00ffb2"/><stop offset="1" stop-color="#00ffad"/></linearGradient><linearGradient id="g173" x1="0" y1="0" x2="0" y2="1"><stop offset="0" stop-color="#00ff6a"/><stop offset="0.292" stop-color="#01ff28"/><stop offset="0.417" stop-color="#10ff21"/><stop offset="0.542" stop-color="#00ff2a"/><stop offset="0.875" stop-color="#00ffa8"/><stop offset="0.958" stop-color="#00ffb1"/><stop offset="1" stop-color="#00ffac"/></linearGradient><linearGradient id="g174" x1="0" y1="0" x2="0" y2="1"><stop offset="0" stop-color="#00ff69"/><stop offset="0.292" stop-color="#01ff28"/><stop offset="0.417" stop-color="#0fff21"/><stop offset="0.542" stop-color="#00ff2a"/><stop offset="0.875" stop-color="#00ffa8"/><stop offset="0.958" stop-color="#00ffb1"/><stop offset="1" stop-color="#00ffac"/></linearGradient><linearGradient id="g175" x1="0" y1="0" x2="0" y2="1"><stop offset="0" stop-color="#00ff69"/><stop offset="0.292" stop-color="#01ff28"/><stop offset="0.417" stop-color="#0fff21"/><stop offset="0.542" stop-color="#00ff2b"/><stop offset="0.875" stop-color="#00ffa7"/><stop offset="0.958" stop-color="#00ffb1"/><stop offset="1" stop-color="#00ffac"/></linearGradient><linearGradient id="g176" x1="0" y1="0" x2="0" y2="1"><stop offset="0" stop-color="#00ff68"/><stop offset="0.292" stop-color="#00ff28"/><stop offset="0.417" stop-color="#0fff22"/><stop offset="0.542" stop-color="#00ff2b"/><stop offset="0.875" stop-color="#00ffa7"/><stop offset="0.958" stop-color="#00ffb0"/><stop offset="1" stop-color="#00ffab"/></linearGradient><linearGradient id="g177" x1="0" y1="0" x2="0" y2="1"><stop offset="0" stop-color="#00ff67"/><stop offset="0.292" stop-color="#00ff28"/><stop offset="0.417" stop-color="#0eff22"/><stop offset="0.542" stop-color="#00ff2c"/><stop offset="0.875" stop-color="#00ffa6"/><stop offset="0.958" stop-color="#00ffb0"/><stop offset="1" stop-color="#00ffab"/></linearGradient><linearGradient id="g178" x1="0" y1="0" x2="0" y2="1"><stop offset="0" stop-color="#0f6"/><stop offset="0.292" stop-color="#01ff28"/><stop offset="0.417" stop-color="#0eff22"/><stop offset="0.542" stop-color="#00ff2b"/><stop offset="0.875" stop-color="#00ffa5"/><stop offset="0.958" stop-color="#00ffae"/><stop offset="1" stop-color="#00ffa9"/></linearGradient><linearGradient id="g179" x1="0" y1="0" x2="0" y2="1"><stop offset="0" stop-color="#00ff62"/><stop offset="0.292" stop-color="#03ff26"/><stop offset="0.417" stop-color="#11ff20"/><stop offset="0.542" stop-color="#00ff28"/><stop offset="0.875" stop-color="#00ffa0"/><stop offset="0.958" stop-color="#00ffa9"/><stop offset="1" stop-color="#00ffa5"/></linearGradient><linearGradient id="g180" x1="0" y1="0" x2="0" y2="1"><stop offset="0" stop-color="#00ff5a"/><stop offset="0.25" stop-color="#01ff28"/><stop offset="0.417" stop-color="#16ff1e"/><stop offset="0.542" stop-color="#05ff26"/><stop offset="0.875" stop-color="#00ff98"/><stop offset="0.958" stop-color="#00ffa1"/><stop offset="1" stop-color="#00ff9c"/></linearGradient><linearGradient id="g181" x1="0" y1="0" x2="0" y2="1"><stop offset="0" stop-color="#00ff58"/><stop offset="0.208" stop-color="#00ff2c"/><stop offset="0.417" stop-color="#17ff1e"/><stop offset="0.542" stop-color="#06ff25"/><stop offset="0.792" stop-color="#00ff79"/><stop offset="0.917" stop-color="#00ff9d"/><stop offset="1" stop-color="#00ff9a"/></linearGradient><linearGradient id="g182" x1="0" y1="0" x2="0" y2="1"><stop offset="0" stop-color="#00ff5d"/><stop offset="0.25" stop-color="#00ff2b"/><stop offset="0.417" stop-color="#12ff20"/><stop offset="0.542" stop-color="#01ff28"/><stop offset="0.875" stop-color="#00ff9c"/><stop offset="0.958" stop-color="#00ffa5"/><stop offset="1" stop-color="#00ffa0"/></linearGradient><linearGradient id="g183" x1="0" y1="0" x2="0" y2="1"><stop offset="0" stop-color="#00ff62"/><stop offset="0.292" stop-color="#01ff28"/><stop offset="0.417" stop-color="#0dff22"/><stop offset="0.542" stop-color="#00ff2d"/><stop offset="0.875" stop-color="#00ffa2"/><stop offset="0.958" stop-color="#00ffab"/><stop offset="1" stop-color="#00ffa6"/></linearGradient><linearGradient id="g184" x1="0" y1="0" x2="0" y2="1"><stop offset="0" stop-color="#00ff63"/><stop offset="0.292" stop-color="#00ff29"/><stop offset="0.417" stop-color="#0bff23"/><stop offset="0.542" stop-color="#00ff2f"/><stop offset="0.875" stop-color="#00ffa4"/><stop offset="0.958" stop-color="#00ffad"/><stop offset="1" stop-color="#00ffa8"/></linearGradient><linearGradient id="g185" x1="0" y1="0" x2="0" y2="1"><stop offset="0" stop-color="#00ff63"/><stop offset="0.292" stop-color="#00ff2a"/><stop offset="0.458" stop-color="#08ff24"/><stop offset="0.542" stop-color="#00ff30"/><stop offset="0.875" stop-color="#00ffa4"/><stop offset="0.958" stop-color="#00ffad"/><stop offset="1" stop-color="#00ffa8"/></linearGradient><linearGradient id="g186" x1="0" y1="0" x2="0" y2="1"><stop offset="0" stop-color="#00ff63"/><stop offset="0.292" stop-color="#00ff2a"/><stop offset="0.458" stop-color="#08ff24"/><stop offset="0.542" stop-color="#00ff30"/><stop offset="0.875" stop-color="#00ffa4"/><stop offset="0.958" stop-color="#00ffac"/><stop offset="1" stop-color="#00ffa8"/></linearGradient><linearGradient id="g187" x1="0" y1="0" x2="0" y2="1"><stop offset="0" stop-color="#00ff62"/><stop offset="0.333" stop-color="#04ff26"/><stop offset="0.458" stop-color="#08ff25"/><stop offset="0.542" stop-color="#00ff31"/><stop offset="0.875" stop-color="#00ffa4"/><stop offset="0.958" stop-color="#00ffac"/><stop offset="1" stop-color="#00ffa8"/></linearGradient><linearGradient id="g188" x1="0" y1="0" x2="0" y2="1"><stop offset="0" stop-color="#00ff62"/><stop offset="0.333" stop-color="#04ff26"/><stop offset="0.458" stop-color="#07ff25"/><stop offset="0.542" stop-color="#00ff31"/><stop offset="0.875" stop-color="#00ffa3"/><stop offset="0.958" stop-color="#00ffac"/><stop offset="1" stop-color="#00ffa7"/></linearGradient><linearGradient id="g189" x1="0" y1="0" x2="0" y2="1"><stop offset="0" stop-color="#00ff62"/><stop offset="0.333" stop-color="#04ff26"/><stop offset="0.458" stop-color="#07ff25"/><stop offset="0.542" stop-color="#00ff32"/><stop offset="0.875" stop-color="#00ffa3"/><stop offset="0.958" stop-color="#00ffac"/><stop offset="1" stop-color="#00ffa7"/></linearGradient><linearGradient id="g190" x1="0" y1="0" x2="0" y2="1"><stop offset="0" stop-color="#00ff62"/><stop offset="0.333" stop-color="#04ff26"/><stop offset="0.458" stop-color="#07ff25"/><stop offset="0.542" stop-color="#00ff32"/><stop offset="0.875" stop-color="#00ffa3"/><stop offset="0.958" stop-color="#00ffac"/><stop offset="1" stop-color="#00ffa7"/></linearGradient><linearGradient id="g191" x1="0" y1="0" x2="0" y2="1"><stop offset="0" stop-color="#00ff63"/><stop offset="0.292" stop-color="#00ff2b"/><stop offset="0.458" stop-color="#07ff25"/><stop offset="0.542" stop-color="#00ff31"/><stop offset="0.875" stop-color="#00ffa4"/><stop offset="0.958" stop-color="#00ffac"/><stop offset="1" stop-color="#00ffa8"/></linearGradient><linearGradient id="g192" x1="0" y1="0" x2="0" y2="1"><stop offset="0" stop-color="#00ff63"/><stop offset="0.333" stop-color="#04ff26"/><stop offset="0.458" stop-color="#07ff25"/><stop offset="0.542" stop-color="#00ff31"/><stop offset="0.875" stop-color="#00ffa4"/><stop offset="0.958" stop-color="#00ffac"/><stop offset="1" stop-color="#00ffa8"/></linearGradient><linearGradient id="g193" x1="0" y1="0" x2="0" y2="1"><stop offset="0" stop-color="#00ff63"/><stop offset="0.333" stop-color="#04ff26"/><stop offset="0.458" stop-color="#07ff25"/><stop offset="0.542" stop-color="#00ff31"/><stop offset="0.875" stop-color="#00ffa4"/><stop offset="0.958" stop-color="#00ffad"/><stop offset="1" stop-color="#00ffa8"/></linearGradient><linearGradient id="g194" x1="0" y1="0" x2="0" y2="1"><stop offset="0" stop-color="#00ff64"/><stop offset="0.333" stop-color="#04ff26"/><stop offset="0.458" stop-color="#08ff25"/><stop offset="0.542" stop-color="#00ff31"/><stop offset="0.875" stop-color="#00ffa5"/><stop offset="0.958" stop-color="#00ffad"/><stop offset="1" stop-color="#00ffa9"/></linearGradient><linearGradient id="g195" x1="0" y1="0" x2="0" y2="1"><stop offset="0" stop-color="#00ff64"/><stop offset="0.333" stop-color="#04ff26"/><stop offset="0.458" stop-color="#07ff25"/><stop offset="0.542" stop-color="#00ff31"/><stop offset="0.875" stop-color="#00ffa5"/><stop offset="0.958" stop-color="#00ffae"/><stop offset="1" stop-color="#00ffa9"/></linearGradient><linearGradient id="g196" x1="0" y1="0" x2="0" y2="1"><stop offset="0" stop-color="#00ff69"/><stop offset="0.333" stop-color="#01ff28"/><stop offset="0.458" stop-color="#05ff26"/><stop offset="0.542" stop-color="#00ff35"/><stop offset="0.875" stop-color="#0fa"/><stop offset="0.958" stop-color="#00ffb3"/><stop offset="1" stop-color="#00ffae"/></linearGradient><linearGradient id="g197" x1="0" y1="0" x2="0" y2="1"><stop offset="0" stop-color="#00ff72"/><stop offset="0.375" stop-color="#00ff2a"/><stop offset="0.458" stop-color="#00ff2a"/><stop offset="0.583" stop-color="#00ff4c"/><stop offset="0.875" stop-color="#00ffb4"/><stop offset="0.958" stop-color="#00ffbd"/><stop offset="1" stop-color="#00ffb8"/></linearGradient><linearGradient id="g198" x1="0" y1="0" x2="0" y2="1"><stop offset="0" stop-color="#00ff71"/><stop offset="0.375" stop-color="#00ff28"/><stop offset="0.458" stop-color="#00ff28"/><stop offset="0.583" stop-color="#00ff4a"/><stop offset="0.875" stop-color="#00ffb2"/><stop offset="0.958" stop-color="#0fb"/><stop offset="1" stop-color="#00ffb6"/></linearGradient><linearGradient id="g199" x1="0" y1="0" x2="0" y2="1"><stop offset="0" stop-color="#00ff68"/><stop offset="0.333" stop-color="#02ff27"/><stop offset="0.458" stop-color="#06ff25"/><stop offset="0.542" stop-color="#0f3"/><stop offset="0.875" stop-color="#00ffa9"/><stop offset="0.958" stop-color="#00ffb2"/><stop offset="1" stop-color="#00ffad"/></linearGradient><linearGradient id="g200" x1="0" y1="0" x2="0" y2="1"><stop offset="0" stop-color="#0f6"/><stop offset="0.333" stop-color="#04ff26"/><stop offset="0.458" stop-color="#08ff24"/><stop offset="0.542" stop-color="#00ff30"/><stop offset="0.875" stop-color="#00ffa7"/><stop offset="0.958" stop-color="#00ffb0"/><stop offset="1" stop-color="#00ffab"/></linearGradient><linearGradient id="g201" x1="0" y1="0" x2="0" y2="1"><stop offset="0" stop-color="#00ff67"/><stop offset="0.292" stop-color="#00ff2b"/><stop offset="0.458" stop-color="#09ff24"/><stop offset="0.542" stop-color="#00ff30"/><stop offset="0.875" stop-color="#00ffa7"/><stop offset="0.958" stop-color="#00ffb0"/><stop offset="1" stop-color="#00ffab"/></linearGradient><linearGradient id="g202" x1="0" y1="0" x2="0" y2="1"><stop offset="0" stop-color="#00ff67"/><stop offset="0.292" stop-color="#00ff2b"/><stop offset="0.458" stop-color="#09ff24"/><stop offset="0.542" stop-color="#00ff30"/><stop offset="0.875" stop-color="#00ffa7"/><stop offset="0.958" stop-color="#00ffb0"/><stop offset="1" stop-color="#00ffac"/></linearGradient><linearGradient id="g203" x1="0" y1="0" x2="0" y2="1"><stop offset="0" stop-color="#00ff68"/><stop offset="0.333" stop-color="#05ff26"/><stop offset="0.458" stop-color="#09ff24"/><stop offset="0.542" stop-color="#00ff30"/><stop offset="0.875" stop-color="#00ffa8"/><stop offset="0.958" stop-color="#00ffb1"/><stop offset="1" stop-color="#00ffac"/></linearGradient><linearGradient id="g204" x1="0" y1="0" x2="0" y2="1"><stop offset="0" stop-color="#00ff68"/><stop offset="0.333" stop-color="#05ff26"/><stop offset="0.458" stop-color="#09ff24"/><stop offset="0.542" stop-color="#00ff30"/><stop offset="0.875" stop-color="#00ffa8"/><stop offset="0.958" stop-color="#00ffb1"/><stop offset="1" stop-color="#00ffac"/></linearGradient><linearGradient id="g205" x1="0" y1="0" x2="0" y2="1"><stop offset="0" stop-color="#00ff68"/><stop offset="0.333" stop-color="#05ff26"/><stop offset="0.458" stop-color="#09ff24"/><stop offset="0.542" stop-color="#00ff30"/><stop offset="0.875" stop-color="#00ffa8"/><stop offset="0.958" stop-color="#00ffb1"/><stop offset="1" stop-color="#00ffad"/></linearGradient><linearGradient id="g206" x1="0" y1="0" x2="0" y2="1"><stop offset="0" stop-color="#00ff69"/><stop offset="0.292" stop-color="#00ff2b"/><stop offset="0.417" stop-color="#0bff23"/><stop offset="0.542" stop-color="#00ff2f"/><stop offset="0.875" stop-color="#00ffa9"/><stop offset="0.958" stop-color="#00ffb2"/><stop offset="1" stop-color="#00ffad"/></linearGradient><linearGradient id="g207" x1="0" y1="0" x2="0" y2="1"><stop offset="0" stop-color="#00ff69"/><stop offset="0.292" stop-color="#00ff2b"/><stop offset="0.417" stop-color="#0bff23"/><stop offset="0.542" stop-color="#00ff2f"/><stop offset="0.875" stop-color="#00ffa9"/><stop offset="0.958" stop-color="#00ffb2"/><stop offset="1" stop-color="#00ffad"/></linearGradient><linearGradient id="g208" x1="0" y1="0" x2="0" y2="1"><stop offset="0" stop-color="#00ff6a"/><stop offset="0.333" stop-color="#05ff26"/><stop offset="0.458" stop-color="#0aff24"/><stop offset="0.542" stop-color="#00ff2f"/><stop offset="0.875" stop-color="#00ffa9"/><stop offset="0.958" stop-color="#00ffb3"/><stop offset="1" stop-color="#00ffae"/></linearGradient><linearGradient id="g209" x1="0" y1="0" x2="0" y2="1"><stop offset="0" stop-color="#00ff6d"/><stop offset="0.292" stop-color="#00ff2a"/><stop offset="0.417" stop-color="#0eff22"/><stop offset="0.542" stop-color="#00ff2d"/><stop offset="0.875" stop-color="#00ffac"/><stop offset="0.958" stop-color="#00ffb6"/><stop offset="1" stop-color="#00ffb1"/></linearGradient><linearGradient id="g210" x1="0" y1="0" x2="0" y2="1"><stop offset="0" stop-color="#00ff7d"/><stop offset="0.333" stop-color="#01ff27"/><stop offset="0.458" stop-color="#08ff24"/><stop offset="0.542" stop-color="#00ff32"/><stop offset="0.875" stop-color="#00ffb9"/><stop offset="0.958" stop-color="#00fec2"/><stop offset="1" stop-color="#00ffbe"/></linearGradient><linearGradient id="g211" x1="0" y1="0" x2="0" y2="1"><stop offset="0" stop-color="#00ff98"/><stop offset="0.208" stop-color="#00ff5a"/><stop offset="0.375" stop-color="#00ff2d"/><stop offset="0.458" stop-color="#00ff2c"/><stop offset="0.583" stop-color="#00ff52"/><stop offset="0.833" stop-color="#00fec2"/><stop offset="0.917" stop-color="#00fad6"/><stop offset="1" stop-color="#00fad3"/></linearGradient><linearGradient id="g212" x1="0" y1="0" x2="0" y2="1"><stop offset="0" stop-color="#00ff84"/><stop offset="0.208" stop-color="#0f4"/><stop offset="0.292" stop-color="#00ff2a"/><stop offset="0.417" stop-color="#14ff1f"/><stop offset="0.542" stop-color="#01ff27"/><stop offset="0.875" stop-color="#00ffbc"/><stop offset="0.958" stop-color="#00fdc5"/><stop offset="1" stop-color="#00fec1"/></linearGradient><linearGradient id="g213" x1="0" y1="0" x2="0" y2="1"><stop offset="0" stop-color="#00ff84"/><stop offset="0.208" stop-color="#00ff40"/><stop offset="0.292" stop-color="#03ff27"/><stop offset="0.417" stop-color="#1aff1d"/><stop offset="0.5" stop-color="#12ff20"/><stop offset="0.583" stop-color="#00ff32"/><stop offset="0.875" stop-color="#00ffba"/><stop offset="0.958" stop-color="#00fec4"/><stop offset="1" stop-color="#00ffbf"/></linearGradient><linearGradient id="g214" x1="0" y1="0" x2="0" y2="1"><stop offset="0" stop-color="#00ffa2"/><stop offset="0.125" stop-color="#00ff72"/><stop offset="0.333" stop-color="#00ff2c"/><stop offset="0.458" stop-color="#09ff24"/><stop offset="0.542" stop-color="#00ff34"/><stop offset="0.833" stop-color="#00fec4"/><stop offset="0.917" stop-color="#00f8da"/><stop offset="1" stop-color="#00f9d7"/></linearGradient><linearGradient id="g215" x1="0" y1="0" x2="0" y2="1"><stop offset="0" stop-color="#0f9"/><stop offset="0.208" stop-color="#00ff50"/><stop offset="0.333" stop-color="#02ff27"/><stop offset="0.458" stop-color="#0eff22"/><stop offset="0.542" stop-color="#00ff2d"/><stop offset="0.833" stop-color="#00ffbd"/><stop offset="0.917" stop-color="#00fad3"/><stop offset="1" stop-color="#00fbd0"/></linearGradient><linearGradient id="g216" x1="0" y1="0" x2="0" y2="1"><stop offset="0" stop-color="#00ff87"/><stop offset="0.208" stop-color="#00ff41"/><stop offset="0.292" stop-color="#02ff27"/><stop offset="0.417" stop-color="#1aff1c"/><stop offset="0.5" stop-color="#12ff20"/><stop offset="0.583" stop-color="#00ff32"/><stop offset="0.875" stop-color="#00ffbc"/><stop offset="0.958" stop-color="#00fdc6"/><stop offset="1" stop-color="#00fec1"/></linearGradient><linearGradient id="g217" x1="0" y1="0" x2="0" y2="1"><stop offset="0" stop-color="#00ffa4"/><stop offset="0.167" stop-color="#00ff64"/><stop offset="0.375" stop-color="#01ff27"/><stop offset="0.5" stop-color="#00ff2b"/><stop offset="0.75" stop-color="#00ff9c"/><stop offset="0.875" stop-color="#00fad4"/><stop offset="0.958" stop-color="#00f8de"/><stop offset="1" stop-color="#00f9d9"/></linearGradient><linearGradient id="g218" x1="0" y1="0" x2="0" y2="1"><stop offset="0" stop-color="#00ff89"/><stop offset="0.208" stop-color="#0f4"/><stop offset="0.292" stop-color="#00ff29"/><stop offset="0.417" stop-color="#16ff1e"/><stop offset="0.542" stop-color="#04ff26"/><stop offset="0.792" stop-color="#00ff98"/><stop offset="0.875" stop-color="#00ffbe"/><stop offset="0.958" stop-color="#00fdc8"/><stop offset="1" stop-color="#00fec3"/></linearGradient><linearGradient id="g219" x1="0" y1="0" x2="0" y2="1"><stop offset="0" stop-color="#00ff83"/><stop offset="0.208" stop-color="#00ff40"/><stop offset="0.292" stop-color="#02ff27"/><stop offset="0.417" stop-color="#19ff1d"/><stop offset="0.542" stop-color="#06ff25"/><stop offset="0.792" stop-color="#00ff94"/><stop offset="0.875" stop-color="#00ffb9"/><stop offset="0.958" stop-color="#00fec4"/><stop offset="1" stop-color="#00ffbf"/></linearGradient><linearGradient id="g220" x1="0" y1="0" x2="0" y2="1"><stop offset="0" stop-color="#00ff82"/><stop offset="0.292" stop-color="#02ff27"/><stop offset="0.417" stop-color="#18ff1d"/><stop offset="0.542" stop-color="#06ff26"/><stop offset="0.75" stop-color="#00ff7d"/><stop offset="0.875" stop-color="#00ffb9"/><stop offset="0.958" stop-color="#00fec3"/><stop offset="1" stop-color="#00ffbe"/></linearGradient><linearGradient id="g221" x1="0" y1="0" x2="0" y2="1"><stop offset="0" stop-color="#00ff80"/><stop offset="0.292" stop-color="#01ff27"/><stop offset="0.417" stop-color="#17ff1e"/><stop offset="0.542" stop-color="#04ff26"/><stop offset="0.792" stop-color="#00ff93"/><stop offset="0.875" stop-color="#00ffb8"/><stop offset="0.958" stop-color="#00fec2"/><stop offset="1" stop-color="#00ffbd"/></linearGradient><linearGradient id="g222" x1="0" y1="0" x2="0" y2="1"><stop offset="0" stop-color="#00ff7d"/><stop offset="0.292" stop-color="#00ff28"/><stop offset="0.417" stop-color="#15ff1f"/><stop offset="0.542" stop-color="#02ff27"/><stop offset="0.875" stop-color="#00ffb6"/><stop offset="0.958" stop-color="#00fec0"/><stop offset="1" stop-color="#0fb"/></linearGradient><linearGradient id="g223" x1="0" y1="0" x2="0" y2="1"><stop offset="0" stop-color="#00ff78"/><stop offset="0.292" stop-color="#00ff29"/><stop offset="0.417" stop-color="#12ff20"/><stop offset="0.542" stop-color="#00ff28"/><stop offset="0.875" stop-color="#00ffb3"/><stop offset="0.958" stop-color="#00ffbe"/><stop offset="1" stop-color="#00ffb8"/></linearGradient><linearGradient id="g224" x1="0" y1="0" x2="0" y2="1"><stop offset="0" stop-color="#00ff74"/><stop offset="0.292" stop-color="#00ff2a"/><stop offset="0.417" stop-color="#0fff21"/><stop offset="0.542" stop-color="#00ff2b"/><stop offset="0.875" stop-color="#00ffb0"/><stop offset="0.958" stop-color="#00ffba"/><stop offset="1" stop-color="#00ffb5"/></linearGradient><linearGradient id="g225" x1="0" y1="0" x2="0" y2="1"><stop offset="0" stop-color="#00ff6f"/><stop offset="0.292" stop-color="#00ff2c"/><stop offset="0.458" stop-color="#0bff23"/><stop offset="0.542" stop-color="#00ff2e"/><stop offset="0.875" stop-color="#00ffae"/><stop offset="0.958" stop-color="#00ffb8"/><stop offset="1" stop-color="#00ffb2"/></linearGradient><linearGradient id="g226" x1="0" y1="0" x2="0" y2="1"><stop offset="0" stop-color="#00ff6c"/><stop offset="0.333" stop-color="#04ff26"/><stop offset="0.458" stop-color="#08ff24"/><stop offset="0.542" stop-color="#00ff31"/><stop offset="0.875" stop-color="#00ffac"/><stop offset="0.958" stop-color="#00ffb5"/><stop offset="1" stop-color="#00ffb0"/></linearGradient><linearGradient id="g227" x1="0" y1="0" x2="0" y2="1"><stop offset="0" stop-color="#00ff6b"/><stop offset="0.333" stop-color="#03ff27"/><stop offset="0.458" stop-color="#08ff25"/><stop offset="0.542" stop-color="#00ff32"/><stop offset="0.875" stop-color="#00ffab"/><stop offset="0.958" stop-color="#00ffb5"/><stop offset="1" stop-color="#00ffb0"/></linearGradient><linearGradient id="g228" x1="0" y1="0" x2="0" y2="1"><stop offset="0" stop-color="#00ff6b"/><stop offset="0.333" stop-color="#03ff27"/><stop offset="0.458" stop-color="#08ff25"/><stop offset="0.542" stop-color="#00ff32"/><stop offset="0.875" stop-color="#00ffac"/><stop offset="0.958" stop-color="#00ffb5"/><stop offset="1" stop-color="#00ffb0"/></linearGradient><linearGradient id="g229" x1="0" y1="0" x2="0" y2="1"><stop offset="0" stop-color="#00ff6c"/><stop offset="0.333" stop-color="#03ff27"/><stop offset="0.458" stop-color="#07ff25"/><stop offset="0.542" stop-color="#00ff32"/><stop offset="0.875" stop-color="#00ffac"/><stop offset="0.958" stop-color="#00ffb5"/><stop offset="1" stop-color="#00ffb0"/></linearGradient><linearGradient id="g230" x1="0" y1="0" x2="0" y2="1"><stop offset="0" stop-color="#00ff6c"/><stop offset="0.333" stop-color="#03ff27"/><stop offset="0.458" stop-color="#07ff25"/><stop offset="0.542" stop-color="#00ff32"/><stop offset="0.875" stop-color="#00ffac"/><stop offset="0.958" stop-color="#00ffb5"/><stop offset="1" stop-color="#00ffb0"/></linearGradient><linearGradient id="g231" x1="0" y1="0" x2="0" y2="1"><stop offset="0" stop-color="#00ff6c"/><stop offset="0.333" stop-color="#03ff27"/><stop offset="0.458" stop-color="#07ff25"/><stop offset="0.542" stop-color="#00ff32"/><stop offset="0.875" stop-color="#00ffac"/><stop offset="0.958" stop-color="#00ffb5"/><stop offset="1" stop-color="#00ffb0"/></linearGradient><linearGradient id="g232" x1="0" y1="0" x2="0" y2="1"><stop offset="0" stop-color="#00ff6c"/><stop offset="0.333" stop-color="#03ff27"/><stop offset="0.458" stop-color="#07ff25"/><stop offset="0.542" stop-color="#00ff32"/><stop offset="0.875" stop-color="#00ffac"/><stop offset="0.958" stop-color="#00ffb5"/><stop offset="1" stop-color="#00ffb0"/></linearGradient><linearGradient id="g233" x1="0" y1="0" x2="0" y2="1"><stop offset="0" stop-color="#00ff6c"/><stop offset="0.333" stop-color="#03ff27"/><stop offset="0.458" stop-color="#07ff25"/><stop offset="0.542" stop-color="#00ff32"/><stop offset="0.875" stop-color="#00ffac"/><stop offset="0.958" stop-color="#00ffb5"/><stop offset="1" stop-color="#00ffb0"/></linearGradient><linearGradient id="g234" x1="0" y1="0" x2="0" y2="1"><stop offset="0" stop-color="#00ff6c"/><stop offset="0.333" stop-color="#03ff27"/><stop offset="0.458" stop-color="#07ff25"/><stop offset="0.542" stop-color="#00ff32"/><stop offset="0.875" stop-color="#00ffac"/><stop offset="0.958" stop-color="#00ffb5"/><stop offset="1" stop-color="#00ffb1"/></linearGradient><linearGradient id="g235" x1="0" y1="0" x2="0" y2="1"><stop offset="0" stop-color="#00ff6c"/><stop offset="0.333" stop-color="#02ff27"/><stop offset="0.458" stop-color="#07ff25"/><stop offset="0.542" stop-color="#00ff32"/><stop offset="0.875" stop-color="#00ffac"/><stop offset="0.958" stop-color="#00ffb6"/><stop offset="1" stop-color="#00ffb1"/></linearGradient><linearGradient id="g236" x1="0" y1="0" x2="0" y2="1"><stop offset="0" stop-color="#00ff6c"/><stop offset="0.333" stop-color="#02ff27"/><stop offset="0.458" stop-color="#07ff25"/><stop offset="0.542" stop-color="#0f3"/><stop offset="0.875" stop-color="#00ffad"/><stop offset="0.958" stop-color="#00ffb6"/><stop offset="1" stop-color="#00ffb1"/></linearGradient><linearGradient id="g237" x1="0" y1="0" x2="0" y2="1"><stop offset="0" stop-color="#00ff6c"/><stop offset="0.333" stop-color="#02ff27"/><stop offset="0.458" stop-color="#07ff25"/><stop offset="0.542" stop-color="#0f3"/><stop offset="0.875" stop-color="#00ffad"/><stop offset="0.958" stop-color="#00ffb6"/><stop offset="1" stop-color="#00ffb1"/></linearGradient><linearGradient id="g238" x1="0" y1="0" x2="0" y2="1"><stop offset="0" stop-color="#00ff6c"/><stop offset="0.333" stop-color="#02ff27"/><stop offset="0.458" stop-color="#07ff25"/><stop offset="0.542" stop-color="#0f3"/><stop offset="0.875" stop-color="#00ffad"/><stop offset="0.958" stop-color="#00ffb6"/><stop offset="1" stop-color="#00ffb1"/></linearGradient><linearGradient id="g239" x1="0" y1="0" x2="0" y2="1"><stop offset="0" stop-color="#00ff6d"/><stop offset="0.333" stop-color="#02ff27"/><stop offset="0.458" stop-color="#07ff25"/><stop offset="0.542" stop-color="#0f3"/><stop offset="0.875" stop-color="#00ffad"/><stop offset="0.958" stop-color="#00ffb6"/><stop offset="1" stop-color="#00ffb1"/></linearGradient><linearGradient id="g240" x1="0" y1="0" x2="0" y2="1"><stop offset="0" stop-color="#00ff6d"/><stop offset="0.333" stop-color="#02ff27"/><stop offset="0.458" stop-color="#07ff25"/><stop offset="0.542" stop-color="#0f3"/><stop offset="0.875" stop-color="#00ffad"/><stop offset="0.958" stop-color="#00ffb6"/><stop offset="1" stop-color="#00ffb1"/></linearGradient><linearGradient id="g241" x1="0" y1="0" x2="0" y2="1"><stop offset="0" stop-color="#00ff6d"/><stop offset="0.333" stop-color="#02ff27"/><stop offset="0.458" stop-color="#07ff25"/><stop offset="0.542" stop-color="#0f3"/><stop offset="0.875" stop-color="#00ffad"/><stop offset="0.958" stop-color="#00ffb6"/><stop offset="1" stop-color="#00ffb1"/></linearGradient><linearGradient id="g242" x1="0" y1="0" x2="0" y2="1"><stop offset="0" stop-color="#00ff6d"/><stop offset="0.333" stop-color="#02ff27"/><stop offset="0.458" stop-color="#06ff25"/><stop offset="0.542" stop-color="#0f3"/><stop offset="0.875" stop-color="#00ffad"/><stop offset="0.958" stop-color="#00ffb6"/><stop offset="1" stop-color="#00ffb2"/></linearGradient><linearGradient id="g243" x1="0" y1="0" x2="0" y2="1"><stop offset="0" stop-color="#00ff6d"/><stop offset="0.333" stop-color="#02ff27"/><stop offset="0.458" stop-color="#06ff25"/><stop offset="0.542" stop-color="#0f3"/><stop offset="0.875" stop-color="#00ffad"/><stop offset="0.958" stop-color="#00ffb6"/><stop offset="1" stop-color="#00ffb2"/></linearGradient><linearGradient id="g244" x1="0" y1="0" x2="0" y2="1"><stop offset="0" stop-color="#00ff6d"/><stop offset="0.333" stop-color="#02ff27"/><stop offset="0.458" stop-color="#06ff25"/><stop offset="0.542" stop-color="#0f3"/><stop offset="0.875" stop-color="#00ffad"/><stop offset="0.958" stop-color="#00ffb7"/><stop offset="1" stop-color="#00ffb2"/></linearGradient><linearGradient id="g245" x1="0" y1="0" x2="0" y2="1"><stop offset="0" stop-color="#00ff6d"/><stop offset="0.333" stop-color="#02ff27"/><stop offset="0.458" stop-color="#06ff25"/><stop offset="0.542" stop-color="#0f3"/><stop offset="0.875" stop-color="#00ffae"/><stop offset="0.958" stop-color="#00ffb7"/><stop offset="1" stop-color="#00ffb2"/></linearGradient><linearGradient id="g246" x1="0" y1="0" x2="0" y2="1"><stop offset="0" stop-color="#00ff6d"/><stop offset="0.333" stop-color="#02ff27"/><stop offset="0.458" stop-color="#06ff25"/><stop offset="0.542" stop-color="#00ff34"/><stop offset="0.875" stop-color="#00ffae"/><stop offset="0.958" stop-color="#00ffb7"/><stop offset="1" stop-color="#00ffb2"/></linearGradient><linearGradient id="g247" x1="0" y1="0" x2="0" y2="1"><stop offset="0" stop-color="#00ff6d"/><stop offset="0.333" stop-color="#01ff27"/><stop offset="0.458" stop-color="#06ff25"/><stop offset="0.542" stop-color="#00ff34"/><stop offset="0.875" stop-color="#00ffae"/><stop offset="0.958" stop-color="#00ffb7"/><stop offset="1" stop-color="#00ffb2"/></linearGradient><linearGradient id="g248" x1="0" y1="0" x2="0" y2="1"><stop offset="0" stop-color="#00ff6d"/><stop offset="0.333" stop-color="#01ff27"/><stop offset="0.458" stop-color="#06ff25"/><stop offset="0.542" stop-color="#00ff34"/><stop offset="0.875" stop-color="#00ffae"/><stop offset="0.958" stop-color="#00ffb7"/><stop offset="1" stop-color="#00ffb2"/></linearGradient><linearGradient id="g249" x1="0" y1="0" x2="0" y2="1"><stop offset="0" stop-color="#00ff6e"/><stop offset="0.333" stop-color="#01ff27"/><stop offset="0.458" stop-color="#06ff25"/><stop offset="0.542" stop-color="#00ff34"/><stop offset="0.875" stop-color="#00ffae"/><stop offset="0.958" stop-color="#00ffb7"/><stop offset="1" stop-color="#00ffb2"/></linearGradient><linearGradient id="g250" x1="0" y1="0" x2="0" y2="1"><stop offset="0" stop-color="#00ff6e"/><stop offset="0.333" stop-color="#01ff27"/><stop offset="0.458" stop-color="#06ff25"/><stop offset="0.542" stop-color="#00ff34"/><stop offset="0.875" stop-color="#00ffae"/><stop offset="0.958" stop-color="#00ffb7"/><stop offset="1" stop-color="#00ffb2"/></linearGradient><linearGradient id="g251" x1="0" y1="0" x2="0" y2="1"><stop offset="0" stop-color="#00ff6e"/><stop offset="0.333" stop-color="#01ff27"/><stop offset="0.458" stop-color="#06ff25"/><stop offset="0.542" stop-color="#00ff34"/><stop offset="0.875" stop-color="#00ffae"/><stop offset="0.958" stop-color="#00ffb7"/><stop offset="1" stop-color="#00ffb3"/></linearGradient><linearGradient id="g252" x1="0" y1="0" x2="0" y2="1"><stop offset="0" stop-color="#00ff84"/><stop offset="0.208" stop-color="#00ff54"/><stop offset="0.417" stop-color="#00ff31"/><stop offset="0.542" stop-color="#00ff47"/><stop offset="0.875" stop-color="#00fec3"/><stop offset="1" stop-color="#00fdc7"/></linearGradient><linearGradient id="g253" x1="0" y1="0" x2="0" y2="1"><stop offset="0" stop-color="#00ff82"/><stop offset="0.333" stop-color="#00ff38"/><stop offset="0.458" stop-color="#0f3"/><stop offset="0.583" stop-color="#0f5"/><stop offset="0.875" stop-color="#00fec2"/><stop offset="1" stop-color="#00fdc5"/></linearGradient><linearGradient id="g254" x1="0" y1="0" x2="0" y2="1"><stop offset="0" stop-color="#00ff6e"/><stop offset="0.333" stop-color="#01ff28"/><stop offset="0.458" stop-color="#06ff26"/><stop offset="0.542" stop-color="#00ff34"/><stop offset="0.875" stop-color="#00ffaf"/><stop offset="0.958" stop-color="#00ffb8"/><stop offset="1" stop-color="#00ffb3"/></linearGradient><linearGradient id="g255" x1="0" y1="0" x2="0" y2="1"><stop offset="0" stop-color="#00ff6f"/><stop offset="0.333" stop-color="#01ff28"/><stop offset="0.458" stop-color="#05ff26"/><stop offset="0.542" stop-color="#00ff35"/><stop offset="0.875" stop-color="#00ffaf"/><stop offset="0.958" stop-color="#00ffb8"/><stop offset="1" stop-color="#00ffb3"/></linearGradient><linearGradient id="g256" x1="0" y1="0" x2="0" y2="1"><stop offset="0" stop-color="#00ff7a"/><stop offset="0.375" stop-color="#00ff2b"/><stop offset="0.458" stop-color="#00ff2b"/><stop offset="0.583" stop-color="#00ff4e"/><stop offset="0.875" stop-color="#00ffba"/><stop offset="0.958" stop-color="#00fec2"/><stop offset="1" stop-color="#00ffbe"/></linearGradient><linearGradient id="g257" x1="0" y1="0" x2="0" y2="1"><stop offset="0" stop-color="#00ff80"/><stop offset="0.333" stop-color="#00ff37"/><stop offset="0.458" stop-color="#00ff31"/><stop offset="0.583" stop-color="#00ff53"/><stop offset="0.875" stop-color="#00fec0"/><stop offset="0.958" stop-color="#00fdc8"/><stop offset="1" stop-color="#00fec4"/></linearGradient><linearGradient id="g258" x1="0" y1="0" x2="0" y2="1"><stop offset="0" stop-color="#00ff70"/><stop offset="0.333" stop-color="#00ff28"/><stop offset="0.458" stop-color="#04ff26"/><stop offset="0.542" stop-color="#00ff36"/><stop offset="0.875" stop-color="#00ffb0"/><stop offset="0.958" stop-color="#00ffba"/><stop offset="1" stop-color="#00ffb5"/></linearGradient><linearGradient id="g259" x1="0" y1="0" x2="0" y2="1"><stop offset="0" stop-color="#00ff6e"/><stop offset="0.333" stop-color="#01ff28"/><stop offset="0.458" stop-color="#05ff26"/><stop offset="0.542" stop-color="#00ff35"/><stop offset="0.875" stop-color="#00ffaf"/><stop offset="0.958" stop-color="#00ffb8"/><stop offset="1" stop-color="#00ffb3"/></linearGradient><linearGradient id="g260" x1="0" y1="0" x2="0" y2="1"><stop offset="0" stop-color="#00ff6f"/><stop offset="0.333" stop-color="#01ff28"/><stop offset="0.458" stop-color="#05ff26"/><stop offset="0.542" stop-color="#00ff35"/><stop offset="0.875" stop-color="#00ffaf"/><stop offset="0.958" stop-color="#00ffb8"/><stop offset="1" stop-color="#00ffb3"/></linearGradient><linearGradient id="g261" x1="0" y1="0" x2="0" y2="1"><stop offset="0" stop-color="#00ff6f"/><stop offset="0.333" stop-color="#01ff28"/><stop offset="0.458" stop-color="#05ff26"/><stop offset="0.542" stop-color="#00ff35"/><stop offset="0.875" stop-color="#00ffaf"/><stop offset="0.958" stop-color="#00ffb8"/><stop offset="1" stop-color="#00ffb3"/></linearGradient><linearGradient id="g262" x1="0" y1="0" x2="0" y2="1"><stop offset="0" stop-color="#00ff6f"/><stop offset="0.333" stop-color="#01ff28"/><stop offset="0.458" stop-color="#05ff26"/><stop offset="0.542" stop-color="#00ff35"/><stop offset="0.875" stop-color="#00ffaf"/><stop offset="0.958" stop-color="#00ffb8"/><stop offset="1" stop-color="#00ffb4"/></linearGradient><linearGradient id="g263" x1="0" y1="0" x2="0" y2="1"><stop offset="0" stop-color="#00ff6f"/><stop offset="0.333" stop-color="#00ff28"/><stop offset="0.458" stop-color="#05ff26"/><stop offset="0.542" stop-color="#00ff35"/><stop offset="0.875" stop-color="#00ffaf"/><stop offset="0.958" stop-color="#00ffb8"/><stop offset="1" stop-color="#00ffb4"/></linearGradient><linearGradient id="g264" x1="0" y1="0" x2="0" y2="1"><stop offset="0" stop-color="#00ff6f"/><stop offset="0.333" stop-color="#00ff28"/><stop offset="0.458" stop-color="#05ff26"/><stop offset="0.542" stop-color="#00ff35"/><stop offset="0.875" stop-color="#00ffaf"/><stop offset="0.958" stop-color="#00ffb8"/><stop offset="1" stop-color="#00ffb4"/></linearGradient><linearGradient id="g265" x1="0" y1="0" x2="0" y2="1"><stop offset="0" stop-color="#00ff6f"/><stop offset="0.333" stop-color="#00ff28"/><stop offset="0.458" stop-color="#05ff26"/><stop offset="0.542" stop-color="#00ff35"/><stop offset="0.875" stop-color="#00ffaf"/><stop offset="0.958" stop-color="#00ffb9"/><stop offset="1" stop-color="#00ffb4"/></linearGradient><linearGradient id="g266" x1="0" y1="0" x2="0" y2="1"><stop offset="0" stop-color="#00ff6f"/><stop offset="0.333" stop-color="#00ff28"/><stop offset="0.458" stop-color="#05ff26"/><stop offset="0.542" stop-color="#00ff35"/><stop offset="0.875" stop-color="#00ffb0"/><stop offset="0.958" stop-color="#00ffb9"/><stop offset="1" stop-color="#00ffb4"/></linearGradient><linearGradient id="g267" x1="0" y1="0" x2="0" y2="1"><stop offset="0" stop-color="#00ff72"/><stop offset="0.333" stop-color="#00ff2a"/><stop offset="0.5" stop-color="#00ff2c"/><stop offset="0.875" stop-color="#00ffb2"/><stop offset="0.958" stop-color="#00ffbc"/><stop offset="1" stop-color="#00ffb7"/></linearGradient><linearGradient id="g268" x1="0" y1="0" x2="0" y2="1"><stop offset="0" stop-color="#00ff7f"/><stop offset="0.333" stop-color="#00ff36"/><stop offset="0.458" stop-color="#00ff30"/><stop offset="0.583" stop-color="#00ff52"/><stop offset="0.875" stop-color="#00ffbf"/><stop offset="0.958" stop-color="#00fdc7"/><stop offset="1" stop-color="#00fec3"/></linearGradient><linearGradient id="g269" x1="0" y1="0" x2="0" y2="1"><stop offset="0" stop-color="#00ff74"/><stop offset="0.375" stop-color="#02ff27"/><stop offset="0.5" stop-color="#00ff2e"/><stop offset="0.875" stop-color="#00ffb5"/><stop offset="0.958" stop-color="#00ffbe"/><stop offset="1" stop-color="#00ffb9"/></linearGradient><linearGradient id="g270" x1="0" y1="0" x2="0" y2="1"><stop offset="0" stop-color="#00ff6f"/><stop offset="0.333" stop-color="#00ff28"/><stop offset="0.458" stop-color="#05ff26"/><stop offset="0.542" stop-color="#00ff35"/><stop offset="0.875" stop-color="#00ffb0"/><stop offset="0.958" stop-color="#00ffb9"/><stop offset="1" stop-color="#00ffb4"/></linearGradient><linearGradient id="g271" x1="0" y1="0" x2="0" y2="1"><stop offset="0" stop-color="#00ff6f"/><stop offset="0.333" stop-color="#00ff28"/><stop offset="0.458" stop-color="#05ff26"/><stop offset="0.542" stop-color="#00ff35"/><stop offset="0.875" stop-color="#00ffb0"/><stop offset="0.958" stop-color="#00ffb9"/><stop offset="1" stop-color="#00ffb4"/></linearGradient><linearGradient id="g272" x1="0" y1="0" x2="0" y2="1"><stop offset="0" stop-color="#00ff6f"/><stop offset="0.333" stop-color="#00ff28"/><stop offset="0.458" stop-color="#05ff26"/><stop offset="0.542" stop-color="#00ff35"/><stop offset="0.875" stop-color="#00ffb0"/><stop offset="0.958" stop-color="#00ffb9"/><stop offset="1" stop-color="#00ffb4"/></linearGradient><linearGradient id="s0" x1="0" y1="0" x2="0" y2="1"><stop offset="0" stop-color="#b9afc8"/><stop offset="0.464" stop-color="#c0b0c0"/><stop offset="0.512" stop-color="#e6a078"/><stop offset="0.608" stop-color="#e69a6e"/><stop offset="0.656" stop-color="#f0e050"/><stop offset="0.703" stop-color="#b0a6aa"/><stop offset="1" stop-color="#aaa0aa"/></linearGradient><linearGradient id="s1" x1="0" y1="0" x2="0" y2="1"><stop offset="0" stop-color="#b4a6c0"/><stop offset="0.177" stop-color="#c0b0c4"/><stop offset="0.464" stop-color="#c4a8c0"/><stop offset="0.512" stop-color="#e6966e"/><stop offset="0.608" stop-color="#e09070"/><stop offset="0.656" stop-color="#e8d858"/><stop offset="0.703" stop-color="#a89a9e"/><stop offset="1" stop-color="#a89ca4"/></linearGradient><linearGradient id="s2" x1="0" y1="0" x2="0" y2="1"><stop offset="0" stop-color="#c86e5a"/><stop offset="0.129" stop-color="#c87060"/><stop offset="0.177" stop-color="#d09aa0"/><stop offset="0.249" stop-color="#c85a8c"/><stop offset="0.344" stop-color="#a850b4"/><stop offset="0.488" stop-color="#9a50c0"/><stop offset="0.56" stop-color="#c08090"/><stop offset="0.679" stop-color="#b06a8a"/><stop offset="0.751" stop-color="#9a8478"/><stop offset="1" stop-color="#8c7a6e"/></linearGradient><linearGradient id="s3" x1="0" y1="0" x2="0" y2="1"><stop offset="0" stop-color="#e61428"/><stop offset="0.225" stop-color="#e0183c"/><stop offset="0.282" stop-color="#a01eb4"/><stop offset="0.321" stop-color="#7828dc"/><stop offset="0.349" stop-color="#3030ff"/><stop offset="0.388" stop-color="#5020e6"/><stop offset="0.44" stop-color="#961ec8"/><stop offset="0.703" stop-color="#8c14c8"/><stop offset="0.751" stop-color="#be0064"/><stop offset="0.823" stop-color="#c80050"/><stop offset="0.856" stop-color="#ff7814"/><stop offset="0.904" stop-color="#f05020"/><stop offset="0.943" stop-color="#dc1e28"/><stop offset="1" stop-color="#dc1e32"/></linearGradient><linearGradient id="s4" x1="0" y1="0" x2="0" y2="1"><stop offset="0" stop-color="#e10f32"/><stop offset="0.177" stop-color="#dc1440"/><stop offset="0.234" stop-color="#a00aa0"/><stop offset="0.321" stop-color="#5a14e6"/><stop offset="0.359" stop-color="#1414ff"/><stop offset="0.407" stop-color="#6414dc"/><stop offset="0.464" stop-color="#aa00aa"/><stop offset="0.727" stop-color="#aa0096"/><stop offset="0.823" stop-color="#be0064"/><stop offset="0.871" stop-color="#e62832"/><stop offset="1" stop-color="#d21446"/></linearGradient><linearGradient id="s5" x1="0" y1="0" x2="0" y2="1"><stop offset="0" stop-color="#9600a0"/><stop offset="0.177" stop-color="#8c0ab4"/><stop offset="0.249" stop-color="#7850c8"/><stop offset="0.297" stop-color="#c8c83c"/><stop offset="0.368" stop-color="#dcd232"/><stop offset="0.488" stop-color="#c8f000"/><stop offset="0.584" stop-color="#96fa00"/><stop offset="0.679" stop-color="#32ff3c"/><stop offset="0.789" stop-color="#28e6a0"/><stop offset="0.828" stop-color="#463cf0"/><stop offset="0.919" stop-color="#6e14c8"/><stop offset="1" stop-color="#960aa0"/></linearGradient><linearGradient id="s6" x1="0" y1="0" x2="0" y2="1"><stop offset="0" stop-color="#283cff"/><stop offset="0.177" stop-color="#2850ff"/><stop offset="0.234" stop-color="#3cc8c8"/><stop offset="0.311" stop-color="#f0eb1e"/><stop offset="0.56" stop-color="#e6f014"/><stop offset="0.608" stop-color="#b4fa00"/><stop offset="0.679" stop-color="#28ff46"/><stop offset="0.775" stop-color="#14f0b4"/><stop offset="0.823" stop-color="#1e64ff"/><stop offset="1" stop-color="#1e50ff"/></linearGradient><linearGradient id="s7" x1="0" y1="0" x2="0" y2="1"><stop offset="0" stop-color="#1482ff"/><stop offset="0.153" stop-color="#1496ff"/><stop offset="0.215" stop-color="#28f0a0"/><stop offset="0.311" stop-color="#ebf014"/><stop offset="0.56" stop-color="#dcf50a"/><stop offset="0.608" stop-color="#aafa00"/><stop offset="0.679" stop-color="#1eff50"/><stop offset="0.761" stop-color="#0af0c8"/><stop offset="0.823" stop-color="#0a96ff"/><stop offset="1" stop-color="#0a82ff"/></linearGradient><linearGradient id="s8" x1="0" y1="0" x2="0" y2="1"><stop offset="0" stop-color="#00c8ff"/><stop offset="0.153" stop-color="#00d2ff"/><stop offset="0.206" stop-color="#1effa0"/><stop offset="0.311" stop-color="#dcf50a"/><stop offset="0.56" stop-color="#c8f800"/><stop offset="0.608" stop-color="#a0fa00"/><stop offset="0.679" stop-color="#14ff50"/><stop offset="0.751" stop-color="#00f5d2"/><stop offset="0.823" stop-color="#00beff"/><stop offset="1" stop-color="#00aaff"/></linearGradient><linearGradient id="s9" x1="0" y1="0" x2="0" y2="1"><stop offset="0" stop-color="#00dcff"/><stop offset="0.139" stop-color="#00e6f0"/><stop offset="0.196" stop-color="#14ff8c"/><stop offset="0.311" stop-color="#b4fa00"/><stop offset="0.56" stop-color="#a0fa00"/><stop offset="0.679" stop-color="#0aff50"/><stop offset="0.751" stop-color="#00fad2"/><stop offset="0.823" stop-color="#00d7ff"/><stop offset="1" stop-color="#00c8ff"/></linearGradient><linearGradient id="s10" x1="0" y1="0" x2="0" y2="1"><stop offset="0" stop-color="#00f0c8"/><stop offset="0.129" stop-color="#00fab4"/><stop offset="0.187" stop-color="#0aff64"/><stop offset="0.321" stop-color="#5aff14"/><stop offset="0.56" stop-color="#50ff14"/><stop offset="0.679" stop-color="#0aff50"/><stop offset="0.761" stop-color="#00ffaa"/><stop offset="0.847" stop-color="#00f5dc"/><stop offset="1" stop-color="#00ebe6"/></linearGradient><linearGradient id="cb" x1="0" y1="0" x2="0" y2="1"><stop offset="0" stop-color="#9600ff"/><stop offset="0.05" stop-color="#6300ff"/><stop offset="0.1" stop-color="#2e00ff"/><stop offset="0.15" stop-color="#0004ff"/><stop offset="0.2" stop-color="#04f"/><stop offset="0.25" stop-color="#0083ff"/><stop offset="0.3" stop-color="#00c1ff"/><stop offset="0.35" stop-color="#00f2f5"/><stop offset="0.4" stop-color="#00ffb7"/><stop offset="0.45" stop-color="#00ff6c"/><stop offset="0.5" stop-color="#00ff2a"/><stop offset="0.55" stop-color="#31ff12"/><stop offset="0.6" stop-color="#64ff00"/><stop offset="0.65" stop-color="#97ff00"/><stop offset="0.7" stop-color="#caff00"/><stop offset="0.75" stop-color="#ff0"/><stop offset="0.8" stop-color="#ffcb00"/><stop offset="0.85" stop-color="#ff9300"/><stop offset="0.9" stop-color="#ff5e00"/><stop offset="0.95" stop-color="#ff2d00"/><stop offset="1" stop-color="#f00"/></linearGradient><clipPath id="cpb"><rect x="68" y="300.4" width="418.6" height="137.4"/></clipPath></defs><g shape-rendering="crispEdges"><rect x="70" y="23" width="1" height="209" fill="url(#g0)"/><rect x="71" y="23" width="1" height="209" fill="url(#g1)"/><rect x="72" y="23" width="1" height="209" fill="url(#g2)"/><rect x="73" y="23" width="1" height="209" fill="url(#g3)"/><rect x="74" y="23" width="1" height="209" fill="url(#g4)"/><rect x="75" y="23" width="1" height="209" fill="url(#g5)"/><rect x="76" y="23" width="1" height="209" fill="url(#g6)"/><rect x="77" y="23" width="1" height="209" fill="url(#g7)"/><rect x="78" y="23" width="1" height="209" fill="url(#g8)"/><rect x="79" y="23" width="1" height="209" fill="url(#g9)"/><rect x="80" y="23" width="1" height="209" fill="url(#g10)"/><rect x="81" y="23" width="1" height="209" fill="url(#g11)"/><rect x="82" y="23" width="1" height="209" fill="url(#g12)"/><rect x="83" y="23" width="1" height="209" fill="url(#g13)"/><rect x="84" y="23" width="1" height="209" fill="url(#g14)"/><rect x="85" y="23" width="1" height="209" fill="url(#g15)"/><rect x="86" y="23" width="1" height="209" fill="url(#g16)"/><rect x="87" y="23" width="1" height="209" fill="url(#g17)"/><rect x="88" y="23" width="1" height="209" fill="url(#g18)"/><rect x="89" y="23" width="1" height="209" fill="url(#g19)"/><rect x="90" y="23" width="1" height="209" fill="url(#g20)"/><rect x="91" y="23" width="1" height="209" fill="url(#g21)"/><rect x="92" y="23" width="1" height="209" fill="url(#g22)"/><rect x="93" y="23" width="1" height="209" fill="url(#g23)"/><rect x="94" y="23" width="1" height="209" fill="url(#g24)"/><rect x="95" y="23" width="1" height="209" fill="url(#g25)"/><rect x="96" y="23" width="1" height="209" fill="url(#g26)"/><rect x="97" y="23" width="1" height="209" fill="url(#g27)"/><rect x="98" y="23" width="1" height="209" fill="url(#g28)"/><rect x="99" y="23" width="1" height="209" fill="url(#g29)"/><rect x="100" y="23" width="1" height="209" fill="url(#g30)"/><rect x="101" y="23" width="1" height="209" fill="url(#g31)"/><rect x="102" y="23" width="1" height="209" fill="url(#g32)"/><rect x="103" y="23" width="1" height="209" fill="url(#g33)"/><rect x="104" y="23" width="1" height="209" fill="url(#g34)"/><rect x="105" y="23" width="1" height="209" fill="url(#g35)"/><rect x="106" y="23" width="1" height="209" fill="url(#g36)"/><rect x="107" y="23" width="1" height="209" fill="url(#g37)"/><rect x="108" y="23" width="1" height="209" fill="url(#g38)"/><rect x="109" y="23" width="1" height="209" fill="url(#g39)"/><rect x="110" y="23" width="1" height="209" fill="url(#g40)"/><rect x="111" y="23" width="1" height="209" fill="url(#g41)"/><rect x="112" y="23" width="1" height="209" fill="url(#g42)"/><rect x="113" y="23" width="1" height="209" fill="url(#g43)"/><rect x="114" y="23" width="1" height="209" fill="url(#g44)"/><rect x="115" y="23" width="1" height="209" fill="url(#g45)"/><rect x="116" y="23" width="1" height="209" fill="url(#g46)"/><rect x="117" y="23" width="1" height="209" fill="url(#g47)"/><rect x="118" y="23" width="1" height="209" fill="url(#g48)"/><rect x="119" y="23" width="1" height="209" fill="url(#g49)"/><rect x="120" y="23" width="1" height="209" fill="url(#g50)"/><rect x="121" y="23" width="1" height="209" fill="url(#g51)"/><rect x="122" y="23" width="1" height="209" fill="url(#g52)"/><rect x="123" y="23" width="1" height="209" fill="url(#g53)"/><rect x="124" y="23" width="1" height="209" fill="url(#g54)"/><rect x="125" y="23" width="1" height="209" fill="url(#g55)"/><rect x="126" y="23" width="1" height="209" fill="url(#g56)"/><rect x="127" y="23" width="1" height="209" fill="url(#g57)"/><rect x="128" y="23" width="1" height="209" fill="url(#g58)"/><rect x="129" y="23" width="1" height="209" fill="url(#g59)"/><rect x="130" y="23" width="1" height="209" fill="url(#g60)"/><rect x="131" y="23" width="1" height="209" fill="url(#g61)"/><rect x="132" y="23" width="1" height="209" fill="url(#g62)"/><rect x="133" y="23" width="1" height="209" fill="url(#g63)"/><rect x="134" y="23" width="1" height="209" fill="url(#g64)"/><rect x="135" y="23" width="1" height="209" fill="url(#g65)"/><rect x="136" y="23" width="1" height="209" fill="url(#g66)"/><rect x="137" y="23" width="1" height="209" fill="url(#g67)"/><rect x="138" y="23" width="1" height="209" fill="url(#g68)"/><rect x="139" y="23" width="1" height="209" fill="url(#g69)"/><rect x="140" y="23" width="1" height="209" fill="url(#g70)"/><rect x="141" y="23" width="1" height="209" fill="url(#g71)"/><rect x="142" y="23" width="1" height="209" fill="url(#g72)"/><rect x="143" y="23" width="1" height="209" fill="url(#g73)"/><rect x="144" y="23" width="1" height="209" fill="url(#g74)"/><rect x="145" y="23" width="1" height="209" fill="url(#g75)"/><rect x="146" y="23" width="1" height="209" fill="url(#g76)"/><rect x="147" y="23" width="1" height="209" fill="url(#g77)"/><rect x="148" y="23" width="1" height="209" fill="url(#g78)"/><rect x="149" y="23" width="1" height="209" fill="url(#g79)"/><rect x="150" y="23" width="1" height="209" fill="url(#g80)"/><rect x="151" y="23" width="1" height="209" fill="url(#g81)"/><rect x="152" y="23" width="1" height="209" fill="url(#g82)"/><rect x="153" y="23" width="1" height="209" fill="url(#g83)"/><rect x="154" y="23" width="1" height="209" fill="url(#g84)"/><rect x="155" y="23" width="1" height="209" fill="url(#g85)"/><rect x="156" y="23" width="1" height="209" fill="url(#g86)"/><rect x="157" y="23" width="1" height="209" fill="url(#g87)"/><rect x="158" y="23" width="1" height="209" fill="url(#g88)"/><rect x="159" y="23" width="1" height="209" fill="url(#g89)"/><rect x="160" y="23" width="1" height="209" fill="url(#g90)"/><rect x="161" y="23" width="1" height="209" fill="url(#g91)"/><rect x="162" y="23" width="1" height="209" fill="url(#g92)"/><rect x="163" y="23" width="1" height="209" fill="url(#g93)"/><rect x="164" y="23" width="1" height="209" fill="url(#g94)"/><rect x="165" y="23" width="1" height="209" fill="url(#g95)"/><rect x="166" y="23" width="1" height="209" fill="url(#g96)"/><rect x="167" y="23" width="1" height="209" fill="url(#g97)"/><rect x="168" y="23" width="1" height="209" fill="url(#g98)"/><rect x="169" y="23" width="1" height="209" fill="url(#g99)"/><rect x="170" y="23" width="1" height="209" fill="url(#g100)"/><rect x="171" y="23" width="1" height="209" fill="url(#g101)"/><rect x="172" y="23" width="1" height="209" fill="url(#g102)"/><rect x="173" y="23" width="1" height="209" fill="url(#g103)"/><rect x="174" y="23" width="1" height="209" fill="url(#g104)"/><rect x="175" y="23" width="1" height="209" fill="url(#g105)"/><rect x="176" y="23" width="1" height="209" fill="url(#g106)"/><rect x="177" y="23" width="1" height="209" fill="url(#g107)"/><rect x="178" y="23" width="1" height="209" fill="url(#g108)"/><rect x="179" y="23" width="1" height="209" fill="url(#g109)"/><rect x="180" y="23" width="1" height="209" fill="url(#g110)"/><rect x="181" y="23" width="1" height="209" fill="url(#g111)"/><rect x="182" y="23" width="1" height="209" fill="url(#g112)"/><rect x="183" y="23" width="1" height="209" fill="url(#g113)"/><rect x="184" y="23" width="1" height="209" fill="url(#g114)"/><rect x="185" y="23" width="1" height="209" fill="url(#g115)"/><rect x="186" y="23" width="1" height="209" fill="url(#g116)"/><rect x="187" y="23" width="1" height="209" fill="url(#g117)"/><rect x="188" y="23" width="1" height="209" fill="url(#g118)"/><rect x="189" y="23" width="1" height="209" fill="url(#g119)"/><rect x="190" y="23" width="1" height="209" fill="url(#g120)"/><rect x="191" y="23" width="1" height="209" fill="url(#g121)"/><rect x="192" y="23" width="1" height="209" fill="url(#g122)"/><rect x="193" y="23" width="1" height="209" fill="url(#g123)"/><rect x="194" y="23" width="1" height="209" fill="url(#g124)"/><rect x="195" y="23" width="1" height="209" fill="url(#g125)"/><rect x="196" y="23" width="1" height="209" fill="url(#g126)"/><rect x="197" y="23" width="1" height="209" fill="url(#g127)"/><rect x="198" y="23" width="1" height="209" fill="url(#g128)"/><rect x="199" y="23" width="1" height="209" fill="url(#g129)"/><rect x="200" y="23" width="2" height="209" fill="url(#g130)"/><rect x="202" y="23" width="2" height="209" fill="url(#g131)"/><rect x="204" y="23" width="2" height="209" fill="url(#g132)"/><rect x="206" y="23" width="2" height="209" fill="url(#g133)"/><rect x="208" y="23" width="2" height="209" fill="url(#g134)"/><rect x="210" y="23" width="2" height="209" fill="url(#g135)"/><rect x="212" y="23" width="2" height="209" fill="url(#g136)"/><rect x="214" y="23" width="2" height="209" fill="url(#g137)"/><rect x="216" y="23" width="2" height="209" fill="url(#g138)"/><rect x="218" y="23" width="2" height="209" fill="url(#g139)"/><rect x="220" y="23" width="2" height="209" fill="url(#g140)"/><rect x="222" y="23" width="2" height="209" fill="url(#g141)"/><rect x="224" y="23" width="2" height="209" fill="url(#g142)"/><rect x="226" y="23" width="2" height="209" fill="url(#g143)"/><rect x="228" y="23" width="2" height="209" fill="url(#g144)"/><rect x="230" y="23" width="2" height="209" fill="url(#g145)"/><rect x="232" y="23" width="2" height="209" fill="url(#g146)"/><rect x="234" y="23" width="2" height="209" fill="url(#g147)"/><rect x="236" y="23" width="2" height="209" fill="url(#g148)"/><rect x="238" y="23" width="2" height="209" fill="url(#g149)"/><rect x="240" y="23" width="2" height="209" fill="url(#g150)"/><rect x="242" y="23" width="2" height="209" fill="url(#g151)"/><rect x="244" y="23" width="2" height="209" fill="url(#g152)"/><rect x="246" y="23" width="2" height="209" fill="url(#g153)"/><rect x="248" y="23" width="2" height="209" fill="url(#g154)"/><rect x="250" y="23" width="2" height="209" fill="url(#g155)"/><rect x="252" y="23" width="2" height="209" fill="url(#g156)"/><rect x="254" y="23" width="2" height="209" fill="url(#g157)"/><rect x="256" y="23" width="2" height="209" fill="url(#g158)"/><rect x="258" y="23" width="2" height="209" fill="url(#g159)"/><rect x="260" y="23" width="2" height="209" fill="url(#g160)"/><rect x="262" y="23" width="2" height="209" fill="url(#g161)"/><rect x="264" y="23" width="2" height="209" fill="url(#g162)"/><rect x="266" y="23" width="2" height="209" fill="url(#g163)"/><rect x="268" y="23" width="2" height="209" fill="url(#g164)"/><rect x="270" y="23" width="2" height="209" fill="url(#g165)"/><rect x="272" y="23" width="2" height="209" fill="url(#g166)"/><rect x="274" y="23" width="2" height="209" fill="url(#g167)"/><rect x="276" y="23" width="2" height="209" fill="url(#g168)"/><rect x="278" y="23" width="2" height="209" fill="url(#g169)"/><rect x="280" y="23" width="2" height="209" fill="url(#g170)"/><rect x="282" y="23" width="2" height="209" fill="url(#g171)"/><rect x="284" y="23" width="2" height="209" fill="url(#g172)"/><rect x="286" y="23" width="2" height="209" fill="url(#g173)"/><rect x="288" y="23" width="2" height="209" fill="url(#g174)"/><rect x="290" y="23" width="2" height="209" fill="url(#g175)"/><rect x="292" y="23" width="2" height="209" fill="url(#g176)"/><rect x="294" y="23" width="2" height="209" fill="url(#g177)"/><rect x="296" y="23" width="2" height="209" fill="url(#g178)"/><rect x="298" y="23" width="2" height="209" fill="url(#g179)"/><rect x="300" y="23" width="2" height="209" fill="url(#g180)"/><rect x="302" y="23" width="2" height="209" fill="url(#g181)"/><rect x="304" y="23" width="2" height="209" fill="url(#g182)"/><rect x="306" y="23" width="2" height="209" fill="url(#g183)"/><rect x="308" y="23" width="2" height="209" fill="url(#g184)"/><rect x="310" y="23" width="2" height="209" fill="url(#g185)"/><rect x="312" y="23" width="2" height="209" fill="url(#g186)"/><rect x="314" y="23" width="2" height="209" fill="url(#g187)"/><rect x="316" y="23" width="2" height="209" fill="url(#g188)"/><rect x="318" y="23" width="2" height="209" fill="url(#g189)"/><rect x="320" y="23" width="2" height="209" fill="url(#g190)"/><rect x="322" y="23" width="2" height="209" fill="url(#g191)"/><rect x="324" y="23" width="2" height="209" fill="url(#g192)"/><rect x="326" y="23" width="2" height="209" fill="url(#g193)"/><rect x="328" y="23" width="2" height="209" fill="url(#g194)"/><rect x="330" y="23" width="2" height="209" fill="url(#g195)"/><rect x="332" y="23" width="2" height="209" fill="url(#g196)"/><rect x="334" y="23" width="2" height="209" fill="url(#g197)"/><rect x="336" y="23" width="2" height="209" fill="url(#g198)"/><rect x="338" y="23" width="2" height="209" fill="url(#g199)"/><rect x="340" y="23" width="2" height="209" fill="url(#g200)"/><rect x="342" y="23" width="2" height="209" fill="url(#g201)"/><rect x="344" y="23" width="2" height="209" fill="url(#g202)"/><rect x="346" y="23" width="2" height="209" fill="url(#g203)"/><rect x="348" y="23" width="2" height="209" fill="url(#g204)"/><rect x="350" y="23" width="2" height="209" fill="url(#g205)"/><rect x="352" y="23" width="2" height="209" fill="url(#g206)"/><rect x="354" y="23" width="2" height="209" fill="url(#g207)"/><rect x="356" y="23" width="2" height="209" fill="url(#g208)"/><rect x="358" y="23" width="2" height="209" fill="url(#g209)"/><rect x="360" y="23" width="2" height="209" fill="url(#g210)"/><rect x="362" y="23" width="2" height="209" fill="url(#g211)"/><rect x="364" y="23" width="2" height="209" fill="url(#g212)"/><rect x="366" y="23" width="2" height="209" fill="url(#g213)"/><rect x="368" y="23" width="2" height="209" fill="url(#g214)"/><rect x="370" y="23" width="2" height="209" fill="url(#g215)"/><rect x="372" y="23" width="2" height="209" fill="url(#g216)"/><rect x="374" y="23" width="2" height="209" fill="url(#g217)"/><rect x="376" y="23" width="2" height="209" fill="url(#g218)"/><rect x="378" y="23" width="2" height="209" fill="url(#g219)"/><rect x="380" y="23" width="2" height="209" fill="url(#g220)"/><rect x="382" y="23" width="2" height="209" fill="url(#g221)"/><rect x="384" y="23" width="2" height="209" fill="url(#g222)"/><rect x="386" y="23" width="2" height="209" fill="url(#g223)"/><rect x="388" y="23" width="2" height="209" fill="url(#g224)"/><rect x="390" y="23" width="2" height="209" fill="url(#g225)"/><rect x="392" y="23" width="2" height="209" fill="url(#g226)"/><rect x="394" y="23" width="2" height="209" fill="url(#g227)"/><rect x="396" y="23" width="2" height="209" fill="url(#g228)"/><rect x="398" y="23" width="2" height="209" fill="url(#g229)"/><rect x="400" y="23" width="2" height="209" fill="url(#g230)"/><rect x="402" y="23" width="2" height="209" fill="url(#g231)"/><rect x="404" y="23" width="2" height="209" fill="url(#g232)"/><rect x="406" y="23" width="2" height="209" fill="url(#g233)"/><rect x="408" y="23" width="2" height="209" fill="url(#g234)"/><rect x="410" y="23" width="2" height="209" fill="url(#g235)"/><rect x="412" y="23" width="2" height="209" fill="url(#g236)"/><rect x="414" y="23" width="2" height="209" fill="url(#g237)"/><rect x="416" y="23" width="2" height="209" fill="url(#g238)"/><rect x="418" y="23" width="2" height="209" fill="url(#g239)"/><rect x="420" y="23" width="2" height="209" fill="url(#g240)"/><rect x="422" y="23" width="2" height="209" fill="url(#g241)"/><rect x="424" y="23" width="2" height="209" fill="url(#g242)"/><rect x="426" y="23" width="2" height="209" fill="url(#g243)"/><rect x="428" y="23" width="2" height="209" fill="url(#g244)"/><rect x="430" y="23" width="2" height="209" fill="url(#g245)"/><rect x="432" y="23" width="2" height="209" fill="url(#g246)"/><rect x="434" y="23" width="2" height="209" fill="url(#g247)"/><rect x="436" y="23" width="2" height="209" fill="url(#g248)"/><rect x="438" y="23" width="2" height="209" fill="url(#g249)"/><rect x="440" y="23" width="2" height="209" fill="url(#g250)"/><rect x="442" y="23" width="2" height="209" fill="url(#g251)"/><rect x="444" y="23" width="2" height="209" fill="url(#g252)"/><rect x="446" y="23" width="2" height="209" fill="url(#g253)"/><rect x="448" y="23" width="2" height="209" fill="url(#g254)"/><rect x="450" y="23" width="2" height="209" fill="url(#g255)"/><rect x="452" y="23" width="2" height="209" fill="url(#g256)"/><rect x="454" y="23" width="2" height="209" fill="url(#g257)"/><rect x="456" y="23" width="2" height="209" fill="url(#g258)"/><rect x="458" y="23" width="2" height="209" fill="url(#g259)"/><rect x="460" y="23" width="2" height="209" fill="url(#g260)"/><rect x="462" y="23" width="2" height="209" fill="url(#g261)"/><rect x="464" y="23" width="2" height="209" fill="url(#g262)"/><rect x="466" y="23" width="2" height="209" fill="url(#g263)"/><rect x="468" y="23" width="2" height="209" fill="url(#g264)"/><rect x="470" y="23" width="2" height="209" fill="url(#g265)"/><rect x="472" y="23" width="2" height="209" fill="url(#g266)"/><rect x="474" y="23" width="2" height="209" fill="url(#g267)"/><rect x="476" y="23" width="2" height="209" fill="url(#g268)"/><rect x="478" y="23" width="2" height="209" fill="url(#g269)"/><rect x="480" y="23" width="2" height="209" fill="url(#g270)"/><rect x="482" y="23" width="2" height="209" fill="url(#g271)"/><rect x="484" y="23" width="2" height="209" fill="url(#g272)"/></g><g><rect x="69.2" y="23" width="1.05" height="209" fill="url(#s0)"/><rect x="70.1" y="23" width="1.05" height="209" fill="url(#s1)"/><rect x="71" y="23" width="1.15" height="209" fill="url(#s2)"/><rect x="72" y="23" width="1.15" height="209" fill="url(#s3)"/><rect x="73" y="23" width="1.15" height="209" fill="url(#s4)"/><rect x="74" y="23" width="1.15" height="209" fill="url(#s5)"/><rect x="75" y="23" width="1.15" height="209" fill="url(#s6)"/><rect x="76" y="23" width="1.15" height="209" fill="url(#s7)"/><rect x="77" y="23" width="1.15" height="209" fill="url(#s8)"/><rect x="78" y="23" width="1.15" height="209" fill="url(#s9)"/><rect x="79" y="23" width="1.15" height="209" fill="url(#s10)"/></g><path d="M431.2,23.5V109" stroke="#7d6a3c" stroke-width="1.1" fill="none"/><path d="M431.8,112V210" stroke="#5e7f92" stroke-width="1.1" fill="none"/><path d="M431.5,217V231" stroke="#b4783c" stroke-width="1.1" fill="none"/><path d="M68.7,23.3H486" fill="none" stroke="#444" stroke-width="1.4"/><path d="M486,22.8V231.6" fill="none" stroke="#1c1c24" stroke-width="1.5"/><path d="M62,231.5H486.7" fill="none" stroke="#000" stroke-width="1.5"/><path d="M68.7,22.6V232.2" fill="none" stroke="#111" stroke-width="1.2"/><path d="M62,23.3H69M62,58.0H69M62,92.7H69M62,127.3H69M62,162.0H69M62,196.7H69M62,231.4H69M65,34.9H69M65,46.4H69M65,69.5H69M65,81.1H69M65,104.2H69M65,115.8H69M65,138.9H69M65,150.5H69M65,173.6H69M65,185.2H69M65,208.3H69M65,219.8H69M69.5,231V238.8M86.1,231V235.2M102.8,231V235.2M119.4,231V235.2M136.1,231V235.2M152.7,231V238.8M169.3,231V235.2M186.0,231V235.2M202.6,231V235.2M219.3,231V235.2M235.9,231V238.8M252.5,231V235.2M269.2,231V235.2M285.8,231V235.2M302.5,231V235.2M319.1,231V238.8M335.7,231V235.2M352.4,231V235.2M369.0,231V235.2M385.7,231V235.2M402.3,231V238.8M418.9,231V235.2M435.6,231V235.2M452.2,231V235.2M468.9,231V235.2M485.5,231V238.8" fill="none" stroke="#000" stroke-width="1.4"/><rect x="498.5" y="100.4" width="15.2" height="130.8" fill="url(#cb)" stroke="#111" stroke-width="1"/><path d="M514,120H520.6M514,143.2H520.6M514,166.4H520.6M514,189.4H520.6M514,212.5H520.6" stroke="#000" stroke-width="1.3" fill="none"/><g clip-path="url(#cpb)"><path d="M75,412.3H486" stroke="#ff6a6a" stroke-width="0.6" stroke-dasharray="1 0.8" fill="none"/><rect x="69.3" y="301" width="0.9" height="56" fill="#6e6eff"/><rect x="68.8" y="355" width="1.6" height="83" fill="#1a1aff"/><rect x="68.8" y="372" width="2.3" height="66" fill="#1a1aff"/><rect x="71.4" y="301" width="2.2" height="95" fill="#1414ff"/><rect x="71.6" y="395" width="1.05" height="43" fill="#1a1aff"/><rect x="72.6" y="395" width="0.8" height="21.5" fill="#2a2aff"/><path d="M75.5,301V363" fill="none" stroke="#4646ff" stroke-width="1.2"/><path d="M75.9,362V372" fill="none" stroke="#5a5aff" stroke-width="0.8"/><path d="M77.2,301V415 L77.9,424 L78.6,431.3 L79.4,434.8 L80.3,436.6" fill="none" stroke="#4040ff" stroke-width="1.2"/><polyline points="80.3,436.6 81.7,434.6 83.1,436.7 85.2,434.4 86.0,433.9 86.6,432.8 90.0,426.5 93.3,420.0 98.9,405.2 103.3,394.1 105.9,390.6 107.7,391.0 111.0,393.4 114.3,393.2 118.8,393.0 121.0,390.8 124.3,385.3 128.7,378.6 130.9,375.3 134.3,368.0 137.6,362.7 142.0,358.3 145.3,352.0 149.8,339.9 154.2,326.6 157.5,317.7 159.7,314.9 161.9,317.7 165.3,329.9 168.6,346.5 170.8,360.9 173.0,376.4 175.2,391.9 177.4,401.9 179.6,406.3 181.9,407.8 185.2,407.4 189.6,406.5 193.6,405.6 194.0,405.6 194.2,417.5 194.5,405.8 196.2,406.5 201.0,409.0 205.0,411.4 207.6,411.6 210.0,407.0 211.6,405.2 214.0,406.0 218.0,408.4 222.0,410.4 226.0,412.4 229.0,413.2 233.0,412.6 238.0,412.2 242.0,412.6 246.0,414.0 249.0,419.0 251.0,424.0 253.0,426.6 254.4,424.0 256.4,416.0 258.0,411.6 260.0,411.6 264.0,413.0 268.0,414.6 272.0,415.2 276.0,416.4 280.0,417.0 284.0,417.2 288.0,416.4 292.0,415.6 296.0,415.0 302.0,414.0 310.0,413.0 318.0,411.6 323.0,410.0 326.0,408.0 327.6,410.0 329.0,415.0 331.0,418.4 333.0,419.0 338.0,418.4 342.0,417.6 344.0,415.6 345.0,417.0 347.0,414.0 348.0,415.6 350.0,412.0 351.0,414.4 352.4,411.0 353.6,414.0 354.4,409.6 355.6,413.0 357.0,417.0 358.0,412.0 359.0,419.0 360.0,410.0 361.0,392.0 362.2,370.0 363.4,296.0 364.2,296.0 365.4,400.0 366.2,340.0 366.8,402.0 367.6,296.0 368.8,296.0 369.3,325.0 369.8,296.0 370.8,296.0 371.6,352.8 372.4,296.0 373.2,296.0 373.6,318.0 374.0,296.0 374.6,296.0 375.2,384.0 375.8,296.0 376.8,296.0 377.2,320.0 377.6,296.0 378.6,296.0 379.0,350.0 379.9,366.0 380.4,385.0 381.1,403.6 381.8,409.2 382.5,405.0 383.9,407.8 385.3,406.4 386.7,409.2 388.0,409.5 388.8,412.1 389.5,411.1 390.4,407.2 391.3,407.0 392.2,407.2 392.9,410.1 394.0,407.6 394.8,411.7 395.9,411.2 396.8,414.5 397.5,413.5 398.4,407.6 399.1,408.9 400.2,407.8 401.1,411.5 402.0,410.8 402.7,406.7 403.5,411.8 404.4,408.8 405.4,409.9 406.2,412.6 407.2,408.1 408.2,410.3 409.3,412.0 410.1,414.0 410.9,409.4 411.9,407.1 412.8,406.2 413.8,412.1 414.8,413.0 415.6,411.5 416.6,410.5 417.5,412.6 418.6,409.5 419.6,406.1 420.6,410.9 421.8,412.3 422.6,408.7 423.6,405.6 424.5,406.8 425.3,405.9 425.8,401.0 426.0,436.5 426.2,404.0 427.5,411.0 428.5,405.0 429.5,412.0 430.5,406.0 431.5,409.0 432.5,296.0 432.7,437.0 433.3,410.0 434.3,437.0 434.5,404.0 435.5,410.0 436.5,405.5 437.3,407.6 438.4,405.1 439.3,408.9 440.4,411.1 441.5,406.7 442.4,407.4 443.5,412.2 444.2,405.9 445.0,406.4 446.0,409.2 446.4,409.0 446.9,419.0 447.3,400.0 448.0,375.0 448.4,363.4 448.9,380.0 449.5,402.0 450.0,407.0 451.0,413.0 453.0,413.2 455.0,414.4 457.0,413.6 459.0,414.4 461.0,414.0 463.0,414.6 465.0,414.6 468.0,417.0 470.0,423.0 472.0,427.4 473.4,429.6 474.2,426.0 475.0,424.0 476.0,421.5 477.0,420.0 478.6,418.0 480.0,419.0 481.0,416.5 482.0,414.0 483.4,416.0 485.0,417.0 486.0,416.5" fill="none" stroke="#2222ff" stroke-width="1.25" stroke-linejoin="round"/><path d="M363.9,300V384M364.4,300V340M366.9,300V396M367.3,300V330M371.2,300V330M375.4,300V345M379.2,300V372M378.9,300V330" fill="none" stroke="#2222ff" stroke-width="0.9"/></g><path d="M67.9,300.4H438" stroke="#000" stroke-width="1.5" fill="none"/><path d="M67.9,299.7V438.5" stroke="#000" stroke-width="1.7" fill="none"/><path d="M60.4,437.8H487.4" stroke="#000" stroke-width="1.6" fill="none"/><path d="M486.5,359V445.3" stroke="#000" stroke-width="1.6" fill="none"/><path d="M60.4,437.8H68M64.2,430.6H68M64.2,423.3H68M64.2,416.1H68M64.2,408.8H68M60.4,401.6H68M64.2,394.4H68M64.2,387.1H68M64.2,379.9H68M64.2,372.6H68M60.4,365.4H68M64.2,358.2H68M64.2,350.9H68M64.2,343.7H68M64.2,336.4H68M60.4,329.2H68M64.2,322.0H68M64.2,314.7H68M64.2,307.5H68M68.0,437.5V445.3M84.7,437.5V441.7M101.5,437.5V441.7M118.2,437.5V441.7M134.9,437.5V441.7M151.7,437.5V445.3M168.4,437.5V441.7M185.1,437.5V441.7M201.9,437.5V441.7M218.6,437.5V441.7M235.3,437.5V445.3M252.1,437.5V441.7M268.8,437.5V441.7M285.5,437.5V441.7M302.2,437.5V441.7M319.0,437.5V445.3M335.7,437.5V441.7M352.4,437.5V441.7M369.2,437.5V441.7M385.9,437.5V441.7M402.6,437.5V445.3M419.4,437.5V441.7M436.1,437.5V441.7M452.8,437.5V441.7M469.6,437.5V441.7M486.3,437.5V445.3" fill="none" stroke="#000" stroke-width="1.4"/><rect x="438" y="286" width="85" height="74" fill="#eed5d3"/><rect x="449.8" y="307.3" width="25.8" height="33.6" fill="#a4d6f0"/><g stroke="#47535b" stroke-width="4.8" fill="none"><path d="M449.8,311.5L475.6,310.6"/><path d="M449.8,319.6L475.6,318.8"/><path d="M449.8,328.4L475.6,327.6"/><path d="M449.8,337.4L475.6,336.8"/></g><g stroke="#7f8d96" stroke-width="1" fill="none"><path d="M449.8,310.6L475.6,309.6"/><path d="M449.8,318.8L475.6,318"/><path d="M449.8,327.6L475.6,326.8"/><path d="M449.8,336.8L475.6,336.2"/></g><path d="M444.4,308.0 l3.3,5.0 h-1.8 V336.4 h1.8 L444.4,341.4 l-3.3,-5.0 h1.8 V313.0 h-1.8z" fill="#ffe400" stroke="#ffa800" stroke-width="0.8"/><path d="M445.2,345.8 l5.0,-3.3 v1.8 H475.0 v-1.8 L480.0,345.8 l-5.0,3.3 v-1.8 H450.2 v1.8z" fill="#ffe400" stroke="#ffa800" stroke-width="0.8"/></svg>
<div id="L">
<div class="t" style="left:65.3px;top:3.4px;font-size:15.6px">(a)</div>
<div class="t" style="left:65.3px;top:279.2px;font-size:15.6px">(b)</div>
<div class="t tk r" style="left:16.8px;width:40px;top:15.7px">90</div>
<div class="t tk r" style="left:16.8px;width:40px;top:50.4px">60</div>
<div class="t tk r" style="left:16.8px;width:40px;top:85.1px">30</div>
<div class="t tk r" style="left:16.8px;width:40px;top:119.8px">0</div>
<div class="t tk r" style="left:16.8px;width:40px;top:154.4px">-30</div>
<div class="t tk r" style="left:16.8px;width:40px;top:189.1px">-60</div>
<div class="t tk r" style="left:16.8px;width:40px;top:223.8px">-90</div>
<div class="t tk c" style="left:39.8px;width:60px;top:243.2px">0</div>
<div class="t tk c" style="left:38.3px;width:60px;top:449.9px">0</div>
<div class="t tk c" style="left:123.0px;width:60px;top:243.2px">200</div>
<div class="t tk c" style="left:122.0px;width:60px;top:449.9px">200</div>
<div class="t tk c" style="left:206.2px;width:60px;top:243.2px">400</div>
<div class="t tk c" style="left:205.6px;width:60px;top:449.9px">400</div>
<div class="t tk c" style="left:289.4px;width:60px;top:243.2px">600</div>
<div class="t tk c" style="left:289.3px;width:60px;top:449.9px">600</div>
<div class="t tk c" style="left:372.6px;width:60px;top:243.2px">800</div>
<div class="t tk c" style="left:372.9px;width:60px;top:449.9px">800</div>
<div class="t tk c" style="left:455.8px;width:60px;top:243.2px">1000</div>
<div class="t tk c" style="left:456.6px;width:60px;top:449.9px">1000</div>
<div class="t tk r" style="left:15.6px;width:40px;top:430.2px">1.0</div>
<div class="t tk r" style="left:15.6px;width:40px;top:394.0px">1.5</div>
<div class="t tk r" style="left:15.6px;width:40px;top:357.8px">2.0</div>
<div class="t tk r" style="left:15.6px;width:40px;top:321.6px">2.5</div>
<div class="t r" style="left:503px;width:40px;top:115.3px;font-size:10px">0.2</div>
<div class="t r" style="left:503px;width:40px;top:138.5px;font-size:10px">0.1</div>
<div class="t r" style="left:503px;width:40px;top:161.7px;font-size:10px">0.0</div>
<div class="t r" style="left:503px;width:40px;top:184.9px;font-size:10px">-0.1</div>
<div class="t r" style="left:503px;width:40px;top:208.1px;font-size:10px">-0.2</div>
<div class="t ax" style="left:199.0px;top:265.3px">Wavenumber (cm<sup style="font-size:10px;position:relative;top:-10.5px;margin-left:0.5px;margin-right:1.1px;vertical-align:baseline">-1</sup>)</div>
<div class="t ax" style="left:198.5px;top:472.3px">Wavenumber (cm<sup style="font-size:10px;position:relative;top:-10.5px;margin-left:0.5px;margin-right:1.1px;vertical-align:baseline">-1</sup>)</div>
<div class="t ax rot" style="left:6.5px;top:196.5px;font-size:17.5px">Angle <span style="display:inline-block;transform:scaleX(0.86);margin:0 -0.8px">&theta;</span> (degrees)</div>
<div class="t ax rot" style="left:8.4px;top:428.8px;font-size:18px">Extinction ratio</div>
<div class="t rot" style="left:496.6px;top:221px;font-size:17.2px;color:#000">transmittance</div>
<div class="t rot" style="left:363.1px;top:434px;font-size:17px;color:#92b0d6">H<sub style="font-size:11px;position:relative;top:4px;vertical-align:baseline">2</sub>O</div>
<div class="t" style="left:443px;top:289.7px;font-size:16px;color:#000">T<sub style="font-size:10.5px;position:relative;top:4.9px;vertical-align:baseline">0</sub></div>
<div class="t" style="left:483px;top:337.6px;font-size:16px;color:#000">T<sub style="font-size:10.5px;position:relative;top:4.8px;vertical-align:baseline">90</sub></div>
<div class="t" style="left:477px;top:300.9px;font-size:16px;color:#fff">brown</div>
<div class="t" style="left:477px;top:320.2px;font-size:16px;color:#fff">silk</div>
</div>
</body></html>
